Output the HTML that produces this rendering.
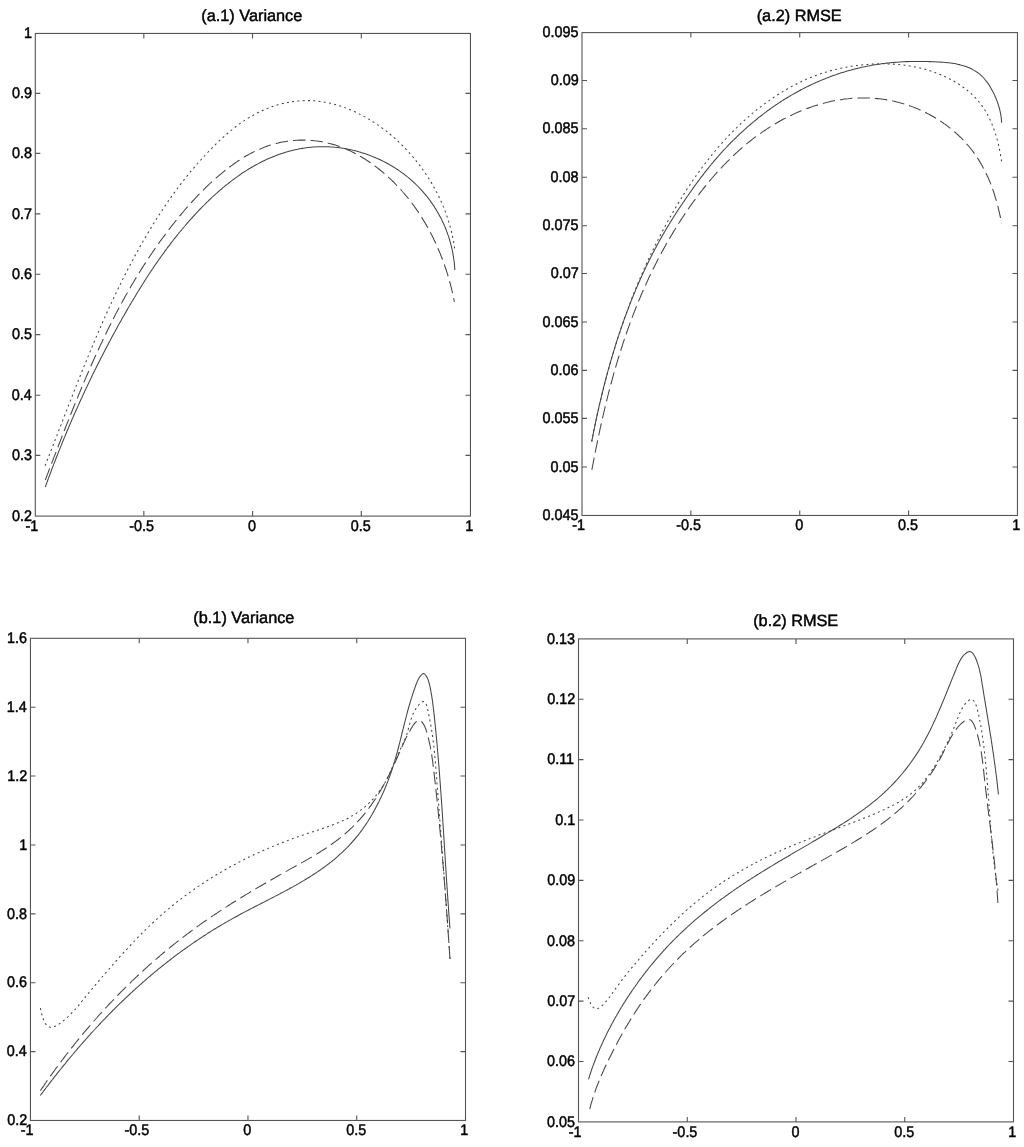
<!DOCTYPE html><html><head><meta charset="utf-8"><style>html,body{margin:0;padding:0;background:#fff;width:1024px;height:1147px;overflow:hidden}svg{display:block;will-change:transform}text{text-rendering:geometricPrecision;font-family:"Liberation Sans",sans-serif;fill:#000;stroke:#000;stroke-width:0.45px}</style></head><body>
<svg width="1024" height="1147" viewBox="0 0 1024 1147">
<rect width="1024" height="1147" fill="#fff"/>
<rect x="35.30" y="33.45" width="435.15" height="482.65" fill="none" stroke="#555" stroke-width="1.1"/>
<path d="M143.84 516.10v-5.00M143.84 33.45v5.00M252.57 516.10v-5.00M252.57 33.45v5.00M361.30 516.10v-5.00M361.30 33.45v5.00M35.30 455.40h5.00M470.45 455.40h-5.00M35.30 395.30h5.00M470.45 395.30h-5.00M35.30 334.60h5.00M470.45 334.60h-5.00M35.30 274.20h5.00M470.45 274.20h-5.00M35.30 213.90h5.00M470.45 213.90h-5.00M35.30 153.40h5.00M470.45 153.40h-5.00M35.30 93.40h5.00M470.45 93.40h-5.00" stroke="#555" stroke-width="1.1"/>
<text transform="matrix(1 0 0 1.07 25.58 531.10)" font-size="14.4">-1</text>
<text transform="matrix(1 0 0 1.07 129.17 531.10)" font-size="14.4">-0.5</text>
<text transform="matrix(1 0 0 1.07 247.97 531.10)" font-size="14.4">0</text>
<text transform="matrix(1 0 0 1.07 350.71 531.10)" font-size="14.4">0.5</text>
<text transform="matrix(1 0 0 1.07 465.25 531.10)" font-size="14.4">1</text>
<text transform="matrix(1 0 0 1.07 12.01 520.85)" font-size="14.4">0.2</text>
<text transform="matrix(1 0 0 1.07 11.91 460.15)" font-size="14.4">0.3</text>
<text transform="matrix(1 0 0 1.07 11.70 400.05)" font-size="14.4">0.4</text>
<text transform="matrix(1 0 0 1.07 11.89 339.35)" font-size="14.4">0.5</text>
<text transform="matrix(1 0 0 1.07 11.91 278.95)" font-size="14.4">0.6</text>
<text transform="matrix(1 0 0 1.07 12.01 218.65)" font-size="14.4">0.7</text>
<text transform="matrix(1 0 0 1.07 11.91 158.15)" font-size="14.4">0.8</text>
<text transform="matrix(1 0 0 1.07 11.96 98.15)" font-size="14.4">0.9</text>
<text transform="matrix(1 0 0 1.07 23.99 38.20)" font-size="14.4">1</text>
<text x="201.27" y="20.80" font-size="16.3">(a.1) Variance</text>
<path d="M45.31 487.00C45.4 486.7 45.8 485.8 46.0 485.1C46.2 484.5 46.4 483.9 46.7 483.3C46.9 482.6 47.1 482.0 47.3 481.4C47.6 480.8 47.8 480.2 48.0 479.5C48.3 478.9 48.5 478.3 48.7 477.7C48.9 477.0 49.2 476.4 49.4 475.8C49.6 475.2 49.9 474.5 50.1 473.9C50.3 473.3 50.6 472.7 50.8 472.1C51.0 471.4 51.3 470.8 51.5 470.2C51.7 469.6 52.0 468.9 52.2 468.3C52.5 467.7 52.7 467.1 52.9 466.4C53.2 465.8 53.4 465.2 53.6 464.6C53.9 464.0 54.1 463.3 54.4 462.7C54.6 462.1 54.8 461.5 55.1 460.9C55.3 460.2 55.6 459.6 55.8 459.0C56.0 458.4 56.3 457.8 56.5 457.1C56.8 456.5 57.0 455.9 57.3 455.3C57.5 454.6 57.8 454.0 58.0 453.4C58.2 452.8 58.5 452.2 58.7 451.5C59.0 450.9 59.2 450.3 59.5 449.7C59.7 449.1 60.0 448.4 60.2 447.8C60.5 447.2 60.7 446.6 61.0 446.0C61.2 445.3 61.5 444.7 61.7 444.1C62.0 443.5 62.2 442.9 62.5 442.2C62.7 441.6 63.0 441.0 63.2 440.4C63.5 439.8 63.8 439.2 64.0 438.5C64.3 437.9 64.5 437.3 64.8 436.7C65.0 436.1 65.3 435.4 65.5 434.8C65.8 434.2 66.1 433.6 66.3 433.0C66.6 432.4 66.8 431.7 67.1 431.1C67.3 430.5 67.6 429.9 67.9 429.3C68.1 428.7 68.4 428.0 68.7 427.4C68.9 426.8 69.2 426.2 69.4 425.6C69.7 425.0 70.0 424.3 70.2 423.7C70.5 423.1 70.8 422.5 71.0 421.9C71.3 421.3 71.6 420.6 71.8 420.0C72.1 419.4 72.4 418.8 72.6 418.2C72.9 417.6 73.2 417.0 73.4 416.3C73.7 415.7 74.0 415.1 74.2 414.5C74.5 413.9 74.8 413.3 75.0 412.7C75.3 412.0 75.6 411.4 75.9 410.8C76.1 410.2 76.4 409.6 76.7 409.0C77.0 408.4 77.2 407.8 77.5 407.1C77.8 406.5 78.1 405.9 78.3 405.3C78.6 404.7 78.9 404.1 79.2 403.5C79.4 402.9 79.7 402.2 80.0 401.6C80.3 401.0 80.5 400.4 80.8 399.8C81.1 399.2 81.4 398.6 81.7 398.0C81.9 397.4 82.2 396.8 82.5 396.1C82.8 395.5 83.1 394.9 83.3 394.3C83.6 393.7 83.9 393.1 84.2 392.5C84.5 391.9 84.8 391.3 85.0 390.7C85.3 390.1 85.6 389.5 85.9 388.9C86.2 388.2 86.5 387.6 86.8 387.0C87.0 386.4 87.3 385.8 87.6 385.2C87.9 384.6 88.2 384.0 88.5 383.4C88.8 382.8 89.1 382.2 89.3 381.6C89.6 381.0 89.9 380.4 90.2 379.8C90.5 379.2 90.8 378.6 91.1 377.9C91.4 377.3 91.7 376.7 92.0 376.1C92.3 375.5 92.6 374.9 92.8 374.3C93.1 373.7 93.4 373.1 93.7 372.5C94.0 371.9 94.3 371.3 94.6 370.7C94.9 370.1 95.2 369.5 95.5 368.9C95.8 368.3 96.1 367.7 96.4 367.1C96.7 366.5 97.0 365.9 97.3 365.3C97.6 364.7 97.9 364.1 98.2 363.5C98.5 362.9 98.8 362.3 99.1 361.7C99.4 361.1 99.7 360.5 100.0 359.9C100.3 359.3 100.6 358.7 100.9 358.1C101.2 357.5 101.5 356.9 101.8 356.4C102.1 355.8 102.4 355.2 102.8 354.6C103.1 354.0 103.4 353.4 103.7 352.8C104.0 352.2 104.3 351.6 104.6 351.0C104.9 350.4 105.2 349.8 105.5 349.2C105.8 348.6 106.1 348.0 106.5 347.4C106.8 346.8 107.1 346.3 107.4 345.7C107.7 345.1 108.0 344.5 108.3 343.9C108.6 343.3 108.9 342.7 109.2 342.1C109.6 341.5 109.9 340.9 110.2 340.4C110.5 339.8 110.8 339.2 111.1 338.6C111.5 338.0 111.8 337.4 112.1 336.8C112.4 336.2 112.7 335.6 113.0 335.1C113.4 334.5 113.7 333.9 114.0 333.3C114.3 332.7 114.6 332.1 115.0 331.5C115.3 331.0 115.6 330.4 115.9 329.8C116.2 329.2 116.6 328.6 116.9 328.0C117.2 327.5 117.5 326.9 117.8 326.3C118.2 325.7 118.5 325.1 118.8 324.5C119.1 324.0 119.5 323.4 119.8 322.8C120.1 322.2 120.4 321.6 120.8 321.1C121.1 320.5 121.4 319.9 121.7 319.3C122.1 318.7 122.4 318.2 122.7 317.6C123.0 317.0 123.4 316.4 123.7 315.9C124.0 315.3 124.4 314.7 124.7 314.1C125.0 313.5 125.4 313.0 125.7 312.4C126.0 311.8 126.3 311.2 126.7 310.7C127.0 310.1 127.3 309.5 127.7 308.9C128.0 308.4 128.3 307.8 128.7 307.2C129.0 306.6 129.3 306.1 129.7 305.5C130.0 304.9 130.4 304.4 130.7 303.8C131.0 303.2 131.4 302.6 131.7 302.1C132.0 301.5 132.4 300.9 132.7 300.4C133.1 299.8 133.4 299.2 133.7 298.7C134.1 298.1 134.4 297.5 134.8 297.0C135.1 296.4 135.4 295.8 135.8 295.3C136.1 294.7 136.5 294.1 136.8 293.6C137.1 293.0 137.5 292.4 137.8 291.9C138.2 291.3 138.5 290.8 138.9 290.2C139.2 289.6 139.6 289.1 139.9 288.5C140.3 287.9 140.6 287.4 141.0 286.8C141.3 286.3 141.7 285.7 142.0 285.1C142.4 284.6 142.7 284.0 143.1 283.5C143.4 282.9 143.8 282.3 144.1 281.8C144.5 281.2 144.8 280.7 145.2 280.1C145.5 279.6 145.9 279.0 146.2 278.5C146.6 277.9 147.0 277.3 147.3 276.8C147.7 276.2 148.1 275.7 148.4 275.1C148.8 274.6 149.1 274.0 149.5 273.5C149.9 272.9 150.2 272.4 150.6 271.8C150.9 271.3 151.3 270.7 151.7 270.2C152.0 269.6 152.4 269.1 152.8 268.5C153.1 268.0 153.5 267.4 153.9 266.9C154.3 266.3 154.6 265.8 155.0 265.2C155.4 264.7 155.8 264.2 156.1 263.6C156.5 263.1 156.9 262.5 157.2 262.0C157.6 261.4 158.0 260.9 158.4 260.4C158.8 259.8 159.1 259.3 159.5 258.7C159.9 258.2 160.3 257.6 160.7 257.1C161.1 256.6 161.4 256.0 161.8 255.5C162.2 255.0 162.6 254.4 163.0 253.9C163.4 253.3 163.8 252.8 164.2 252.3C164.6 251.7 164.9 251.2 165.3 250.7C165.7 250.1 166.1 249.6 166.5 249.1C166.9 248.5 167.3 248.0 167.7 247.4C168.1 246.9 168.5 246.4 168.9 245.9C169.3 245.3 169.7 244.8 170.1 244.3C170.5 243.7 170.9 243.2 171.3 242.7C171.7 242.2 172.1 241.6 172.6 241.1C173.0 240.6 173.4 240.0 173.8 239.5C174.2 239.0 174.6 238.5 175.0 237.9C175.4 237.4 175.9 236.9 176.3 236.4C176.7 235.8 177.1 235.3 177.5 234.8C177.9 234.3 178.4 233.8 178.8 233.2C179.2 232.7 179.6 232.2 180.1 231.7C180.5 231.2 180.9 230.6 181.4 230.1C181.8 229.6 182.2 229.1 182.7 228.6C183.1 228.1 183.5 227.5 184.0 227.0C184.4 226.5 184.8 226.0 185.3 225.5C185.7 225.0 186.1 224.5 186.6 223.9C187.0 223.4 187.5 222.9 187.9 222.4C188.4 221.9 188.8 221.4 189.3 220.9C189.7 220.4 190.2 219.9 190.6 219.4C191.1 218.9 191.5 218.4 192.0 217.8C192.4 217.3 192.9 216.8 193.3 216.3C193.8 215.8 194.3 215.3 194.7 214.8C195.2 214.3 195.6 213.8 196.1 213.3C196.6 212.8 197.0 212.3 197.5 211.8C198.0 211.4 198.4 210.9 198.9 210.4C199.4 209.9 199.9 209.4 200.3 208.9C200.8 208.4 201.3 207.9 201.8 207.4C202.2 206.9 202.7 206.5 203.2 206.0C203.7 205.5 204.2 205.0 204.7 204.5C205.1 204.0 205.6 203.6 206.1 203.1C206.6 202.6 207.1 202.1 207.6 201.7C208.1 201.2 208.5 200.7 209.0 200.2C209.5 199.7 210.0 199.3 210.5 198.8C211.0 198.3 211.5 197.9 212.0 197.4C212.5 197.0 213.0 196.5 213.5 196.0C214.0 195.6 214.5 195.1 215.0 194.7C215.5 194.2 216.0 193.7 216.5 193.3C217.0 192.8 217.6 192.4 218.1 191.9C218.6 191.5 219.1 191.0 219.6 190.6C220.1 190.1 220.6 189.7 221.2 189.3C221.7 188.8 222.2 188.4 222.7 187.9C223.2 187.5 223.8 187.1 224.3 186.7C224.8 186.2 225.3 185.8 225.8 185.4C226.4 184.9 226.9 184.5 227.4 184.1C228.0 183.7 228.5 183.3 229.0 182.8C229.6 182.4 230.1 182.0 230.6 181.6C231.2 181.2 231.7 180.8 232.2 180.4C232.8 180.0 233.3 179.6 233.8 179.2C234.4 178.8 234.9 178.4 235.5 178.0C236.0 177.6 236.6 177.2 237.1 176.8C237.7 176.4 238.2 176.0 238.8 175.6C239.3 175.2 239.9 174.9 240.4 174.5C241.0 174.1 241.5 173.7 242.1 173.3C242.6 173.0 243.2 172.6 243.7 172.2C244.3 171.9 244.9 171.5 245.4 171.2C246.0 170.8 246.5 170.4 247.1 170.1C247.7 169.7 248.2 169.4 248.8 169.0C249.4 168.7 249.9 168.3 250.5 168.0C251.1 167.7 251.6 167.3 252.2 167.0C252.8 166.7 253.4 166.3 253.9 166.0C254.5 165.7 255.1 165.3 255.7 165.0C256.3 164.7 256.8 164.4 257.4 164.1C258.0 163.8 258.6 163.4 259.2 163.1C259.7 162.8 260.3 162.5 260.9 162.2C261.5 161.9 262.1 161.6 262.7 161.3C263.3 161.1 263.9 160.8 264.5 160.5C265.1 160.2 265.6 159.9 266.2 159.6C266.8 159.4 267.4 159.1 268.0 158.8C268.6 158.6 269.2 158.3 269.8 158.0C270.4 157.8 271.0 157.5 271.6 157.3C272.2 157.0 272.8 156.8 273.4 156.5C274.0 156.3 274.7 156.0 275.3 155.8C275.9 155.6 276.5 155.3 277.1 155.1C277.7 154.9 278.3 154.6 278.9 154.4C279.5 154.2 280.2 154.0 280.8 153.8C281.4 153.6 282.0 153.4 282.6 153.2C283.2 153.0 283.9 152.8 284.5 152.6C285.1 152.4 285.7 152.2 286.4 152.0C287.0 151.8 287.6 151.6 288.2 151.4C288.9 151.3 289.5 151.1 290.1 150.9C290.8 150.8 291.4 150.6 292.0 150.4C292.7 150.3 293.3 150.1 293.9 150.0C294.6 149.9 295.2 149.7 295.8 149.6C296.5 149.4 297.1 149.3 297.8 149.2C298.4 149.0 299.0 148.9 299.7 148.8C300.3 148.7 301.0 148.6 301.6 148.5C302.3 148.4 302.9 148.2 303.6 148.2C304.2 148.1 304.9 148.0 305.5 147.9C306.2 147.8 306.8 147.7 307.5 147.6C308.1 147.5 308.8 147.5 309.4 147.4C310.1 147.3 310.7 147.3 311.4 147.2C312.1 147.1 312.7 147.1 313.4 147.0C314.0 147.0 314.7 146.9 315.3 146.9C316.0 146.9 316.7 146.8 317.3 146.8C318.0 146.8 318.6 146.8 319.3 146.7C320.0 146.7 320.6 146.7 321.3 146.7C322.0 146.7 322.6 146.7 323.3 146.7C323.9 146.7 324.6 146.7 325.3 146.7C325.9 146.7 326.6 146.7 327.3 146.8C327.9 146.8 328.6 146.8 329.3 146.8C329.9 146.9 330.6 146.9 331.3 147.0C331.9 147.0 332.6 147.0 333.2 147.1C333.9 147.2 334.6 147.2 335.2 147.3C335.9 147.3 336.6 147.4 337.2 147.5C337.9 147.6 338.6 147.6 339.2 147.7C339.9 147.8 340.5 147.9 341.2 148.0C341.9 148.1 342.5 148.2 343.2 148.3C343.9 148.4 344.5 148.5 345.2 148.6C345.8 148.7 346.5 148.9 347.2 149.0C347.8 149.1 348.5 149.2 349.1 149.4C349.8 149.5 350.5 149.7 351.1 149.8C351.8 149.9 352.4 150.1 353.1 150.3C353.7 150.4 354.4 150.6 355.0 150.7C355.7 150.9 356.3 151.1 357.0 151.2C357.6 151.4 358.3 151.6 358.9 151.8C359.6 152.0 360.2 152.2 360.9 152.4C361.5 152.6 362.2 152.8 362.8 153.0C363.4 153.2 364.1 153.4 364.7 153.6C365.4 153.8 366.0 154.0 366.6 154.3C367.3 154.5 367.9 154.7 368.6 154.9C369.2 155.2 369.8 155.4 370.4 155.7C371.1 155.9 371.7 156.1 372.3 156.4C373.0 156.7 373.6 156.9 374.2 157.2C374.8 157.4 375.5 157.7 376.1 158.0C376.7 158.2 377.3 158.5 377.9 158.8C378.5 159.1 379.1 159.3 379.8 159.6C380.4 159.9 381.0 160.2 381.6 160.5C382.2 160.8 382.8 161.1 383.4 161.4C384.0 161.7 384.6 162.0 385.2 162.3C385.8 162.6 386.4 163.0 387.0 163.3C387.6 163.6 388.2 163.9 388.8 164.2C389.3 164.6 389.9 164.9 390.5 165.2C391.1 165.6 391.7 165.9 392.3 166.3C392.8 166.6 393.4 167.0 394.0 167.3C394.6 167.7 395.1 168.0 395.7 168.4C396.3 168.8 396.8 169.1 397.4 169.5C397.9 169.9 398.5 170.2 399.1 170.6C399.6 171.0 400.2 171.4 400.7 171.8C401.3 172.2 401.8 172.5 402.3 172.9C402.9 173.3 403.4 173.7 404.0 174.1C404.5 174.5 405.0 175.0 405.6 175.4C406.1 175.8 406.6 176.2 407.1 176.6C407.7 177.0 408.2 177.4 408.7 177.9C409.2 178.3 409.7 178.7 410.2 179.2C410.7 179.6 411.2 180.0 411.7 180.5C412.2 180.9 412.7 181.4 413.2 181.8C413.7 182.3 414.2 182.7 414.7 183.2C415.2 183.6 415.7 184.1 416.1 184.6C416.6 185.0 417.1 185.5 417.6 186.0C418.0 186.4 418.5 186.9 418.9 187.4C419.4 187.9 419.9 188.3 420.3 188.8C420.8 189.3 421.2 189.8 421.7 190.3C422.1 190.8 422.6 191.3 423.0 191.8C423.4 192.3 423.9 192.8 424.3 193.3C424.7 193.8 425.2 194.3 425.6 194.8C426.0 195.3 426.4 195.9 426.8 196.4C427.3 196.9 427.7 197.4 428.1 197.9C428.5 198.5 428.9 199.0 429.3 199.5C429.7 200.1 430.1 200.6 430.5 201.2C430.8 201.7 431.2 202.2 431.6 202.8C432.0 203.3 432.4 203.9 432.8 204.4C433.1 205.0 433.5 205.5 433.9 206.1C434.2 206.6 434.6 207.2 434.9 207.8C435.3 208.3 435.6 208.9 436.0 209.4C436.3 210.0 436.7 210.6 437.0 211.2C437.3 211.7 437.7 212.3 438.0 212.9C438.3 213.5 438.7 214.0 439.0 214.6C439.3 215.2 439.6 215.8 439.9 216.4C440.3 217.0 440.6 217.5 440.9 218.1C441.2 218.7 441.5 219.3 441.8 219.9C442.0 220.5 442.3 221.1 442.6 221.7C442.9 222.3 443.2 222.9 443.5 223.5C443.7 224.1 444.0 224.7 444.3 225.4C444.5 226.0 444.8 226.6 445.1 227.2C445.3 227.8 445.6 228.4 445.8 229.1C446.1 229.7 446.3 230.3 446.5 230.9C446.8 231.5 447.0 232.2 447.2 232.8C447.5 233.4 447.7 234.0 447.9 234.7C448.1 235.3 448.3 235.9 448.6 236.6C448.8 237.2 449.0 237.8 449.2 238.5C449.4 239.1 449.6 239.7 449.7 240.4C449.9 241.0 450.1 241.7 450.3 242.3C450.5 243.0 450.6 243.6 450.8 244.2C451.0 244.9 451.2 245.5 451.3 246.2C451.5 246.8 451.6 247.5 451.8 248.2C451.9 248.8 452.1 249.5 452.2 250.1C452.4 250.8 452.5 251.4 452.6 252.1C452.8 252.7 452.9 253.4 453.0 254.1C453.1 254.7 453.2 255.4 453.3 256.1C453.4 256.7 453.6 257.4 453.6 258.0C453.7 258.7 453.8 259.4 453.9 260.0C454.0 260.7 454.1 261.4 454.2 262.0C454.3 262.7 454.3 263.4 454.4 264.1C454.5 264.7 454.5 265.4 454.6 266.1C454.6 266.7 454.7 267.4 454.7 268.1C454.8 268.8 454.8 269.8 454.9 270.1" fill="none" stroke="#444" stroke-width="1.05"/>
<path d="M45.27 480.00C45.4 479.7 45.8 478.7 46.0 478.1C46.2 477.5 46.5 476.9 46.7 476.2C47.0 475.6 47.2 475.0 47.4 474.4C47.7 473.7 47.9 473.1 48.2 472.5C48.4 471.9 48.6 471.2 48.9 470.6C49.1 470.0 49.4 469.3 49.6 468.7C49.8 468.1 50.1 467.5 50.3 466.8C50.6 466.2 50.8 465.6 51.0 465.0C51.3 464.3 51.5 463.7 51.8 463.1C52.0 462.5 52.2 461.8 52.5 461.2C52.7 460.6 53.0 460.0 53.2 459.3C53.4 458.7 53.7 458.1 53.9 457.4C54.2 456.8 54.4 456.2 54.6 455.6C54.9 454.9 55.1 454.3 55.4 453.7C55.6 453.1 55.9 452.4 56.1 451.8C56.3 451.2 56.6 450.6 56.8 449.9C57.1 449.3 57.3 448.7 57.5 448.1C57.8 447.4 58.0 446.8 58.3 446.2C58.5 445.6 58.7 444.9 59.0 444.3C59.2 443.7 59.5 443.1 59.7 442.4C60.0 441.8 60.2 441.2 60.4 440.6C60.7 439.9 60.9 439.3 61.2 438.7C61.4 438.1 61.6 437.5 61.9 436.8C62.1 436.2 62.4 435.6 62.6 435.0C62.9 434.3 63.1 433.7 63.4 433.1C63.6 432.5 63.8 431.8 64.1 431.2C64.3 430.6 64.6 430.0 64.8 429.3C65.1 428.7 65.3 428.1 65.5 427.5C65.8 426.9 66.0 426.2 66.3 425.6C66.5 425.0 66.8 424.4 67.0 423.7C67.3 423.1 67.5 422.5 67.8 421.9C68.0 421.2 68.2 420.6 68.5 420.0C68.7 419.4 69.0 418.8 69.2 418.1C69.5 417.5 69.7 416.9 70.0 416.3C70.2 415.7 70.5 415.0 70.7 414.4C71.0 413.8 71.2 413.2 71.5 412.6C71.7 411.9 72.0 411.3 72.2 410.7C72.4 410.1 72.7 409.5 73.0 408.8C73.2 408.2 73.5 407.6 73.7 407.0C74.0 406.4 74.2 405.7 74.5 405.1C74.7 404.5 75.0 403.9 75.2 403.3C75.5 402.7 75.7 402.0 76.0 401.4C76.2 400.8 76.5 400.2 76.7 399.6C77.0 398.9 77.2 398.3 77.5 397.7C77.7 397.1 78.0 396.5 78.2 395.9C78.5 395.2 78.7 394.6 79.0 394.0C79.3 393.4 79.5 392.8 79.8 392.2C80.0 391.5 80.3 390.9 80.5 390.3C80.8 389.7 81.1 389.1 81.3 388.5C81.6 387.8 81.8 387.2 82.1 386.6C82.3 386.0 82.6 385.4 82.8 384.8C83.1 384.2 83.4 383.6 83.6 382.9C83.9 382.3 84.1 381.7 84.4 381.1C84.7 380.5 84.9 379.9 85.2 379.3C85.5 378.6 85.7 378.0 86.0 377.4C86.2 376.8 86.5 376.2 86.8 375.6C87.0 375.0 87.3 374.4 87.6 373.8C87.8 373.1 88.1 372.5 88.4 371.9C88.6 371.3 88.9 370.7 89.2 370.1C89.4 369.5 89.7 368.9 90.0 368.3C90.2 367.6 90.5 367.0 90.8 366.4C91.0 365.8 91.3 365.2 91.6 364.6C91.8 364.0 92.1 363.4 92.4 362.8C92.6 362.2 92.9 361.6 93.2 361.0C93.5 360.4 93.7 359.7 94.0 359.1C94.3 358.5 94.5 357.9 94.8 357.3C95.1 356.7 95.4 356.1 95.6 355.5C95.9 354.9 96.2 354.3 96.5 353.7C96.7 353.1 97.0 352.5 97.3 351.9C97.6 351.3 97.9 350.7 98.1 350.1C98.4 349.5 98.7 348.9 99.0 348.3C99.2 347.7 99.5 347.1 99.8 346.5C100.1 345.9 100.4 345.3 100.7 344.6C100.9 344.0 101.2 343.5 101.5 342.9C101.8 342.2 102.1 341.7 102.3 341.1C102.6 340.4 102.9 339.8 103.2 339.2C103.5 338.7 103.8 338.1 104.1 337.5C104.3 336.9 104.6 336.3 104.9 335.7C105.2 335.1 105.5 334.5 105.8 333.9C106.1 333.3 106.4 332.7 106.7 332.1C107.0 331.5 107.2 330.9 107.5 330.3C107.8 329.7 108.1 329.1 108.4 328.5C108.7 327.9 109.0 327.3 109.3 326.7C109.6 326.1 109.9 325.5 110.2 324.9C110.5 324.4 110.8 323.8 111.1 323.2C111.4 322.6 111.7 322.0 112.0 321.4C112.3 320.8 112.6 320.2 112.9 319.6C113.2 319.0 113.5 318.5 113.8 317.9C114.1 317.3 114.4 316.7 114.7 316.1C115.0 315.5 115.3 314.9 115.6 314.3C115.9 313.7 116.2 313.1 116.5 312.6C116.8 312.0 117.2 311.4 117.5 310.8C117.8 310.2 118.1 309.6 118.4 309.0C118.7 308.5 119.0 307.9 119.3 307.3C119.6 306.7 120.0 306.1 120.3 305.5C120.6 305.0 120.9 304.4 121.2 303.8C121.5 303.2 121.8 302.6 122.2 302.0C122.5 301.5 122.8 300.9 123.1 300.3C123.4 299.7 123.8 299.1 124.1 298.6C124.4 298.0 124.7 297.4 125.0 296.8C125.4 296.2 125.7 295.7 126.0 295.1C126.3 294.5 126.7 293.9 127.0 293.4C127.3 292.8 127.6 292.2 128.0 291.6C128.3 291.0 128.6 290.5 129.0 289.9C129.3 289.3 129.6 288.7 129.9 288.2C130.3 287.6 130.6 287.0 130.9 286.4C131.3 285.9 131.6 285.3 131.9 284.7C132.3 284.2 132.6 283.6 133.0 283.0C133.3 282.4 133.6 281.9 134.0 281.3C134.3 280.7 134.7 280.2 135.0 279.6C135.3 279.0 135.7 278.5 136.0 277.9C136.4 277.3 136.7 276.8 137.1 276.2C137.4 275.6 137.8 275.1 138.1 274.5C138.4 273.9 138.8 273.4 139.1 272.8C139.5 272.2 139.8 271.7 140.2 271.1C140.5 270.5 140.9 270.0 141.2 269.4C141.6 268.9 142.0 268.3 142.3 267.7C142.7 267.2 143.0 266.6 143.4 266.1C143.7 265.5 144.1 264.9 144.5 264.4C144.8 263.8 145.2 263.2 145.5 262.7C145.9 262.1 146.3 261.6 146.6 261.0C147.0 260.5 147.4 259.9 147.7 259.4C148.1 258.8 148.5 258.2 148.8 257.7C149.2 257.1 149.6 256.6 149.9 256.0C150.3 255.5 150.7 254.9 151.1 254.4C151.4 253.8 151.8 253.3 152.2 252.7C152.5 252.2 152.9 251.6 153.3 251.1C153.7 250.5 154.1 250.0 154.4 249.4C154.8 248.9 155.2 248.3 155.6 247.8C156.0 247.2 156.3 246.7 156.7 246.1C157.1 245.6 157.5 245.0 157.9 244.5C158.3 243.9 158.7 243.4 159.0 242.9C159.4 242.3 159.8 241.8 160.2 241.2C160.6 240.7 161.0 240.2 161.4 239.6C161.8 239.1 162.2 238.5 162.6 238.0C163.0 237.5 163.4 236.9 163.8 236.4C164.2 235.8 164.6 235.3 165.0 234.8C165.4 234.2 165.8 233.7 166.2 233.1C166.6 232.6 167.0 232.1 167.4 231.5C167.8 231.0 168.2 230.5 168.6 229.9C169.0 229.4 169.4 228.9 169.8 228.3C170.3 227.8 170.7 227.3 171.1 226.7C171.5 226.2 171.9 225.7 172.3 225.2C172.7 224.6 173.2 224.1 173.6 223.6C174.0 223.0 174.4 222.5 174.8 222.0C175.3 221.5 175.7 220.9 176.1 220.4C176.5 219.9 177.0 219.4 177.4 218.8C177.8 218.3 178.2 217.8 178.7 217.3C179.1 216.7 179.5 216.2 179.9 215.7C180.4 215.2 180.8 214.7 181.2 214.1C181.7 213.6 182.1 213.1 182.6 212.6C183.0 212.1 183.4 211.5 183.9 211.0C184.3 210.5 184.8 210.0 185.2 209.5C185.6 209.0 186.1 208.5 186.5 207.9C187.0 207.4 187.4 206.9 187.9 206.4C188.3 205.9 188.8 205.4 189.2 204.9C189.7 204.4 190.1 203.9 190.6 203.4C191.0 202.9 191.5 202.4 191.9 201.9C192.4 201.4 192.9 200.9 193.3 200.4C193.8 199.9 194.2 199.4 194.7 198.9C195.2 198.4 195.6 197.9 196.1 197.4C196.6 196.9 197.0 196.4 197.5 195.9C198.0 195.4 198.4 194.9 198.9 194.4C199.4 193.9 199.9 193.5 200.3 193.0C200.8 192.5 201.3 192.0 201.8 191.5C202.2 191.0 202.7 190.6 203.2 190.1C203.7 189.6 204.2 189.1 204.7 188.6C205.1 188.2 205.6 187.7 206.1 187.2C206.6 186.8 207.1 186.3 207.6 185.8C208.1 185.4 208.5 184.9 209.0 184.4C209.5 184.0 210.0 183.5 210.5 183.0C211.0 182.6 211.5 182.1 212.0 181.7C212.5 181.2 213.0 180.8 213.5 180.3C214.0 179.8 214.5 179.4 215.0 178.9C215.5 178.5 216.0 178.1 216.6 177.6C217.1 177.2 217.6 176.7 218.1 176.3C218.6 175.9 219.1 175.4 219.6 175.0C220.1 174.5 220.7 174.1 221.2 173.7C221.7 173.3 222.2 172.8 222.7 172.4C223.3 172.0 223.8 171.6 224.3 171.1C224.8 170.7 225.4 170.3 225.9 169.9C226.4 169.5 226.9 169.1 227.5 168.7C228.0 168.3 228.5 167.8 229.1 167.4C229.6 167.0 230.1 166.6 230.7 166.2C231.2 165.8 231.7 165.5 232.3 165.1C232.8 164.7 233.4 164.3 233.9 163.9C234.5 163.5 235.0 163.1 235.6 162.8C236.1 162.4 236.7 162.0 237.2 161.6C237.8 161.2 238.3 160.9 238.9 160.5C239.4 160.2 240.0 159.8 240.5 159.4C241.1 159.1 241.7 158.7 242.2 158.4C242.8 158.0 243.3 157.7 243.9 157.3C244.5 157.0 245.0 156.7 245.6 156.3C246.2 156.0 246.7 155.7 247.3 155.3C247.9 155.0 248.5 154.7 249.0 154.4C249.6 154.1 250.2 153.7 250.8 153.4C251.4 153.1 251.9 152.8 252.5 152.5C253.1 152.2 253.7 151.9 254.3 151.6C254.9 151.3 255.5 151.1 256.0 150.8C256.6 150.5 257.2 150.2 257.8 150.0C258.4 149.7 259.0 149.4 259.6 149.2C260.2 148.9 260.8 148.6 261.4 148.4C262.0 148.1 262.6 147.9 263.2 147.7C263.8 147.4 264.4 147.2 265.0 146.9C265.6 146.7 266.3 146.5 266.9 146.3C267.5 146.1 268.1 145.8 268.7 145.6C269.3 145.4 269.9 145.2 270.6 145.0C271.2 144.8 271.8 144.7 272.4 144.5C273.1 144.3 273.7 144.1 274.3 143.9C274.9 143.8 275.6 143.6 276.2 143.4C276.8 143.3 277.5 143.1 278.1 143.0C278.7 142.8 279.4 142.7 280.0 142.5C280.6 142.4 281.3 142.3 281.9 142.1C282.5 142.0 283.2 141.9 283.8 141.8C284.5 141.7 285.1 141.6 285.8 141.4C286.4 141.3 287.0 141.3 287.7 141.2C288.3 141.1 289.0 141.0 289.6 140.9C290.3 140.8 290.9 140.7 291.6 140.7C292.2 140.6 292.9 140.5 293.5 140.5C294.2 140.4 294.8 140.4 295.5 140.3C296.1 140.3 296.8 140.3 297.4 140.2C298.1 140.2 298.7 140.2 299.4 140.1C300.0 140.1 300.7 140.1 301.3 140.1C302.0 140.1 302.6 140.1 303.3 140.1C303.9 140.1 304.6 140.1 305.2 140.1C305.9 140.1 306.6 140.1 307.2 140.2C307.9 140.2 308.5 140.2 309.2 140.3C309.8 140.3 310.5 140.3 311.1 140.4C311.8 140.5 312.4 140.5 313.1 140.6C313.8 140.6 314.4 140.7 315.1 140.8C315.7 140.8 316.4 140.9 317.0 141.0C317.7 141.1 318.3 141.2 319.0 141.3C319.6 141.4 320.3 141.5 320.9 141.6C321.6 141.7 322.2 141.8 322.9 141.9C323.5 142.1 324.1 142.2 324.8 142.3C325.4 142.5 326.1 142.6 326.7 142.8C327.4 142.9 328.0 143.0 328.6 143.2C329.3 143.4 329.9 143.5 330.6 143.7C331.2 143.9 331.8 144.0 332.5 144.2C333.1 144.4 333.8 144.6 334.4 144.8C335.0 145.0 335.6 145.2 336.3 145.4C336.9 145.6 337.5 145.8 338.2 146.0C338.8 146.2 339.4 146.5 340.1 146.7C340.7 146.9 341.3 147.2 341.9 147.4C342.5 147.7 343.2 147.9 343.8 148.1C344.4 148.4 345.0 148.6 345.6 148.9C346.2 149.2 346.9 149.4 347.5 149.7C348.1 150.0 348.7 150.3 349.3 150.6C349.9 150.8 350.5 151.1 351.1 151.4C351.7 151.7 352.3 152.0 352.9 152.3C353.5 152.6 354.1 152.9 354.7 153.2C355.3 153.5 355.9 153.8 356.5 154.2C357.1 154.5 357.7 154.8 358.3 155.2C358.9 155.5 359.5 155.8 360.1 156.2C360.6 156.5 361.2 156.8 361.8 157.2C362.4 157.5 363.0 157.9 363.5 158.2C364.1 158.6 364.7 158.9 365.3 159.3C365.8 159.7 366.4 160.0 367.0 160.4C367.5 160.8 368.1 161.2 368.7 161.5C369.2 161.9 369.8 162.3 370.4 162.7C370.9 163.1 371.5 163.5 372.0 163.9C372.6 164.3 373.1 164.7 373.7 165.1C374.2 165.5 374.8 165.9 375.3 166.3C375.8 166.7 376.4 167.1 376.9 167.5C377.5 167.9 378.0 168.3 378.5 168.8C379.1 169.2 379.6 169.6 380.1 170.0C380.6 170.4 381.2 170.9 381.7 171.3C382.2 171.7 382.7 172.2 383.3 172.6C383.8 173.1 384.3 173.5 384.8 173.9C385.3 174.4 385.8 174.8 386.3 175.3C386.8 175.7 387.3 176.2 387.8 176.6C388.3 177.1 388.8 177.5 389.3 178.0C389.8 178.5 390.3 178.9 390.8 179.4C391.3 179.8 391.8 180.3 392.3 180.8C392.7 181.3 393.2 181.7 393.7 182.2C394.2 182.7 394.7 183.2 395.1 183.6C395.6 184.1 396.1 184.6 396.5 185.1C397.0 185.6 397.5 186.0 397.9 186.5C398.4 187.0 398.9 187.5 399.3 188.0C399.8 188.5 400.2 189.0 400.7 189.5C401.1 190.0 401.6 190.5 402.0 191.0C402.5 191.5 402.9 192.0 403.3 192.5C403.8 193.0 404.2 193.5 404.6 194.1C405.1 194.6 405.5 195.1 405.9 195.6C406.4 196.1 406.8 196.6 407.2 197.2C407.7 197.7 408.1 198.2 408.5 198.7C408.9 199.3 409.3 199.8 409.7 200.3C410.2 200.8 410.6 201.4 411.0 201.9C411.4 202.4 411.8 203.0 412.2 203.5C412.6 204.1 413.0 204.6 413.4 205.1C413.8 205.7 414.2 206.2 414.6 206.8C415.0 207.3 415.3 207.9 415.7 208.4C416.1 209.0 416.5 209.5 416.9 210.1C417.3 210.6 417.6 211.2 418.0 211.7C418.4 212.3 418.8 212.8 419.1 213.4C419.5 214.0 419.9 214.5 420.2 215.1C420.6 215.7 421.0 216.2 421.3 216.8C421.7 217.3 422.0 217.9 422.4 218.5C422.7 219.1 423.1 219.6 423.4 220.2C423.8 220.8 424.1 221.4 424.5 221.9C424.8 222.5 425.2 223.1 425.5 223.7C425.8 224.2 426.2 224.8 426.5 225.4C426.8 226.0 427.2 226.6 427.5 227.2C427.8 227.7 428.1 228.3 428.5 228.9C428.8 229.5 429.1 230.1 429.4 230.7C429.7 231.3 430.1 231.9 430.4 232.5C430.7 233.1 431.0 233.7 431.3 234.2C431.6 234.8 431.9 235.4 432.2 236.0C432.5 236.6 432.8 237.2 433.1 237.8C433.4 238.4 433.7 239.0 434.0 239.7C434.3 240.3 434.6 240.9 434.9 241.5C435.1 242.1 435.4 242.7 435.7 243.3C436.0 243.9 436.3 244.5 436.5 245.1C436.8 245.7 437.1 246.3 437.4 246.9C437.6 247.6 437.9 248.2 438.2 248.8C438.4 249.4 438.7 250.0 438.9 250.6C439.2 251.3 439.5 251.9 439.7 252.5C440.0 253.1 440.2 253.7 440.5 254.3C440.7 255.0 441.0 255.6 441.2 256.2C441.5 256.8 441.7 257.5 441.9 258.1C442.2 258.7 442.4 259.3 442.6 259.9C442.9 260.6 443.1 261.2 443.3 261.8C443.6 262.4 443.8 263.1 444.0 263.7C444.2 264.3 444.5 265.0 444.7 265.6C444.9 266.2 445.1 266.9 445.3 267.5C445.5 268.1 445.8 268.7 446.0 269.4C446.2 270.0 446.4 270.6 446.6 271.3C446.8 271.9 447.0 272.5 447.2 273.2C447.4 273.8 447.6 274.4 447.8 275.1C448.0 275.7 448.2 276.3 448.4 277.0C448.5 277.6 448.7 278.2 448.9 278.9C449.1 279.5 449.3 280.2 449.4 280.8C449.6 281.4 449.8 282.1 450.0 282.7C450.1 283.3 450.3 284.0 450.5 284.6C450.6 285.2 450.8 285.9 451.0 286.5C451.1 287.2 451.3 287.8 451.5 288.4C451.6 289.1 451.8 289.7 451.9 290.4C452.1 291.0 452.2 291.6 452.4 292.3C452.5 292.9 452.7 293.6 452.8 294.2C453.0 294.8 453.1 295.5 453.2 296.1C453.4 296.7 453.5 297.4 453.6 298.0C453.8 298.7 453.9 299.3 454.0 299.9C454.2 300.6 454.3 301.5 454.4 301.9" fill="none" stroke="#444" stroke-width="1.05" stroke-dasharray="12.5 5"/>
<path d="M45.09 465.70C45.2 465.4 45.6 464.5 45.8 463.8C46.1 463.2 46.3 462.6 46.6 462.0C46.8 461.4 47.0 460.7 47.3 460.1C47.5 459.5 47.8 458.9 48.0 458.3C48.3 457.6 48.5 457.0 48.8 456.4C49.0 455.8 49.2 455.1 49.5 454.5C49.7 453.9 50.0 453.3 50.2 452.7C50.5 452.0 50.7 451.4 50.9 450.8C51.2 450.2 51.4 449.6 51.7 448.9C51.9 448.3 52.1 447.7 52.4 447.1C52.6 446.4 52.9 445.8 53.1 445.2C53.4 444.6 53.6 444.0 53.9 443.3C54.1 442.7 54.3 442.1 54.6 441.5C54.8 440.9 55.1 440.2 55.3 439.6C55.5 439.0 55.8 438.4 56.0 437.7C56.3 437.1 56.5 436.5 56.8 435.9C57.0 435.3 57.2 434.6 57.5 434.0C57.7 433.4 57.9 432.8 58.2 432.1C58.4 431.5 58.7 430.9 58.9 430.3C59.2 429.6 59.4 429.0 59.6 428.4C59.9 427.8 60.1 427.2 60.4 426.5C60.6 425.9 60.8 425.3 61.1 424.7C61.3 424.0 61.6 423.4 61.8 422.8C62.1 422.2 62.3 421.6 62.5 420.9C62.8 420.3 63.0 419.7 63.3 419.1C63.5 418.4 63.7 417.8 64.0 417.2C64.2 416.6 64.5 415.9 64.7 415.3C65.0 414.7 65.2 414.1 65.4 413.4C65.7 412.8 65.9 412.2 66.2 411.6C66.4 411.0 66.6 410.3 66.9 409.7C67.1 409.1 67.4 408.5 67.6 407.9C67.9 407.2 68.1 406.6 68.3 406.0C68.6 405.4 68.8 404.7 69.1 404.1C69.3 403.5 69.6 402.9 69.8 402.2C70.0 401.6 70.3 401.0 70.5 400.4C70.8 399.8 71.0 399.1 71.3 398.5C71.5 397.9 71.8 397.3 72.0 396.6C72.2 396.0 72.5 395.4 72.7 394.8C73.0 394.2 73.2 393.5 73.5 392.9C73.7 392.3 73.9 391.7 74.2 391.1C74.4 390.4 74.7 389.8 74.9 389.2C75.2 388.6 75.4 387.9 75.7 387.3C75.9 386.7 76.2 386.1 76.4 385.4C76.6 384.8 76.9 384.2 77.1 383.6C77.4 383.0 77.6 382.3 77.9 381.7C78.1 381.1 78.4 380.5 78.6 379.9C78.9 379.2 79.1 378.6 79.4 378.0C79.6 377.4 79.9 376.8 80.1 376.1C80.4 375.5 80.6 374.9 80.8 374.3C81.1 373.7 81.3 373.0 81.6 372.4C81.8 371.8 82.1 371.2 82.3 370.6C82.6 369.9 82.8 369.3 83.1 368.7C83.3 368.1 83.6 367.5 83.8 366.8C84.1 366.2 84.3 365.6 84.6 365.0C84.8 364.4 85.1 363.7 85.3 363.1C85.6 362.5 85.9 361.9 86.1 361.3C86.4 360.7 86.6 360.0 86.9 359.4C87.1 358.8 87.4 358.2 87.6 357.6C87.9 356.9 88.1 356.3 88.4 355.7C88.6 355.1 88.9 354.5 89.2 353.9C89.4 353.2 89.7 352.6 89.9 352.0C90.2 351.4 90.4 350.8 90.7 350.2C90.9 349.5 91.2 348.9 91.5 348.3C91.7 347.7 92.0 347.1 92.2 346.5C92.5 345.8 92.8 345.2 93.0 344.6C93.3 344.0 93.5 343.4 93.8 342.8C94.0 342.2 94.3 341.5 94.6 340.9C94.8 340.3 95.1 339.7 95.3 339.1C95.6 338.5 95.9 337.9 96.1 337.2C96.4 336.6 96.7 336.0 96.9 335.4C97.2 334.8 97.4 334.2 97.7 333.6C98.0 333.0 98.2 332.3 98.5 331.7C98.8 331.1 99.0 330.5 99.3 329.9C99.6 329.3 99.8 328.7 100.1 328.1C100.4 327.4 100.6 326.8 100.9 326.2C101.2 325.6 101.4 325.0 101.7 324.4C102.0 323.8 102.2 323.2 102.5 322.6C102.8 321.9 103.0 321.3 103.3 320.7C103.6 320.1 103.9 319.5 104.1 318.9C104.4 318.3 104.7 317.7 104.9 317.1C105.2 316.5 105.5 315.9 105.8 315.3C106.0 314.7 106.3 314.0 106.6 313.4C106.8 312.8 107.1 312.2 107.4 311.6C107.7 311.0 107.9 310.4 108.2 309.8C108.5 309.2 108.8 308.6 109.0 308.0C109.3 307.4 109.6 306.8 109.9 306.2C110.2 305.6 110.4 305.0 110.7 304.4C111.0 303.7 111.3 303.1 111.6 302.5C111.8 301.9 112.1 301.3 112.4 300.7C112.7 300.1 113.0 299.5 113.2 298.9C113.5 298.3 113.8 297.7 114.1 297.1C114.4 296.5 114.7 295.9 115.0 295.3C115.2 294.7 115.5 294.1 115.8 293.5C116.1 292.9 116.4 292.3 116.7 291.7C117.0 291.1 117.3 290.5 117.5 289.9C117.8 289.3 118.1 288.7 118.4 288.1C118.7 287.5 119.0 286.9 119.3 286.3C119.6 285.7 119.9 285.1 120.2 284.5C120.5 283.9 120.8 283.3 121.0 282.7C121.3 282.1 121.6 281.5 121.9 280.9C122.2 280.3 122.5 279.7 122.8 279.1C123.1 278.6 123.4 278.0 123.7 277.4C124.0 276.8 124.3 276.2 124.6 275.6C124.9 275.0 125.2 274.4 125.5 273.8C125.8 273.2 126.1 272.6 126.4 272.0C126.7 271.4 127.0 270.9 127.3 270.3C127.6 269.7 127.9 269.1 128.2 268.5C128.6 267.9 128.9 267.3 129.2 266.7C129.5 266.1 129.8 265.5 130.1 264.9C130.4 264.4 130.7 263.8 131.0 263.2C131.3 262.6 131.6 262.0 131.9 261.4C132.3 260.8 132.6 260.2 132.9 259.7C133.2 259.1 133.5 258.5 133.8 257.9C134.1 257.3 134.5 256.7 134.8 256.1C135.1 255.6 135.4 255.0 135.7 254.4C136.0 253.8 136.4 253.2 136.7 252.6C137.0 252.1 137.3 251.5 137.7 250.9C138.0 250.3 138.3 249.7 138.6 249.2C138.9 248.6 139.3 248.0 139.6 247.4C139.9 246.8 140.2 246.2 140.6 245.7C140.9 245.1 141.2 244.5 141.6 243.9C141.9 243.4 142.2 242.8 142.5 242.2C142.9 241.6 143.2 241.0 143.5 240.5C143.9 239.9 144.2 239.3 144.5 238.7C144.9 238.2 145.2 237.6 145.5 237.0C145.9 236.4 146.2 235.9 146.5 235.3C146.9 234.7 147.2 234.2 147.6 233.6C147.9 233.0 148.2 232.4 148.6 231.9C148.9 231.3 149.2 230.7 149.6 230.2C149.9 229.6 150.3 229.0 150.6 228.4C151.0 227.9 151.3 227.3 151.7 226.7C152.0 226.2 152.4 225.6 152.7 225.0C153.0 224.5 153.4 223.9 153.8 223.3C154.1 222.8 154.5 222.2 154.8 221.6C155.2 221.1 155.5 220.5 155.9 219.9C156.2 219.4 156.6 218.8 156.9 218.2C157.3 217.7 157.7 217.1 158.0 216.6C158.4 216.0 158.7 215.4 159.1 214.9C159.4 214.3 159.8 213.8 160.2 213.2C160.5 212.7 160.9 212.1 161.3 211.5C161.6 211.0 162.0 210.4 162.4 209.9C162.7 209.3 163.1 208.8 163.5 208.2C163.8 207.6 164.2 207.1 164.6 206.5C165.0 206.0 165.3 205.4 165.7 204.9C166.1 204.3 166.5 203.8 166.8 203.2C167.2 202.7 167.6 202.1 168.0 201.6C168.3 201.0 168.7 200.5 169.1 199.9C169.5 199.4 169.9 198.8 170.3 198.3C170.6 197.8 171.0 197.2 171.4 196.7C171.8 196.1 172.2 195.6 172.6 195.0C173.0 194.5 173.4 194.0 173.8 193.4C174.2 192.9 174.5 192.3 174.9 191.8C175.3 191.2 175.7 190.7 176.1 190.2C176.5 189.6 176.9 189.1 177.3 188.6C177.7 188.0 178.1 187.5 178.5 186.9C178.9 186.4 179.3 185.9 179.7 185.3C180.1 184.8 180.5 184.3 180.9 183.8C181.4 183.2 181.8 182.7 182.2 182.2C182.6 181.6 183.0 181.1 183.4 180.6C183.8 180.1 184.2 179.5 184.7 179.0C185.1 178.5 185.5 177.9 185.9 177.4C186.3 176.9 186.7 176.4 187.2 175.8C187.6 175.3 188.0 174.8 188.4 174.3C188.9 173.8 189.3 173.2 189.7 172.7C190.1 172.2 190.6 171.7 191.0 171.2C191.4 170.7 191.9 170.1 192.3 169.6C192.7 169.1 193.2 168.6 193.6 168.1C194.0 167.6 194.5 167.1 194.9 166.6C195.4 166.0 195.8 165.5 196.2 165.0C196.7 164.5 197.1 164.0 197.6 163.5C198.0 163.0 198.5 162.5 198.9 162.0C199.4 161.5 199.8 161.0 200.3 160.5C200.7 160.0 201.2 159.5 201.6 158.9C202.1 158.4 202.6 157.9 203.0 157.4C203.5 157.0 203.9 156.5 204.4 156.0C204.9 155.5 205.3 155.0 205.8 154.5C206.2 154.0 206.7 153.5 207.2 153.0C207.6 152.5 208.1 152.0 208.6 151.5C209.1 151.0 209.5 150.5 210.0 150.0C210.5 149.6 211.0 149.1 211.4 148.6C211.9 148.1 212.4 147.6 212.9 147.1C213.4 146.6 213.8 146.2 214.3 145.7C214.8 145.2 215.3 144.7 215.8 144.2C216.3 143.8 216.8 143.3 217.3 142.8C217.8 142.3 218.2 141.9 218.7 141.4C219.2 140.9 219.7 140.5 220.2 140.0C220.7 139.5 221.2 139.1 221.7 138.6C222.2 138.1 222.7 137.7 223.2 137.2C223.8 136.8 224.3 136.3 224.8 135.8C225.3 135.4 225.8 134.9 226.3 134.5C226.8 134.1 227.3 133.6 227.9 133.2C228.4 132.7 228.9 132.3 229.4 131.8C229.9 131.4 230.5 131.0 231.0 130.5C231.5 130.1 232.0 129.7 232.6 129.3C233.1 128.8 233.6 128.4 234.2 128.0C234.7 127.6 235.2 127.2 235.8 126.8C236.3 126.3 236.8 125.9 237.4 125.5C237.9 125.1 238.5 124.7 239.0 124.3C239.6 123.9 240.1 123.5 240.7 123.1C241.2 122.8 241.7 122.4 242.3 122.0C242.9 121.6 243.4 121.2 244.0 120.9C244.5 120.5 245.1 120.1 245.6 119.8C246.2 119.4 246.8 119.0 247.3 118.7C247.9 118.3 248.5 118.0 249.0 117.6C249.6 117.3 250.2 116.9 250.7 116.6C251.3 116.2 251.9 115.9 252.5 115.6C253.0 115.3 253.6 114.9 254.2 114.6C254.8 114.3 255.4 114.0 255.9 113.7C256.5 113.4 257.1 113.1 257.7 112.8C258.3 112.5 258.9 112.2 259.5 111.9C260.1 111.6 260.7 111.3 261.3 111.0C261.9 110.8 262.5 110.5 263.1 110.2C263.7 110.0 264.3 109.7 264.9 109.4C265.5 109.2 266.1 108.9 266.7 108.7C267.3 108.4 267.9 108.2 268.5 108.0C269.1 107.7 269.7 107.5 270.4 107.3C271.0 107.0 271.6 106.8 272.2 106.6C272.8 106.4 273.4 106.2 274.1 106.0C274.7 105.8 275.3 105.6 275.9 105.4C276.5 105.2 277.2 105.0 277.8 104.8C278.4 104.7 279.0 104.5 279.7 104.3C280.3 104.2 280.9 104.0 281.6 103.8C282.2 103.7 282.8 103.5 283.4 103.4C284.1 103.2 284.7 103.1 285.3 103.0C286.0 102.8 286.6 102.7 287.2 102.6C287.9 102.4 288.5 102.3 289.1 102.2C289.8 102.1 290.4 102.0 291.1 101.9C291.7 101.8 292.3 101.7 293.0 101.6C293.6 101.5 294.3 101.4 294.9 101.3C295.5 101.3 296.2 101.2 296.8 101.1C297.5 101.1 298.1 101.0 298.8 101.0C299.4 100.9 300.0 100.9 300.7 100.8C301.3 100.8 302.0 100.7 302.6 100.7C303.3 100.7 303.9 100.6 304.6 100.6C305.2 100.6 305.8 100.6 306.5 100.6C307.1 100.6 307.8 100.6 308.4 100.6C309.1 100.6 309.7 100.6 310.4 100.6C311.0 100.7 311.7 100.7 312.3 100.7C312.9 100.7 313.6 100.8 314.2 100.8C314.9 100.9 315.5 100.9 316.2 101.0C316.8 101.0 317.5 101.1 318.1 101.2C318.7 101.2 319.4 101.3 320.0 101.4C320.7 101.5 321.3 101.6 322.0 101.7C322.6 101.7 323.2 101.9 323.9 102.0C324.5 102.1 325.2 102.2 325.8 102.3C326.5 102.4 327.1 102.5 327.7 102.7C328.4 102.8 329.0 102.9 329.7 103.1C330.3 103.2 330.9 103.4 331.6 103.5C332.2 103.7 332.8 103.9 333.5 104.0C334.1 104.2 334.7 104.4 335.4 104.5C336.0 104.7 336.6 104.9 337.3 105.1C337.9 105.3 338.5 105.5 339.2 105.7C339.8 105.9 340.4 106.1 341.1 106.3C341.7 106.5 342.3 106.7 342.9 107.0C343.6 107.2 344.2 107.4 344.8 107.6C345.4 107.9 346.1 108.1 346.7 108.3C347.3 108.6 347.9 108.8 348.5 109.1C349.1 109.3 349.8 109.6 350.4 109.8C351.0 110.1 351.6 110.4 352.2 110.6C352.8 110.9 353.4 111.2 354.0 111.5C354.6 111.7 355.3 112.0 355.9 112.3C356.5 112.6 357.1 112.9 357.7 113.2C358.3 113.5 358.9 113.8 359.5 114.1C360.1 114.4 360.7 114.7 361.3 115.0C361.9 115.3 362.4 115.6 363.0 115.9C363.6 116.2 364.2 116.6 364.8 116.9C365.4 117.2 366.0 117.5 366.6 117.9C367.1 118.2 367.7 118.5 368.3 118.9C368.9 119.2 369.4 119.6 370.0 119.9C370.6 120.3 371.2 120.6 371.7 121.0C372.3 121.3 372.9 121.7 373.4 122.1C374.0 122.4 374.6 122.8 375.1 123.2C375.7 123.5 376.3 123.9 376.8 124.3C377.4 124.7 377.9 125.0 378.5 125.4C379.0 125.8 379.6 126.2 380.1 126.6C380.7 127.0 381.2 127.4 381.8 127.8C382.3 128.2 382.9 128.6 383.4 129.0C383.9 129.4 384.5 129.8 385.0 130.2C385.6 130.6 386.1 131.0 386.6 131.4C387.2 131.9 387.7 132.3 388.2 132.7C388.7 133.1 389.3 133.5 389.8 134.0C390.3 134.4 390.8 134.8 391.3 135.3C391.9 135.7 392.4 136.2 392.9 136.6C393.4 137.0 393.9 137.5 394.4 137.9C394.9 138.4 395.4 138.8 395.9 139.3C396.4 139.8 396.9 140.2 397.4 140.7C397.9 141.1 398.4 141.6 398.9 142.1C399.4 142.5 399.9 143.0 400.4 143.5C400.9 143.9 401.4 144.4 401.8 144.9C402.3 145.4 402.8 145.9 403.3 146.3C403.8 146.8 404.2 147.3 404.7 147.8C405.2 148.3 405.7 148.8 406.1 149.3C406.6 149.8 407.0 150.3 407.5 150.8C408.0 151.3 408.4 151.8 408.9 152.3C409.3 152.8 409.8 153.3 410.2 153.8C410.7 154.3 411.1 154.8 411.6 155.3C412.0 155.8 412.5 156.4 412.9 156.9C413.4 157.4 413.8 157.9 414.2 158.4C414.7 159.0 415.1 159.5 415.5 160.0C415.9 160.5 416.4 161.1 416.8 161.6C417.2 162.1 417.6 162.7 418.1 163.2C418.5 163.7 418.9 164.3 419.3 164.8C419.7 165.4 420.1 165.9 420.5 166.5C420.9 167.0 421.3 167.6 421.7 168.1C422.1 168.7 422.5 169.2 422.9 169.8C423.3 170.3 423.7 170.9 424.1 171.4C424.5 172.0 424.9 172.6 425.2 173.1C425.6 173.7 426.0 174.2 426.4 174.8C426.8 175.4 427.1 175.9 427.5 176.5C427.9 177.1 428.2 177.7 428.6 178.2C429.0 178.8 429.3 179.4 429.7 179.9C430.0 180.5 430.4 181.1 430.7 181.7C431.1 182.3 431.4 182.9 431.8 183.4C432.1 184.0 432.4 184.6 432.8 185.2C433.1 185.8 433.4 186.4 433.8 187.0C434.1 187.6 434.4 188.1 434.8 188.7C435.1 189.3 435.4 189.9 435.7 190.5C436.0 191.1 436.4 191.7 436.7 192.3C437.0 192.9 437.3 193.5 437.6 194.1C437.9 194.7 438.2 195.3 438.5 195.9C438.8 196.5 439.1 197.1 439.4 197.8C439.6 198.4 439.9 199.0 440.2 199.6C440.5 200.2 440.8 200.8 441.1 201.4C441.3 202.0 441.6 202.6 441.9 203.2C442.1 203.9 442.4 204.5 442.6 205.1C442.9 205.7 443.2 206.3 443.4 206.9C443.7 207.6 443.9 208.2 444.2 208.8C444.4 209.4 444.7 210.0 444.9 210.7C445.1 211.3 445.4 211.9 445.6 212.5C445.8 213.2 446.1 213.8 446.3 214.4C446.5 215.0 446.7 215.7 447.0 216.3C447.2 216.9 447.4 217.6 447.6 218.2C447.8 218.8 448.0 219.4 448.2 220.1C448.4 220.7 448.6 221.3 448.8 222.0C449.0 222.6 449.2 223.2 449.4 223.9C449.6 224.5 449.7 225.2 449.9 225.8C450.1 226.4 450.3 227.1 450.4 227.7C450.6 228.3 450.8 229.0 450.9 229.6C451.1 230.2 451.3 230.9 451.4 231.5C451.6 232.2 451.7 232.8 451.9 233.4C452.0 234.1 452.2 234.7 452.3 235.3C452.4 236.0 452.6 236.6 452.7 237.3C452.8 237.9 453.0 238.6 453.1 239.2C453.2 239.8 453.3 240.5 453.4 241.1C453.6 241.8 453.7 242.4 453.8 243.1C453.9 243.7 454.0 244.3 454.1 245.0C454.2 245.6 454.3 246.3 454.4 246.9C454.5 247.5 454.5 248.2 454.6 248.8C454.7 249.5 454.8 250.4 454.9 250.8" fill="none" stroke="#444" stroke-width="1.05" stroke-dasharray="2 3.3"/>
<rect x="582.00" y="32.60" width="435.47" height="482.87" fill="none" stroke="#555" stroke-width="1.1"/>
<path d="M690.87 515.47v-5.00M690.87 32.60v5.00M799.74 515.47v-5.00M799.74 32.60v5.00M908.60 515.47v-5.00M908.60 32.60v5.00M582.00 467.00h5.00M1017.47 467.00h-5.00M582.00 418.40h5.00M1017.47 418.40h-5.00M582.00 370.40h5.00M1017.47 370.40h-5.00M582.00 322.00h5.00M1017.47 322.00h-5.00M582.00 273.50h5.00M1017.47 273.50h-5.00M582.00 225.70h5.00M1017.47 225.70h-5.00M582.00 177.30h5.00M1017.47 177.30h-5.00M582.00 128.70h5.00M1017.47 128.70h-5.00M582.00 80.50h5.00M1017.47 80.50h-5.00" stroke="#555" stroke-width="1.1"/>
<text transform="matrix(1 0 0 1.07 572.28 530.47)" font-size="14.4">-1</text>
<text transform="matrix(1 0 0 1.07 676.19 530.47)" font-size="14.4">-0.5</text>
<text transform="matrix(1 0 0 1.07 795.13 530.47)" font-size="14.4">0</text>
<text transform="matrix(1 0 0 1.07 898.01 530.47)" font-size="14.4">0.5</text>
<text transform="matrix(1 0 0 1.07 1012.27 530.47)" font-size="14.4">1</text>
<text transform="matrix(1 0 0 1.07 542.57 520.22)" font-size="14.4">0.045</text>
<text transform="matrix(1 0 0 1.07 550.58 471.75)" font-size="14.4">0.05</text>
<text transform="matrix(1 0 0 1.07 542.57 423.15)" font-size="14.4">0.055</text>
<text transform="matrix(1 0 0 1.07 550.61 375.15)" font-size="14.4">0.06</text>
<text transform="matrix(1 0 0 1.07 542.57 326.75)" font-size="14.4">0.065</text>
<text transform="matrix(1 0 0 1.07 550.70 278.25)" font-size="14.4">0.07</text>
<text transform="matrix(1 0 0 1.07 542.57 230.45)" font-size="14.4">0.075</text>
<text transform="matrix(1 0 0 1.07 550.60 182.05)" font-size="14.4">0.08</text>
<text transform="matrix(1 0 0 1.07 542.57 133.45)" font-size="14.4">0.085</text>
<text transform="matrix(1 0 0 1.07 550.66 85.25)" font-size="14.4">0.09</text>
<text transform="matrix(1 0 0 1.07 542.57 37.35)" font-size="14.4">0.095</text>
<text x="756.68" y="20.50" font-size="16.3">(a.2) RMSE</text>
<path d="M591.71 441.51C591.8 441.2 592.0 440.2 592.1 439.5C592.2 438.9 592.4 438.2 592.5 437.6C592.6 436.9 592.7 436.3 592.9 435.6C593.0 434.9 593.1 434.3 593.3 433.6C593.4 433.0 593.5 432.3 593.6 431.7C593.8 431.0 593.9 430.4 594.0 429.7C594.2 429.1 594.3 428.4 594.5 427.7C594.6 427.1 594.7 426.4 594.9 425.8C595.0 425.1 595.1 424.5 595.3 423.8C595.4 423.2 595.6 422.5 595.7 421.9C595.8 421.2 596.0 420.5 596.1 419.9C596.2 419.2 596.4 418.6 596.5 417.9C596.7 417.3 596.8 416.6 597.0 416.0C597.1 415.3 597.2 414.7 597.4 414.0C597.5 413.4 597.7 412.7 597.8 412.1C598.0 411.4 598.1 410.8 598.2 410.1C598.4 409.4 598.6 408.8 598.7 408.1C598.8 407.5 599.0 406.8 599.1 406.2C599.3 405.5 599.4 404.9 599.6 404.2C599.7 403.6 599.9 402.9 600.0 402.3C600.2 401.6 600.3 401.0 600.5 400.3C600.7 399.7 600.8 399.0 601.0 398.4C601.1 397.7 601.3 397.1 601.4 396.4C601.6 395.8 601.8 395.1 601.9 394.5C602.1 393.8 602.2 393.2 602.4 392.5C602.5 391.9 602.7 391.2 602.9 390.6C603.0 389.9 603.2 389.3 603.4 388.6C603.5 388.0 603.7 387.3 603.8 386.7C604.0 386.0 604.2 385.4 604.3 384.8C604.5 384.1 604.7 383.5 604.8 382.8C605.0 382.2 605.2 381.5 605.3 380.9C605.5 380.2 605.7 379.6 605.8 378.9C606.0 378.3 606.2 377.6 606.4 377.0C606.5 376.3 606.7 375.7 606.9 375.1C607.0 374.4 607.2 373.8 607.4 373.1C607.6 372.5 607.7 371.8 607.9 371.2C608.1 370.5 608.3 369.9 608.5 369.2C608.6 368.6 608.8 368.0 609.0 367.3C609.2 366.7 609.3 366.0 609.5 365.4C609.7 364.7 609.9 364.1 610.1 363.5C610.3 362.8 610.4 362.2 610.6 361.5C610.8 360.9 611.0 360.3 611.2 359.6C611.4 359.0 611.6 358.3 611.7 357.7C611.9 357.1 612.1 356.4 612.3 355.8C612.5 355.1 612.7 354.5 612.9 353.9C613.1 353.2 613.3 352.6 613.5 351.9C613.7 351.3 613.8 350.7 614.0 350.0C614.2 349.4 614.4 348.7 614.6 348.1C614.8 347.5 615.0 346.8 615.2 346.2C615.4 345.6 615.6 344.9 615.8 344.3C616.0 343.6 616.2 343.0 616.4 342.4C616.6 341.7 616.8 341.1 617.0 340.5C617.2 339.8 617.4 339.2 617.6 338.6C617.9 337.9 618.1 337.3 618.3 336.7C618.5 336.0 618.7 335.4 618.9 334.8C619.1 334.1 619.3 333.5 619.5 332.9C619.7 332.2 620.0 331.6 620.2 331.0C620.4 330.3 620.6 329.7 620.8 329.1C621.0 328.4 621.2 327.8 621.5 327.2C621.7 326.6 621.9 325.9 622.1 325.3C622.3 324.7 622.6 324.0 622.8 323.4C623.0 322.8 623.2 322.1 623.4 321.5C623.7 320.9 623.9 320.3 624.1 319.6C624.3 319.0 624.6 318.4 624.8 317.8C625.0 317.1 625.3 316.5 625.5 315.9C625.7 315.3 625.9 314.6 626.2 314.0C626.4 313.4 626.6 312.8 626.9 312.1C627.1 311.5 627.3 310.9 627.6 310.3C627.8 309.6 628.0 309.0 628.3 308.4C628.5 307.8 628.8 307.1 629.0 306.5C629.2 305.9 629.5 305.3 629.7 304.7C630.0 304.0 630.2 303.4 630.5 302.8C630.7 302.2 630.9 301.6 631.2 300.9C631.4 300.3 631.7 299.7 631.9 299.1C632.2 298.5 632.4 297.8 632.7 297.2C632.9 296.6 633.2 296.0 633.4 295.4C633.7 294.8 633.9 294.1 634.2 293.5C634.4 292.9 634.7 292.3 635.0 291.7C635.2 291.1 635.5 290.5 635.7 289.8C636.0 289.2 636.2 288.6 636.5 288.0C636.8 287.4 637.0 286.8 637.3 286.2C637.6 285.5 637.8 284.9 638.1 284.3C638.3 283.7 638.6 283.1 638.9 282.5C639.1 281.9 639.4 281.3 639.7 280.7C640.0 280.1 640.2 279.4 640.5 278.8C640.8 278.2 641.1 277.6 641.3 277.0C641.6 276.4 641.9 275.8 642.1 275.2C642.4 274.6 642.7 274.0 643.0 273.4C643.3 272.8 643.5 272.2 643.8 271.6C644.1 271.0 644.4 270.4 644.7 269.8C645.0 269.2 645.2 268.6 645.5 267.9C645.8 267.3 646.1 266.7 646.4 266.1C646.7 265.5 647.0 264.9 647.3 264.3C647.6 263.7 647.9 263.1 648.1 262.5C648.4 261.9 648.7 261.3 649.0 260.8C649.3 260.2 649.6 259.6 649.9 259.0C650.2 258.4 650.5 257.8 650.8 257.2C651.1 256.6 651.4 256.0 651.7 255.4C652.0 254.8 652.3 254.2 652.6 253.6C652.9 253.0 653.3 252.4 653.6 251.8C653.9 251.2 654.2 250.6 654.5 250.0C654.8 249.4 655.1 248.9 655.4 248.3C655.7 247.7 656.1 247.1 656.4 246.5C656.7 245.9 657.0 245.3 657.3 244.7C657.6 244.2 658.0 243.6 658.3 243.0C658.6 242.4 658.9 241.8 659.2 241.2C659.6 240.6 659.9 240.0 660.2 239.5C660.6 238.9 660.9 238.3 661.2 237.7C661.5 237.1 661.9 236.6 662.2 236.0C662.5 235.4 662.9 234.8 663.2 234.2C663.5 233.6 663.9 233.1 664.2 232.5C664.5 231.9 664.9 231.3 665.2 230.8C665.6 230.2 665.9 229.6 666.2 229.0C666.6 228.4 666.9 227.9 667.3 227.3C667.6 226.7 668.0 226.1 668.3 225.6C668.7 225.0 669.0 224.4 669.4 223.8C669.7 223.3 670.1 222.7 670.4 222.1C670.8 221.5 671.1 221.0 671.5 220.4C671.8 219.8 672.2 219.3 672.5 218.7C672.9 218.1 673.3 217.6 673.6 217.0C674.0 216.4 674.3 215.9 674.7 215.3C675.1 214.7 675.4 214.2 675.8 213.6C676.2 213.0 676.5 212.5 676.9 211.9C677.3 211.3 677.6 210.8 678.0 210.2C678.4 209.6 678.7 209.1 679.1 208.5C679.5 208.0 679.9 207.4 680.2 206.8C680.6 206.3 681.0 205.7 681.4 205.2C681.7 204.6 682.1 204.1 682.5 203.5C682.8 202.9 683.2 202.4 683.6 201.8C684.0 201.3 684.4 200.7 684.7 200.2C685.1 199.6 685.5 199.1 685.9 198.5C686.2 198.0 686.6 197.4 687.0 196.9C687.4 196.3 687.8 195.8 688.2 195.2C688.5 194.7 688.9 194.1 689.3 193.6C689.7 193.0 690.1 192.5 690.5 191.9C690.8 191.4 691.2 190.9 691.6 190.3C692.0 189.8 692.4 189.2 692.8 188.7C693.1 188.1 693.5 187.6 693.9 187.1C694.3 186.5 694.7 186.0 695.1 185.4C695.5 184.9 695.9 184.4 696.2 183.8C696.6 183.3 697.0 182.8 697.4 182.2C697.8 181.7 698.2 181.2 698.6 180.6C699.0 180.1 699.4 179.6 699.8 179.0C700.2 178.5 700.6 178.0 701.0 177.4C701.4 176.9 701.8 176.4 702.2 175.9C702.6 175.3 703.0 174.8 703.4 174.3C703.8 173.8 704.2 173.2 704.6 172.7C705.0 172.2 705.4 171.7 705.8 171.2C706.2 170.6 706.6 170.1 707.0 169.6C707.5 169.1 707.9 168.6 708.3 168.1C708.7 167.5 709.1 167.0 709.5 166.5C710.0 166.0 710.4 165.5 710.8 165.0C711.2 164.4 711.7 163.9 712.1 163.4C712.5 162.9 712.9 162.4 713.4 161.9C713.8 161.4 714.2 160.9 714.6 160.4C715.1 159.9 715.5 159.4 716.0 158.9C716.4 158.4 716.8 157.9 717.2 157.4C717.7 156.9 718.1 156.4 718.6 155.9C719.0 155.4 719.5 154.9 719.9 154.4C720.3 153.9 720.8 153.4 721.2 152.9C721.7 152.4 722.1 151.9 722.6 151.4C723.0 150.9 723.5 150.4 723.9 149.9C724.4 149.5 724.8 149.0 725.3 148.5C725.8 148.0 726.2 147.5 726.7 147.0C727.1 146.5 727.6 146.1 728.0 145.6C728.5 145.1 729.0 144.6 729.4 144.2C729.9 143.7 730.4 143.2 730.8 142.7C731.3 142.2 731.8 141.8 732.2 141.3C732.7 140.8 733.2 140.3 733.7 139.9C734.1 139.4 734.6 138.9 735.1 138.5C735.6 138.0 736.1 137.5 736.5 137.1C737.0 136.6 737.5 136.2 738.0 135.7C738.5 135.2 739.0 134.8 739.4 134.3C739.9 133.9 740.4 133.4 740.9 132.9C741.4 132.5 741.9 132.0 742.4 131.6C742.9 131.1 743.4 130.7 743.9 130.2C744.4 129.8 744.9 129.3 745.4 128.9C745.8 128.4 746.3 128.0 746.9 127.5C747.4 127.1 747.9 126.7 748.4 126.2C748.9 125.8 749.4 125.4 749.9 124.9C750.4 124.5 750.9 124.0 751.4 123.6C751.9 123.2 752.4 122.8 752.9 122.3C753.5 121.9 754.0 121.5 754.5 121.0C755.0 120.6 755.5 120.2 756.0 119.8C756.6 119.3 757.1 118.9 757.6 118.5C758.1 118.1 758.6 117.7 759.2 117.2C759.7 116.8 760.2 116.4 760.8 116.0C761.3 115.6 761.8 115.2 762.3 114.8C762.9 114.4 763.4 114.0 763.9 113.5C764.5 113.1 765.0 112.7 765.5 112.3C766.1 111.9 766.6 111.5 767.1 111.1C767.7 110.7 768.2 110.4 768.8 110.0C769.3 109.6 769.8 109.2 770.4 108.8C770.9 108.4 771.5 108.0 772.0 107.6C772.6 107.2 773.1 106.9 773.7 106.5C774.2 106.1 774.8 105.7 775.3 105.3C775.9 105.0 776.4 104.6 777.0 104.2C777.5 103.8 778.1 103.5 778.6 103.1C779.2 102.7 779.8 102.4 780.3 102.0C780.9 101.6 781.4 101.3 782.0 100.9C782.6 100.5 783.1 100.2 783.7 99.8C784.3 99.5 784.8 99.1 785.4 98.8C786.0 98.4 786.5 98.1 787.1 97.7C787.7 97.4 788.3 97.0 788.8 96.7C789.4 96.3 790.0 96.0 790.5 95.7C791.1 95.3 791.7 95.0 792.3 94.6C792.9 94.3 793.4 94.0 794.0 93.7C794.6 93.3 795.2 93.0 795.8 92.7C796.4 92.3 796.9 92.0 797.5 91.7C798.1 91.4 798.7 91.1 799.3 90.7C799.9 90.4 800.5 90.1 801.0 89.8C801.6 89.5 802.2 89.2 802.8 88.9C803.4 88.6 804.0 88.3 804.6 88.0C805.2 87.7 805.8 87.4 806.4 87.1C807.0 86.8 807.6 86.5 808.2 86.2C808.8 85.9 809.4 85.6 810.0 85.3C810.6 85.0 811.2 84.7 811.8 84.5C812.4 84.2 813.0 83.9 813.6 83.6C814.2 83.3 814.8 83.1 815.4 82.8C816.0 82.5 816.6 82.2 817.3 82.0C817.9 81.7 818.5 81.4 819.1 81.2C819.7 80.9 820.3 80.7 820.9 80.4C821.5 80.1 822.2 79.9 822.8 79.6C823.4 79.4 824.0 79.1 824.6 78.9C825.2 78.6 825.9 78.4 826.5 78.1C827.1 77.9 827.7 77.7 828.4 77.4C829.0 77.2 829.6 76.9 830.2 76.7C830.8 76.5 831.5 76.2 832.1 76.0C832.7 75.8 833.3 75.6 834.0 75.3C834.6 75.1 835.2 74.9 835.9 74.7C836.5 74.5 837.1 74.2 837.7 74.0C838.4 73.8 839.0 73.6 839.6 73.4C840.3 73.2 840.9 73.0 841.5 72.8C842.2 72.6 842.8 72.4 843.4 72.2C844.1 72.0 844.7 71.8 845.4 71.6C846.0 71.4 846.6 71.2 847.3 71.0C847.9 70.9 848.6 70.7 849.2 70.5C849.8 70.3 850.5 70.1 851.1 70.0C851.8 69.8 852.4 69.6 853.0 69.4C853.7 69.3 854.3 69.1 855.0 68.9C855.6 68.8 856.3 68.6 856.9 68.4C857.6 68.3 858.2 68.1 858.9 68.0C859.5 67.8 860.1 67.7 860.8 67.5C861.4 67.4 862.1 67.2 862.8 67.1C863.4 66.9 864.0 66.8 864.7 66.7C865.4 66.5 866.0 66.4 866.7 66.3C867.3 66.1 868.0 66.0 868.6 65.9C869.3 65.7 869.9 65.6 870.6 65.5C871.2 65.4 871.9 65.3 872.5 65.1C873.2 65.0 873.9 64.9 874.5 64.8C875.2 64.7 875.8 64.6 876.5 64.5C877.2 64.4 877.8 64.3 878.5 64.2C879.1 64.1 879.8 64.0 880.5 63.9C881.1 63.8 881.8 63.7 882.4 63.6C883.1 63.5 883.8 63.5 884.4 63.4C885.1 63.3 885.7 63.2 886.4 63.1C887.1 63.1 887.7 63.0 888.4 62.9C889.1 62.9 889.7 62.8 890.4 62.7C891.1 62.7 891.7 62.6 892.4 62.5C893.1 62.5 893.7 62.4 894.4 62.4C895.1 62.3 895.7 62.2 896.4 62.2C897.1 62.2 897.7 62.1 898.4 62.1C899.1 62.0 899.7 62.0 900.4 61.9C901.1 61.9 901.8 61.9 902.4 61.8C903.1 61.8 903.8 61.8 904.4 61.7C905.1 61.7 905.8 61.7 906.4 61.6C907.1 61.6 907.8 61.6 908.5 61.6C909.1 61.5 909.8 61.5 910.5 61.5C911.1 61.5 911.8 61.5 912.5 61.5C913.2 61.5 913.8 61.4 914.5 61.4C915.2 61.4 915.9 61.4 916.5 61.4C917.2 61.4 917.9 61.4 918.5 61.4C919.2 61.4 919.9 61.4 920.6 61.4C921.2 61.4 921.9 61.4 922.6 61.4C923.3 61.4 923.9 61.5 924.6 61.5C925.3 61.5 926.0 61.5 926.6 61.5C927.3 61.5 928.0 61.5 928.7 61.6C929.4 61.6 930.0 61.6 930.7 61.6C931.4 61.6 932.1 61.7 932.7 61.7C933.4 61.7 934.1 61.8 934.8 61.8C935.4 61.8 936.1 61.8 936.8 61.9C937.5 61.9 938.1 61.9 938.8 62.0C939.5 62.0 940.2 62.1 940.8 62.1C941.5 62.1 942.2 62.2 942.9 62.2C943.5 62.3 944.2 62.3 944.9 62.4C945.5 62.5 946.2 62.5 946.9 62.6C947.5 62.6 948.2 62.7 948.9 62.8C949.5 62.9 950.2 63.0 950.9 63.0C951.5 63.1 952.2 63.2 952.8 63.3C953.5 63.4 954.1 63.5 954.8 63.6C955.4 63.8 956.1 63.9 956.7 64.0C957.3 64.1 958.0 64.3 958.6 64.4C959.3 64.6 959.9 64.7 960.5 64.9C961.1 65.0 961.8 65.2 962.4 65.4C963.0 65.5 963.6 65.7 964.2 65.9C964.8 66.1 965.4 66.3 966.0 66.5C966.6 66.8 967.2 67.0 967.8 67.2C968.4 67.5 969.0 67.7 969.6 68.0C970.2 68.2 970.7 68.5 971.3 68.8C971.9 69.1 972.4 69.3 973.0 69.7C973.5 70.0 974.1 70.3 974.6 70.6C975.2 70.9 975.7 71.3 976.2 71.6C976.8 72.0 977.3 72.4 977.8 72.7C978.3 73.1 978.8 73.5 979.4 73.9C979.9 74.3 980.4 74.8 980.8 75.2C981.3 75.6 981.8 76.1 982.3 76.6C982.8 77.0 983.2 77.5 983.7 78.0C984.1 78.5 984.6 79.0 985.0 79.6C985.5 80.1 985.9 80.6 986.3 81.2C986.7 81.7 987.2 82.3 987.6 82.9C988.0 83.4 988.4 84.0 988.8 84.6C989.1 85.2 989.5 85.8 989.9 86.4C990.3 87.0 990.6 87.6 991.0 88.2C991.3 88.9 991.7 89.5 992.0 90.1C992.4 90.7 992.7 91.4 993.0 92.0C993.4 92.6 993.7 93.3 994.0 93.9C994.3 94.6 994.6 95.2 994.9 95.8C995.1 96.5 995.4 97.1 995.7 97.8C996.0 98.4 996.2 99.1 996.5 99.7C996.7 100.3 997.0 101.0 997.2 101.6C997.4 102.2 997.7 102.9 997.9 103.5C998.1 104.1 998.3 104.7 998.5 105.3C998.7 106.0 998.9 106.6 999.1 107.2C999.2 107.8 999.4 108.4 999.6 109.1C999.7 109.7 999.9 110.3 1000.0 110.9C1000.2 111.6 1000.3 112.2 1000.4 112.8C1000.6 113.4 1000.7 114.1 1000.8 114.7C1000.9 115.3 1001.0 116.0 1001.1 116.6C1001.1 117.3 1001.2 117.9 1001.3 118.6C1001.4 119.3 1001.4 119.9 1001.5 120.6C1001.5 121.3 1001.6 122.3 1001.6 122.7" fill="none" stroke="#444" stroke-width="1.05"/>
<path d="M591.86 469.82C591.9 469.5 592.1 468.5 592.2 467.8C592.4 467.2 592.5 466.5 592.6 465.9C592.7 465.2 592.9 464.5 593.0 463.9C593.1 463.2 593.2 462.5 593.4 461.9C593.5 461.2 593.6 460.6 593.8 459.9C593.9 459.2 594.0 458.6 594.1 457.9C594.3 457.3 594.4 456.6 594.5 455.9C594.7 455.3 594.8 454.6 594.9 454.0C595.0 453.3 595.2 452.6 595.3 452.0C595.4 451.3 595.6 450.7 595.7 450.0C595.8 449.4 596.0 448.7 596.1 448.0C596.2 447.4 596.4 446.7 596.5 446.1C596.6 445.4 596.8 444.8 596.9 444.1C597.0 443.4 597.2 442.8 597.3 442.1C597.4 441.5 597.6 440.8 597.7 440.2C597.8 439.5 598.0 438.9 598.1 438.2C598.3 437.5 598.4 436.9 598.5 436.2C598.7 435.6 598.8 434.9 599.0 434.3C599.1 433.6 599.2 433.0 599.4 432.3C599.5 431.6 599.7 431.0 599.8 430.3C599.9 429.7 600.1 429.0 600.2 428.4C600.4 427.7 600.5 427.1 600.7 426.4C600.8 425.8 600.9 425.1 601.1 424.5C601.2 423.8 601.4 423.2 601.5 422.5C601.7 421.9 601.8 421.2 602.0 420.6C602.1 419.9 602.3 419.3 602.4 418.6C602.6 418.0 602.7 417.3 602.9 416.7C603.0 416.0 603.1 415.4 603.3 414.7C603.5 414.1 603.6 413.4 603.8 412.8C603.9 412.1 604.1 411.5 604.2 410.8C604.4 410.2 604.5 409.5 604.7 408.9C604.8 408.2 605.0 407.6 605.1 406.9C605.3 406.3 605.5 405.6 605.6 405.0C605.8 404.3 605.9 403.7 606.1 403.0C606.2 402.4 606.4 401.7 606.5 401.1C606.7 400.5 606.9 399.8 607.0 399.2C607.2 398.5 607.4 397.9 607.5 397.2C607.7 396.6 607.8 395.9 608.0 395.3C608.2 394.7 608.3 394.0 608.5 393.4C608.7 392.7 608.8 392.1 609.0 391.4C609.2 390.8 609.3 390.2 609.5 389.5C609.7 388.9 609.8 388.2 610.0 387.6C610.2 386.9 610.3 386.3 610.5 385.6C610.7 385.0 610.8 384.4 611.0 383.7C611.2 383.1 611.4 382.4 611.5 381.8C611.7 381.2 611.9 380.5 612.1 379.9C612.2 379.2 612.4 378.6 612.6 378.0C612.8 377.3 612.9 376.7 613.1 376.1C613.3 375.4 613.5 374.8 613.6 374.1C613.8 373.5 614.0 372.9 614.2 372.2C614.4 371.6 614.6 370.9 614.7 370.3C614.9 369.7 615.1 369.0 615.3 368.4C615.5 367.8 615.7 367.1 615.8 366.5C616.0 365.9 616.2 365.2 616.4 364.6C616.6 363.9 616.8 363.3 617.0 362.7C617.2 362.0 617.3 361.4 617.5 360.8C617.7 360.1 617.9 359.5 618.1 358.9C618.3 358.2 618.5 357.6 618.7 357.0C618.9 356.3 619.1 355.7 619.3 355.1C619.5 354.4 619.7 353.8 619.9 353.2C620.1 352.5 620.3 351.9 620.5 351.3C620.7 350.7 620.9 350.0 621.1 349.4C621.3 348.8 621.5 348.1 621.7 347.5C621.9 346.9 622.1 346.2 622.3 345.6C622.5 345.0 622.7 344.4 622.9 343.7C623.1 343.1 623.3 342.5 623.5 341.8C623.7 341.2 623.9 340.6 624.1 340.0C624.4 339.3 624.6 338.7 624.8 338.1C625.0 337.5 625.2 336.8 625.4 336.2C625.6 335.6 625.9 334.9 626.1 334.3C626.3 333.7 626.5 333.1 626.7 332.4C626.9 331.8 627.2 331.2 627.4 330.6C627.6 329.9 627.8 329.3 628.0 328.7C628.3 328.1 628.5 327.5 628.7 326.8C628.9 326.2 629.2 325.6 629.4 325.0C629.6 324.3 629.8 323.7 630.1 323.1C630.3 322.5 630.5 321.9 630.8 321.2C631.0 320.6 631.2 320.0 631.4 319.4C631.7 318.8 631.9 318.1 632.1 317.5C632.4 316.9 632.6 316.3 632.9 315.6C633.1 315.0 633.3 314.4 633.6 313.8C633.8 313.2 634.0 312.6 634.3 311.9C634.5 311.3 634.8 310.7 635.0 310.1C635.2 309.5 635.5 308.9 635.7 308.2C636.0 307.6 636.2 307.0 636.5 306.4C636.7 305.8 637.0 305.2 637.2 304.6C637.5 303.9 637.7 303.3 638.0 302.7C638.2 302.1 638.5 301.5 638.7 300.9C639.0 300.2 639.2 299.6 639.5 299.0C639.7 298.4 640.0 297.8 640.3 297.2C640.5 296.6 640.8 296.0 641.0 295.4C641.3 294.7 641.6 294.1 641.8 293.5C642.1 292.9 642.4 292.3 642.6 291.7C642.9 291.1 643.2 290.5 643.4 289.9C643.7 289.2 644.0 288.6 644.2 288.0C644.5 287.4 644.8 286.8 645.0 286.2C645.3 285.6 645.6 285.0 645.9 284.4C646.1 283.8 646.4 283.2 646.7 282.6C647.0 282.0 647.2 281.4 647.5 280.8C647.8 280.1 648.1 279.5 648.4 278.9C648.6 278.3 648.9 277.7 649.2 277.1C649.5 276.5 649.8 275.9 650.1 275.3C650.4 274.7 650.6 274.1 650.9 273.5C651.2 272.9 651.5 272.3 651.8 271.7C652.1 271.1 652.4 270.5 652.7 269.9C653.0 269.3 653.3 268.7 653.6 268.1C653.9 267.5 654.2 266.9 654.5 266.3C654.8 265.7 655.1 265.1 655.4 264.5C655.7 263.9 656.0 263.3 656.3 262.7C656.6 262.1 656.9 261.5 657.2 260.9C657.5 260.3 657.8 259.7 658.1 259.1C658.4 258.5 658.7 257.9 659.1 257.3C659.4 256.7 659.7 256.1 660.0 255.5C660.3 254.9 660.6 254.4 661.0 253.8C661.3 253.2 661.6 252.6 661.9 252.0C662.2 251.4 662.6 250.8 662.9 250.2C663.2 249.6 663.5 249.0 663.9 248.4C664.2 247.8 664.5 247.2 664.8 246.7C665.2 246.1 665.5 245.5 665.8 244.9C666.2 244.3 666.5 243.7 666.8 243.1C667.1 242.6 667.5 242.0 667.8 241.4C668.2 240.8 668.5 240.2 668.8 239.6C669.2 239.0 669.5 238.5 669.9 237.9C670.2 237.3 670.5 236.7 670.9 236.1C671.2 235.5 671.6 235.0 671.9 234.4C672.3 233.8 672.6 233.2 673.0 232.7C673.3 232.1 673.6 231.5 674.0 230.9C674.4 230.3 674.7 229.8 675.1 229.2C675.4 228.6 675.8 228.0 676.1 227.5C676.5 226.9 676.8 226.3 677.2 225.8C677.6 225.2 677.9 224.6 678.3 224.1C678.6 223.5 679.0 222.9 679.4 222.3C679.7 221.8 680.1 221.2 680.5 220.6C680.8 220.1 681.2 219.5 681.6 218.9C681.9 218.4 682.3 217.8 682.7 217.2C683.0 216.7 683.4 216.1 683.8 215.6C684.2 215.0 684.5 214.4 684.9 213.9C685.3 213.3 685.7 212.8 686.0 212.2C686.4 211.7 686.8 211.1 687.2 210.6C687.6 210.0 688.0 209.4 688.3 208.9C688.7 208.3 689.1 207.8 689.5 207.2C689.9 206.7 690.3 206.1 690.7 205.6C691.0 205.0 691.4 204.5 691.8 203.9C692.2 203.4 692.6 202.9 693.0 202.3C693.4 201.8 693.8 201.2 694.2 200.7C694.6 200.2 695.0 199.6 695.4 199.1C695.8 198.5 696.2 198.0 696.6 197.4C697.0 196.9 697.4 196.4 697.8 195.8C698.2 195.3 698.6 194.8 699.0 194.2C699.4 193.7 699.8 193.2 700.2 192.7C700.6 192.1 701.0 191.6 701.5 191.1C701.9 190.5 702.3 190.0 702.7 189.5C703.1 189.0 703.5 188.5 703.9 187.9C704.4 187.4 704.8 186.9 705.2 186.4C705.6 185.9 706.0 185.3 706.5 184.8C706.9 184.3 707.3 183.8 707.7 183.3C708.1 182.8 708.6 182.2 709.0 181.7C709.4 181.2 709.9 180.7 710.3 180.2C710.7 179.7 711.1 179.2 711.6 178.7C712.0 178.2 712.4 177.7 712.9 177.2C713.3 176.7 713.7 176.2 714.2 175.7C714.6 175.2 715.0 174.7 715.5 174.2C715.9 173.7 716.4 173.2 716.8 172.7C717.2 172.2 717.7 171.7 718.1 171.2C718.6 170.7 719.0 170.3 719.5 169.8C719.9 169.3 720.4 168.8 720.8 168.3C721.3 167.8 721.7 167.3 722.2 166.9C722.6 166.4 723.1 165.9 723.5 165.4C724.0 165.0 724.4 164.5 724.9 164.0C725.4 163.5 725.8 163.1 726.3 162.6C726.7 162.1 727.2 161.7 727.7 161.2C728.1 160.7 728.6 160.3 729.1 159.8C729.5 159.3 730.0 158.9 730.5 158.4C730.9 157.9 731.4 157.5 731.9 157.0C732.4 156.6 732.8 156.1 733.3 155.7C733.8 155.2 734.3 154.8 734.8 154.3C735.2 153.9 735.7 153.4 736.2 153.0C736.7 152.5 737.2 152.1 737.7 151.6C738.1 151.2 738.6 150.8 739.1 150.3C739.6 149.9 740.1 149.4 740.6 149.0C741.1 148.6 741.6 148.1 742.1 147.7C742.6 147.3 743.1 146.8 743.6 146.4C744.1 146.0 744.6 145.6 745.1 145.1C745.6 144.7 746.1 144.3 746.6 143.9C747.1 143.5 747.6 143.0 748.2 142.6C748.7 142.2 749.2 141.8 749.7 141.4C750.2 141.0 750.7 140.6 751.3 140.2C751.8 139.8 752.3 139.4 752.8 138.9C753.4 138.5 753.9 138.1 754.4 137.7C754.9 137.3 755.5 136.9 756.0 136.6C756.5 136.2 757.1 135.8 757.6 135.4C758.1 135.0 758.7 134.6 759.2 134.2C759.8 133.8 760.3 133.4 760.9 133.1C761.4 132.7 761.9 132.3 762.5 131.9C763.0 131.5 763.6 131.2 764.1 130.8C764.7 130.4 765.3 130.0 765.8 129.7C766.4 129.3 766.9 128.9 767.5 128.6C768.1 128.2 768.6 127.8 769.2 127.5C769.7 127.1 770.3 126.8 770.9 126.4C771.5 126.1 772.0 125.7 772.6 125.4C773.2 125.0 773.8 124.7 774.3 124.3C774.9 124.0 775.5 123.6 776.1 123.3C776.7 122.9 777.2 122.6 777.8 122.3C778.4 121.9 779.0 121.6 779.6 121.3C780.2 120.9 780.8 120.6 781.4 120.3C782.0 120.0 782.5 119.6 783.1 119.3C783.7 119.0 784.3 118.7 784.9 118.4C785.5 118.1 786.1 117.8 786.7 117.5C787.3 117.1 787.9 116.8 788.5 116.5C789.2 116.2 789.8 115.9 790.4 115.6C791.0 115.3 791.6 115.1 792.2 114.8C792.8 114.5 793.4 114.2 794.0 113.9C794.7 113.6 795.3 113.3 795.9 113.1C796.5 112.8 797.1 112.5 797.7 112.2C798.4 112.0 799.0 111.7 799.6 111.5C800.2 111.2 800.9 110.9 801.5 110.7C802.1 110.4 802.7 110.2 803.4 109.9C804.0 109.7 804.6 109.4 805.2 109.2C805.9 108.9 806.5 108.7 807.1 108.4C807.8 108.2 808.4 108.0 809.0 107.7C809.7 107.5 810.3 107.3 811.0 107.1C811.6 106.8 812.2 106.6 812.9 106.4C813.5 106.2 814.1 106.0 814.8 105.8C815.4 105.6 816.1 105.4 816.7 105.2C817.3 105.0 818.0 104.8 818.6 104.6C819.3 104.4 819.9 104.2 820.6 104.0C821.2 103.8 821.9 103.6 822.5 103.5C823.2 103.3 823.8 103.1 824.5 103.0C825.1 102.8 825.8 102.6 826.4 102.5C827.0 102.3 827.7 102.1 828.4 102.0C829.0 101.8 829.7 101.7 830.3 101.5C831.0 101.4 831.6 101.3 832.3 101.1C832.9 101.0 833.6 100.8 834.2 100.7C834.9 100.6 835.5 100.5 836.2 100.3C836.8 100.2 837.5 100.1 838.2 100.0C838.8 99.9 839.5 99.8 840.1 99.7C840.8 99.6 841.5 99.5 842.1 99.4C842.8 99.3 843.4 99.2 844.1 99.1C844.7 99.0 845.4 99.0 846.1 98.9C846.7 98.8 847.4 98.7 848.0 98.7C848.7 98.6 849.4 98.5 850.0 98.5C850.7 98.4 851.3 98.4 852.0 98.3C852.6 98.3 853.3 98.2 854.0 98.2C854.6 98.2 855.3 98.1 856.0 98.1C856.6 98.0 857.3 98.0 857.9 98.0C858.6 98.0 859.2 97.9 859.9 97.9C860.6 97.9 861.2 97.9 861.9 97.9C862.5 97.9 863.2 97.9 863.9 97.9C864.5 97.9 865.2 97.9 865.8 97.9C866.5 97.9 867.2 97.9 867.8 98.0C868.5 98.0 869.1 98.0 869.8 98.0C870.4 98.1 871.1 98.1 871.8 98.2C872.4 98.2 873.1 98.2 873.7 98.3C874.4 98.3 875.0 98.4 875.7 98.4C876.4 98.5 877.0 98.6 877.7 98.6C878.3 98.7 879.0 98.8 879.6 98.8C880.3 98.9 880.9 99.0 881.6 99.1C882.2 99.2 882.9 99.2 883.5 99.3C884.2 99.4 884.8 99.5 885.5 99.6C886.1 99.7 886.8 99.8 887.4 100.0C888.1 100.1 888.7 100.2 889.4 100.3C890.0 100.4 890.7 100.6 891.3 100.7C892.0 100.8 892.6 100.9 893.2 101.1C893.9 101.2 894.5 101.4 895.2 101.5C895.8 101.7 896.5 101.8 897.1 102.0C897.7 102.1 898.4 102.3 899.0 102.5C899.7 102.6 900.3 102.8 900.9 103.0C901.6 103.2 902.2 103.3 902.8 103.5C903.5 103.7 904.1 103.9 904.7 104.1C905.4 104.3 906.0 104.5 906.6 104.7C907.3 104.9 907.9 105.1 908.5 105.3C909.1 105.5 909.8 105.8 910.4 106.0C911.0 106.2 911.6 106.4 912.3 106.7C912.9 106.9 913.5 107.1 914.1 107.4C914.7 107.6 915.4 107.9 916.0 108.1C916.6 108.4 917.2 108.6 917.8 108.9C918.4 109.2 919.0 109.4 919.6 109.7C920.3 110.0 920.9 110.2 921.5 110.5C922.1 110.8 922.7 111.1 923.3 111.4C923.9 111.7 924.5 112.0 925.1 112.2C925.7 112.5 926.3 112.8 926.9 113.2C927.5 113.5 928.1 113.8 928.7 114.1C929.2 114.4 929.8 114.7 930.4 115.0C931.0 115.4 931.6 115.7 932.2 116.0C932.8 116.3 933.3 116.7 933.9 117.0C934.5 117.4 935.1 117.7 935.6 118.0C936.2 118.4 936.8 118.8 937.4 119.1C937.9 119.5 938.5 119.8 939.0 120.2C939.6 120.6 940.2 120.9 940.7 121.3C941.3 121.7 941.8 122.0 942.4 122.4C942.9 122.8 943.5 123.2 944.0 123.6C944.6 124.0 945.1 124.3 945.7 124.7C946.2 125.1 946.7 125.5 947.3 125.9C947.8 126.3 948.3 126.8 948.9 127.2C949.4 127.6 949.9 128.0 950.4 128.4C951.0 128.8 951.5 129.2 952.0 129.7C952.5 130.1 953.0 130.5 953.5 130.9C954.0 131.4 954.5 131.8 955.0 132.3C955.6 132.7 956.0 133.1 956.5 133.6C957.0 134.0 957.5 134.5 958.0 134.9C958.5 135.4 959.0 135.8 959.5 136.3C959.9 136.8 960.4 137.2 960.9 137.7C961.4 138.2 961.8 138.6 962.3 139.1C962.8 139.6 963.2 140.1 963.7 140.5C964.1 141.0 964.6 141.5 965.0 142.0C965.5 142.5 965.9 143.0 966.4 143.5C966.8 144.0 967.2 144.5 967.7 145.0C968.1 145.5 968.5 146.0 969.0 146.5C969.4 147.0 969.8 147.5 970.2 148.0C970.6 148.5 971.0 149.0 971.5 149.5C971.9 150.1 972.3 150.6 972.6 151.1C973.0 151.6 973.4 152.2 973.8 152.7C974.2 153.2 974.6 153.8 975.0 154.3C975.4 154.8 975.7 155.4 976.1 155.9C976.5 156.5 976.8 157.0 977.2 157.5C977.6 158.1 977.9 158.6 978.3 159.2C978.6 159.7 979.0 160.3 979.3 160.9C979.7 161.4 980.0 162.0 980.3 162.6C980.7 163.1 981.0 163.7 981.3 164.2C981.7 164.8 982.0 165.4 982.3 166.0C982.6 166.5 982.9 167.1 983.2 167.7C983.6 168.3 983.9 168.9 984.2 169.4C984.5 170.0 984.8 170.6 985.1 171.2C985.4 171.8 985.6 172.4 985.9 173.0C986.2 173.6 986.5 174.2 986.8 174.8C987.1 175.4 987.3 176.0 987.6 176.6C987.9 177.2 988.2 177.8 988.4 178.4C988.7 179.0 988.9 179.6 989.2 180.2C989.5 180.8 989.7 181.5 990.0 182.1C990.2 182.7 990.5 183.3 990.7 183.9C991.0 184.5 991.2 185.2 991.4 185.8C991.7 186.4 991.9 187.1 992.1 187.7C992.3 188.3 992.6 188.9 992.8 189.6C993.0 190.2 993.2 190.8 993.5 191.5C993.7 192.1 993.9 192.8 994.1 193.4C994.3 194.0 994.5 194.7 994.7 195.3C994.9 196.0 995.1 196.6 995.3 197.3C995.5 197.9 995.7 198.6 995.9 199.2C996.1 199.9 996.3 200.5 996.5 201.2C996.7 201.8 996.8 202.5 997.0 203.2C997.2 203.8 997.4 204.5 997.5 205.2C997.7 205.8 997.9 206.5 998.1 207.1C998.2 207.8 998.4 208.5 998.5 209.1C998.7 209.8 998.9 210.5 999.0 211.2C999.2 211.8 999.3 212.5 999.5 213.2C999.6 213.9 999.8 214.5 999.9 215.2C1000.1 215.9 1000.2 216.6 1000.4 217.2C1000.5 217.9 1000.6 218.6 1000.8 219.3C1000.9 220.0 1001.0 220.7 1001.2 221.3C1001.3 222.0 1001.5 223.1 1001.6 223.4" fill="none" stroke="#444" stroke-width="1.05" stroke-dasharray="12.5 5"/>
<path d="M591.71 441.51C591.8 441.2 592.0 440.2 592.1 439.5C592.2 438.9 592.3 438.2 592.5 437.6C592.6 436.9 592.7 436.3 592.9 435.6C593.0 434.9 593.1 434.3 593.2 433.6C593.4 433.0 593.5 432.3 593.6 431.7C593.8 431.0 593.9 430.3 594.0 429.7C594.2 429.0 594.3 428.4 594.4 427.7C594.6 427.1 594.7 426.4 594.9 425.8C595.0 425.1 595.1 424.5 595.3 423.8C595.4 423.1 595.5 422.5 595.7 421.8C595.8 421.2 595.9 420.5 596.1 419.9C596.2 419.2 596.4 418.6 596.5 417.9C596.7 417.3 596.8 416.6 596.9 415.9C597.1 415.3 597.2 414.6 597.4 414.0C597.5 413.3 597.7 412.7 597.8 412.0C598.0 411.4 598.1 410.7 598.2 410.1C598.4 409.4 598.6 408.8 598.7 408.1C598.8 407.5 599.0 406.8 599.1 406.2C599.3 405.5 599.4 404.9 599.6 404.2C599.8 403.6 599.9 402.9 600.0 402.2C600.2 401.6 600.4 400.9 600.5 400.3C600.7 399.7 600.8 399.0 601.0 398.4C601.1 397.7 601.3 397.0 601.5 396.4C601.6 395.8 601.8 395.1 601.9 394.4C602.1 393.8 602.2 393.1 602.4 392.5C602.6 391.9 602.7 391.2 602.9 390.6C603.1 389.9 603.2 389.2 603.4 388.6C603.5 388.0 603.7 387.3 603.9 386.7C604.0 386.0 604.2 385.4 604.4 384.7C604.5 384.1 604.7 383.4 604.9 382.8C605.0 382.1 605.2 381.5 605.4 380.8C605.5 380.2 605.7 379.5 605.9 378.9C606.1 378.2 606.2 377.6 606.4 376.9C606.6 376.3 606.7 375.7 606.9 375.0C607.1 374.4 607.3 373.7 607.4 373.1C607.6 372.4 607.8 371.8 608.0 371.1C608.1 370.5 608.3 369.9 608.5 369.2C608.7 368.6 608.9 367.9 609.0 367.3C609.2 366.6 609.4 366.0 609.6 365.4C609.8 364.7 610.0 364.1 610.1 363.4C610.3 362.8 610.5 362.1 610.7 361.5C610.9 360.8 611.1 360.2 611.2 359.6C611.4 358.9 611.6 358.3 611.8 357.6C612.0 357.0 612.2 356.4 612.4 355.7C612.6 355.1 612.8 354.4 613.0 353.8C613.1 353.2 613.3 352.5 613.5 351.9C613.7 351.2 613.9 350.6 614.1 350.0C614.3 349.3 614.5 348.7 614.7 348.0C614.9 347.4 615.1 346.8 615.3 346.1C615.5 345.5 615.7 344.8 615.9 344.2C616.1 343.6 616.3 342.9 616.5 342.3C616.7 341.7 616.9 341.0 617.1 340.4C617.3 339.8 617.5 339.1 617.7 338.5C617.9 337.8 618.1 337.2 618.3 336.6C618.5 335.9 618.7 335.3 618.9 334.7C619.1 334.0 619.3 333.4 619.6 332.8C619.8 332.1 620.0 331.5 620.2 330.9C620.4 330.2 620.6 329.6 620.8 329.0C621.0 328.3 621.3 327.7 621.5 327.1C621.7 326.4 621.9 325.8 622.1 325.2C622.3 324.5 622.5 323.9 622.8 323.3C623.0 322.6 623.2 322.0 623.4 321.4C623.6 320.8 623.9 320.1 624.1 319.5C624.3 318.9 624.5 318.2 624.8 317.6C625.0 317.0 625.2 316.3 625.4 315.7C625.6 315.1 625.9 314.5 626.1 313.8C626.3 313.2 626.6 312.6 626.8 312.0C627.0 311.3 627.2 310.7 627.5 310.1C627.7 309.5 627.9 308.8 628.2 308.2C628.4 307.6 628.6 306.9 628.9 306.3C629.1 305.7 629.3 305.1 629.6 304.4C629.8 303.8 630.0 303.2 630.3 302.6C630.5 302.0 630.8 301.3 631.0 300.7C631.2 300.1 631.5 299.5 631.7 298.8C632.0 298.2 632.2 297.6 632.4 297.0C632.7 296.3 632.9 295.7 633.2 295.1C633.4 294.5 633.7 293.9 633.9 293.2C634.1 292.6 634.4 292.0 634.6 291.4C634.9 290.8 635.1 290.1 635.4 289.5C635.6 288.9 635.9 288.3 636.1 287.7C636.4 287.1 636.6 286.4 636.9 285.8C637.2 285.2 637.4 284.6 637.7 284.0C637.9 283.4 638.2 282.7 638.4 282.1C638.7 281.5 639.0 280.9 639.2 280.3C639.5 279.7 639.7 279.1 640.0 278.4C640.3 277.8 640.5 277.2 640.8 276.6C641.0 276.0 641.3 275.4 641.6 274.8C641.8 274.1 642.1 273.5 642.4 272.9C642.6 272.3 642.9 271.7 643.2 271.1C643.4 270.5 643.7 269.9 644.0 269.3C644.2 268.6 644.5 268.0 644.8 267.4C645.1 266.8 645.3 266.2 645.6 265.6C645.9 265.0 646.2 264.4 646.4 263.8C646.7 263.2 647.0 262.6 647.3 262.0C647.5 261.4 647.8 260.7 648.1 260.1C648.4 259.5 648.7 258.9 649.0 258.3C649.2 257.7 649.5 257.1 649.8 256.5C650.1 255.9 650.4 255.3 650.7 254.7C650.9 254.1 651.2 253.5 651.5 252.9C651.8 252.3 652.1 251.7 652.4 251.1C652.7 250.5 653.0 249.9 653.3 249.3C653.6 248.7 653.8 248.1 654.1 247.5C654.4 246.9 654.7 246.3 655.0 245.7C655.3 245.1 655.6 244.5 655.9 243.9C656.2 243.3 656.5 242.7 656.8 242.1C657.1 241.5 657.4 240.9 657.7 240.3C658.0 239.7 658.3 239.1 658.6 238.5C658.9 237.9 659.2 237.3 659.5 236.7C659.8 236.1 660.2 235.6 660.5 235.0C660.8 234.4 661.1 233.8 661.4 233.2C661.7 232.6 662.0 232.0 662.3 231.4C662.6 230.8 662.9 230.2 663.3 229.6C663.6 229.0 663.9 228.5 664.2 227.9C664.5 227.3 664.8 226.7 665.2 226.1C665.5 225.5 665.8 224.9 666.1 224.3C666.4 223.8 666.8 223.2 667.1 222.6C667.4 222.0 667.7 221.4 668.1 220.8C668.4 220.2 668.7 219.7 669.0 219.1C669.4 218.5 669.7 217.9 670.0 217.3C670.4 216.7 670.7 216.2 671.0 215.6C671.3 215.0 671.7 214.4 672.0 213.8C672.3 213.2 672.7 212.7 673.0 212.1C673.3 211.5 673.7 210.9 674.0 210.3C674.3 209.8 674.7 209.2 675.0 208.6C675.4 208.0 675.7 207.5 676.0 206.9C676.4 206.3 676.7 205.7 677.1 205.2C677.4 204.6 677.8 204.0 678.1 203.4C678.5 202.9 678.8 202.3 679.2 201.7C679.5 201.1 679.9 200.6 680.2 200.0C680.6 199.4 680.9 198.8 681.3 198.3C681.6 197.7 682.0 197.1 682.3 196.6C682.7 196.0 683.0 195.4 683.4 194.9C683.7 194.3 684.1 193.7 684.5 193.2C684.8 192.6 685.2 192.0 685.5 191.5C685.9 190.9 686.3 190.4 686.6 189.8C687.0 189.2 687.4 188.7 687.7 188.1C688.1 187.5 688.5 187.0 688.8 186.4C689.2 185.9 689.6 185.3 690.0 184.8C690.3 184.2 690.7 183.6 691.1 183.1C691.4 182.5 691.8 182.0 692.2 181.4C692.6 180.9 693.0 180.3 693.3 179.8C693.7 179.2 694.1 178.6 694.5 178.1C694.9 177.6 695.2 177.0 695.6 176.5C696.0 175.9 696.4 175.4 696.8 174.8C697.2 174.3 697.6 173.7 698.0 173.2C698.3 172.6 698.7 172.1 699.1 171.6C699.5 171.0 699.9 170.5 700.3 169.9C700.7 169.4 701.1 168.8 701.5 168.3C701.9 167.8 702.3 167.2 702.7 166.7C703.1 166.2 703.5 165.6 703.9 165.1C704.3 164.6 704.7 164.0 705.1 163.5C705.5 163.0 705.9 162.4 706.3 161.9C706.7 161.4 707.1 160.9 707.5 160.3C708.0 159.8 708.4 159.3 708.8 158.8C709.2 158.2 709.6 157.7 710.0 157.2C710.4 156.7 710.9 156.1 711.3 155.6C711.7 155.1 712.1 154.6 712.5 154.1C713.0 153.6 713.4 153.0 713.8 152.5C714.2 152.0 714.7 151.5 715.1 151.0C715.5 150.5 716.0 150.0 716.4 149.5C716.8 149.0 717.2 148.4 717.7 147.9C718.1 147.4 718.5 146.9 719.0 146.4C719.4 145.9 719.9 145.4 720.3 144.9C720.7 144.4 721.2 143.9 721.6 143.4C722.1 142.9 722.5 142.4 722.9 141.9C723.4 141.4 723.8 140.9 724.3 140.4C724.7 140.0 725.2 139.5 725.6 139.0C726.1 138.5 726.5 138.0 727.0 137.5C727.4 137.0 727.9 136.6 728.4 136.1C728.8 135.6 729.3 135.1 729.7 134.6C730.2 134.1 730.7 133.7 731.1 133.2C731.6 132.7 732.0 132.2 732.5 131.8C733.0 131.3 733.4 130.8 733.9 130.3C734.4 129.9 734.9 129.4 735.3 128.9C735.8 128.5 736.3 128.0 736.8 127.5C737.2 127.1 737.7 126.6 738.2 126.2C738.7 125.7 739.1 125.2 739.6 124.8C740.1 124.3 740.6 123.9 741.1 123.4C741.6 123.0 742.1 122.5 742.5 122.1C743.0 121.6 743.5 121.2 744.0 120.7C744.5 120.3 745.0 119.8 745.5 119.4C746.0 118.9 746.5 118.5 747.0 118.1C747.5 117.6 748.0 117.2 748.5 116.8C749.0 116.3 749.5 115.9 750.0 115.4C750.5 115.0 751.0 114.6 751.5 114.2C752.0 113.7 752.5 113.3 753.0 112.9C753.6 112.4 754.1 112.0 754.6 111.6C755.1 111.2 755.6 110.8 756.1 110.3C756.6 109.9 757.2 109.5 757.7 109.1C758.2 108.7 758.7 108.3 759.3 107.9C759.8 107.5 760.3 107.1 760.9 106.7C761.4 106.2 761.9 105.8 762.4 105.4C763.0 105.0 763.5 104.6 764.0 104.2C764.6 103.8 765.1 103.5 765.6 103.1C766.2 102.7 766.7 102.3 767.3 101.9C767.8 101.5 768.4 101.1 768.9 100.7C769.5 100.3 770.0 99.9 770.6 99.6C771.1 99.2 771.7 98.8 772.2 98.4C772.8 98.1 773.3 97.7 773.9 97.3C774.4 96.9 775.0 96.6 775.6 96.2C776.1 95.8 776.7 95.5 777.2 95.1C777.8 94.7 778.4 94.4 779.0 94.0C779.5 93.7 780.1 93.3 780.7 93.0C781.2 92.6 781.8 92.2 782.4 91.9C783.0 91.6 783.5 91.2 784.1 90.9C784.7 90.5 785.3 90.2 785.9 89.8C786.4 89.5 787.0 89.2 787.6 88.8C788.2 88.5 788.8 88.1 789.4 87.8C790.0 87.5 790.6 87.2 791.1 86.8C791.7 86.5 792.3 86.2 792.9 85.9C793.5 85.6 794.1 85.2 794.7 84.9C795.3 84.6 795.9 84.3 796.5 84.0C797.1 83.7 797.7 83.4 798.3 83.1C798.9 82.8 799.6 82.5 800.2 82.2C800.8 81.9 801.4 81.6 802.0 81.3C802.6 81.0 803.2 80.7 803.8 80.5C804.4 80.2 805.1 79.9 805.7 79.6C806.3 79.4 806.9 79.1 807.5 78.8C808.1 78.5 808.8 78.3 809.4 78.0C810.0 77.8 810.6 77.5 811.3 77.2C811.9 77.0 812.5 76.7 813.1 76.5C813.8 76.3 814.4 76.0 815.0 75.8C815.7 75.5 816.3 75.3 816.9 75.1C817.6 74.8 818.2 74.6 818.8 74.4C819.5 74.2 820.1 73.9 820.7 73.7C821.4 73.5 822.0 73.3 822.6 73.1C823.3 72.9 823.9 72.7 824.5 72.5C825.2 72.3 825.8 72.1 826.5 71.9C827.1 71.7 827.8 71.5 828.4 71.3C829.0 71.1 829.7 71.0 830.3 70.8C831.0 70.6 831.6 70.4 832.3 70.3C832.9 70.1 833.6 69.9 834.2 69.8C834.9 69.6 835.5 69.4 836.2 69.3C836.8 69.1 837.5 69.0 838.1 68.8C838.8 68.7 839.4 68.5 840.1 68.4C840.7 68.2 841.4 68.1 842.0 68.0C842.7 67.8 843.3 67.7 844.0 67.6C844.7 67.5 845.3 67.3 846.0 67.2C846.6 67.1 847.3 67.0 847.9 66.8C848.6 66.7 849.3 66.6 849.9 66.5C850.6 66.4 851.2 66.3 851.9 66.2C852.5 66.1 853.2 66.0 853.9 65.9C854.5 65.8 855.2 65.7 855.9 65.6C856.5 65.6 857.2 65.5 857.8 65.4C858.5 65.3 859.2 65.2 859.8 65.1C860.5 65.1 861.1 65.0 861.8 64.9C862.5 64.9 863.1 64.8 863.8 64.7C864.5 64.7 865.1 64.6 865.8 64.5C866.5 64.5 867.1 64.4 867.8 64.4C868.4 64.3 869.1 64.3 869.8 64.2C870.4 64.2 871.1 64.2 871.8 64.1C872.4 64.1 873.1 64.0 873.8 64.0C874.4 64.0 875.1 64.0 875.8 63.9C876.4 63.9 877.1 63.9 877.8 63.9C878.4 63.9 879.1 63.8 879.7 63.8C880.4 63.8 881.1 63.8 881.7 63.8C882.4 63.8 883.1 63.8 883.7 63.8C884.4 63.8 885.1 63.8 885.7 63.8C886.4 63.8 887.0 63.9 887.7 63.9C888.4 63.9 889.0 63.9 889.7 63.9C890.4 64.0 891.0 64.0 891.7 64.0C892.4 64.1 893.0 64.1 893.7 64.1C894.3 64.2 895.0 64.2 895.6 64.3C896.3 64.3 897.0 64.4 897.6 64.4C898.3 64.5 899.0 64.5 899.6 64.6C900.3 64.7 900.9 64.7 901.6 64.8C902.2 64.9 902.9 65.0 903.6 65.0C904.2 65.1 904.9 65.2 905.5 65.3C906.2 65.4 906.8 65.5 907.5 65.6C908.2 65.7 908.8 65.8 909.5 65.9C910.1 66.0 910.8 66.1 911.4 66.2C912.1 66.3 912.7 66.4 913.4 66.6C914.0 66.7 914.7 66.8 915.3 67.0C916.0 67.1 916.6 67.2 917.3 67.4C917.9 67.5 918.6 67.7 919.2 67.8C919.9 67.9 920.5 68.1 921.1 68.3C921.8 68.4 922.4 68.6 923.1 68.8C923.7 68.9 924.4 69.1 925.0 69.3C925.6 69.5 926.3 69.6 926.9 69.8C927.6 70.0 928.2 70.2 928.8 70.4C929.5 70.6 930.1 70.8 930.7 71.0C931.4 71.2 932.0 71.4 932.6 71.7C933.3 71.9 933.9 72.1 934.5 72.3C935.2 72.5 935.8 72.8 936.4 73.0C937.0 73.3 937.7 73.5 938.3 73.7C938.9 74.0 939.6 74.2 940.2 74.5C940.8 74.8 941.4 75.0 942.0 75.3C942.7 75.6 943.3 75.8 943.9 76.1C944.5 76.4 945.1 76.7 945.7 77.0C946.3 77.2 946.9 77.5 947.5 77.8C948.2 78.1 948.8 78.4 949.4 78.8C950.0 79.1 950.6 79.4 951.1 79.7C951.7 80.0 952.3 80.3 952.9 80.7C953.5 81.0 954.1 81.3 954.7 81.7C955.3 82.0 955.8 82.4 956.4 82.7C957.0 83.0 957.6 83.4 958.1 83.8C958.7 84.1 959.3 84.5 959.8 84.9C960.4 85.2 960.9 85.6 961.5 86.0C962.0 86.4 962.6 86.8 963.1 87.2C963.7 87.5 964.2 87.9 964.7 88.3C965.3 88.8 965.8 89.2 966.3 89.6C966.9 90.0 967.4 90.4 967.9 90.8C968.4 91.2 968.9 91.7 969.4 92.1C969.9 92.5 970.4 93.0 970.9 93.4C971.4 93.9 971.9 94.3 972.4 94.8C972.8 95.2 973.3 95.7 973.8 96.2C974.2 96.6 974.7 97.1 975.2 97.6C975.6 98.1 976.1 98.5 976.5 99.0C977.0 99.5 977.4 100.0 977.8 100.5C978.3 101.0 978.7 101.5 979.1 102.0C979.5 102.5 979.9 103.0 980.3 103.6C980.7 104.1 981.1 104.6 981.5 105.1C981.9 105.7 982.3 106.2 982.7 106.7C983.0 107.3 983.4 107.8 983.8 108.4C984.1 108.9 984.5 109.5 984.8 110.0C985.2 110.6 985.5 111.2 985.9 111.7C986.2 112.3 986.5 112.9 986.9 113.5C987.2 114.0 987.5 114.6 987.8 115.2C988.1 115.8 988.4 116.4 988.7 117.0C989.0 117.6 989.3 118.2 989.6 118.8C989.9 119.3 990.2 120.0 990.5 120.6C990.7 121.2 991.0 121.8 991.3 122.4C991.5 123.0 991.8 123.6 992.0 124.2C992.3 124.9 992.5 125.5 992.8 126.1C993.0 126.7 993.3 127.4 993.5 128.0C993.7 128.6 994.0 129.3 994.2 129.9C994.4 130.5 994.6 131.2 994.8 131.8C995.1 132.4 995.3 133.1 995.5 133.7C995.7 134.4 995.9 135.0 996.1 135.7C996.3 136.3 996.4 137.0 996.6 137.6C996.8 138.3 997.0 138.9 997.2 139.6C997.3 140.2 997.5 140.9 997.7 141.5C997.9 142.2 998.0 142.9 998.2 143.5C998.3 144.2 998.5 144.8 998.6 145.5C998.8 146.2 998.9 146.8 999.1 147.5C999.2 148.1 999.4 148.8 999.5 149.5C999.6 150.1 999.8 150.8 999.9 151.5C1000.0 152.1 1000.2 152.8 1000.3 153.5C1000.4 154.1 1000.5 154.8 1000.6 155.4C1000.7 156.1 1000.9 156.8 1001.0 157.4C1001.1 158.1 1001.2 158.8 1001.3 159.4C1001.4 160.1 1001.5 161.1 1001.6 161.4" fill="none" stroke="#444" stroke-width="1.05" stroke-dasharray="2 3.3"/>
<rect x="30.45" y="638.30" width="435.05" height="482.17" fill="none" stroke="#555" stroke-width="1.1"/>
<path d="M139.21 1120.47v-5.00M139.21 638.30v5.00M247.97 1120.47v-5.00M247.97 638.30v5.00M356.74 1120.47v-5.00M356.74 638.30v5.00M30.45 1051.59h5.00M465.50 1051.59h-5.00M30.45 982.71h5.00M465.50 982.71h-5.00M30.45 913.83h5.00M465.50 913.83h-5.00M30.45 844.94h5.00M465.50 844.94h-5.00M30.45 776.06h5.00M465.50 776.06h-5.00M30.45 707.18h5.00M465.50 707.18h-5.00" stroke="#555" stroke-width="1.1"/>
<text transform="matrix(1 0 0 1.07 20.73 1135.47)" font-size="14.4">-1</text>
<text transform="matrix(1 0 0 1.07 124.54 1135.47)" font-size="14.4">-0.5</text>
<text transform="matrix(1 0 0 1.07 243.37 1135.47)" font-size="14.4">0</text>
<text transform="matrix(1 0 0 1.07 346.15 1135.47)" font-size="14.4">0.5</text>
<text transform="matrix(1 0 0 1.07 460.30 1135.47)" font-size="14.4">1</text>
<text transform="matrix(1 0 0 1.07 7.16 1125.22)" font-size="14.4">0.2</text>
<text transform="matrix(1 0 0 1.07 6.85 1056.34)" font-size="14.4">0.4</text>
<text transform="matrix(1 0 0 1.07 7.06 987.46)" font-size="14.4">0.6</text>
<text transform="matrix(1 0 0 1.07 7.06 918.58)" font-size="14.4">0.8</text>
<text transform="matrix(1 0 0 1.07 19.14 849.69)" font-size="14.4">1</text>
<text transform="matrix(1 0 0 1.07 7.16 780.81)" font-size="14.4">1.2</text>
<text transform="matrix(1 0 0 1.07 6.85 711.93)" font-size="14.4">1.4</text>
<text transform="matrix(1 0 0 1.07 7.06 643.05)" font-size="14.4">1.6</text>
<text x="193.37" y="622.60" font-size="16.3">(b.1) Variance</text>
<path d="M40.30 1095.52C40.5 1095.3 41.1 1094.4 41.5 1093.9C41.9 1093.4 42.3 1092.8 42.7 1092.3C43.1 1091.8 43.5 1091.2 43.9 1090.7C44.3 1090.2 44.7 1089.6 45.1 1089.1C45.5 1088.5 45.9 1088.0 46.3 1087.5C46.7 1086.9 47.2 1086.4 47.6 1085.9C48.0 1085.3 48.4 1084.8 48.8 1084.3C49.2 1083.7 49.6 1083.2 50.0 1082.7C50.4 1082.2 50.8 1081.6 51.2 1081.1C51.6 1080.6 52.0 1080.0 52.5 1079.5C52.9 1079.0 53.3 1078.5 53.7 1077.9C54.1 1077.4 54.5 1076.9 54.9 1076.3C55.3 1075.8 55.8 1075.3 56.2 1074.8C56.6 1074.2 57.0 1073.7 57.4 1073.2C57.8 1072.7 58.3 1072.1 58.7 1071.6C59.1 1071.1 59.5 1070.6 59.9 1070.0C60.3 1069.5 60.8 1069.0 61.2 1068.5C61.6 1068.0 62.0 1067.4 62.4 1066.9C62.9 1066.4 63.3 1065.9 63.7 1065.4C64.1 1064.8 64.5 1064.3 65.0 1063.8C65.4 1063.3 65.8 1062.8 66.2 1062.2C66.7 1061.7 67.1 1061.2 67.5 1060.7C67.9 1060.2 68.4 1059.7 68.8 1059.2C69.2 1058.6 69.7 1058.1 70.1 1057.6C70.5 1057.1 70.9 1056.6 71.4 1056.1C71.8 1055.6 72.2 1055.0 72.7 1054.5C73.1 1054.0 73.5 1053.5 73.9 1053.0C74.4 1052.5 74.8 1052.0 75.2 1051.5C75.7 1051.0 76.1 1050.5 76.5 1050.0C77.0 1049.4 77.4 1048.9 77.8 1048.4C78.3 1047.9 78.7 1047.4 79.2 1046.9C79.6 1046.4 80.0 1045.9 80.5 1045.4C80.9 1044.9 81.3 1044.4 81.8 1043.9C82.2 1043.4 82.7 1042.9 83.1 1042.4C83.5 1041.9 84.0 1041.4 84.4 1040.9C84.9 1040.4 85.3 1039.9 85.8 1039.4C86.2 1038.9 86.6 1038.4 87.1 1037.9C87.5 1037.4 88.0 1036.9 88.4 1036.4C88.9 1035.9 89.3 1035.4 89.8 1034.9C90.2 1034.4 90.7 1033.9 91.1 1033.4C91.5 1032.9 92.0 1032.4 92.5 1031.9C92.9 1031.4 93.3 1031.0 93.8 1030.5C94.2 1030.0 94.7 1029.5 95.2 1029.0C95.6 1028.5 96.1 1028.0 96.5 1027.5C97.0 1027.0 97.4 1026.5 97.9 1026.1C98.3 1025.6 98.8 1025.1 99.2 1024.6C99.7 1024.1 100.2 1023.6 100.6 1023.1C101.1 1022.7 101.5 1022.2 102.0 1021.7C102.4 1021.2 102.9 1020.7 103.4 1020.2C103.8 1019.8 104.3 1019.3 104.8 1018.8C105.2 1018.3 105.7 1017.8 106.1 1017.4C106.6 1016.9 107.1 1016.4 107.5 1015.9C108.0 1015.5 108.5 1015.0 108.9 1014.5C109.4 1014.0 109.9 1013.6 110.3 1013.1C110.8 1012.6 111.3 1012.1 111.7 1011.7C112.2 1011.2 112.7 1010.7 113.1 1010.2C113.6 1009.8 114.1 1009.3 114.5 1008.8C115.0 1008.4 115.5 1007.9 116.0 1007.4C116.4 1007.0 116.9 1006.5 117.4 1006.0C117.9 1005.6 118.3 1005.1 118.8 1004.6C119.3 1004.2 119.8 1003.7 120.2 1003.2C120.7 1002.8 121.2 1002.3 121.7 1001.8C122.1 1001.4 122.6 1000.9 123.1 1000.5C123.6 1000.0 124.1 999.5 124.5 999.1C125.0 998.6 125.5 998.2 126.0 997.7C126.5 997.3 127.0 996.8 127.4 996.3C127.9 995.9 128.4 995.4 128.9 995.0C129.4 994.5 129.9 994.1 130.3 993.6C130.8 993.2 131.3 992.7 131.8 992.3C132.3 991.8 132.8 991.4 133.3 990.9C133.8 990.5 134.3 990.0 134.8 989.6C135.2 989.1 135.7 988.7 136.2 988.2C136.7 987.8 137.2 987.3 137.7 986.9C138.2 986.4 138.7 986.0 139.2 985.6C139.7 985.1 140.2 984.7 140.7 984.2C141.2 983.8 141.7 983.3 142.2 982.9C142.7 982.5 143.2 982.0 143.7 981.6C144.2 981.2 144.7 980.7 145.2 980.3C145.7 979.9 146.2 979.4 146.7 979.0C147.2 978.5 147.7 978.1 148.2 977.7C148.7 977.2 149.2 976.8 149.7 976.4C150.2 976.0 150.7 975.5 151.2 975.1C151.7 974.7 152.2 974.2 152.8 973.8C153.3 973.4 153.8 973.0 154.3 972.5C154.8 972.1 155.3 971.7 155.8 971.3C156.3 970.8 156.8 970.4 157.4 970.0C157.9 969.6 158.4 969.2 158.9 968.7C159.4 968.3 159.9 967.9 160.4 967.5C161.0 967.1 161.5 966.6 162.0 966.2C162.5 965.8 163.0 965.4 163.6 965.0C164.1 964.6 164.6 964.2 165.1 963.8C165.6 963.3 166.2 962.9 166.7 962.5C167.2 962.1 167.7 961.7 168.3 961.3C168.8 960.9 169.3 960.5 169.8 960.1C170.4 959.7 170.9 959.2 171.4 958.8C171.9 958.4 172.5 958.0 173.0 957.6C173.5 957.2 174.1 956.8 174.6 956.4C175.1 956.0 175.7 955.6 176.2 955.2C176.7 954.8 177.3 954.4 177.8 954.0C178.3 953.6 178.9 953.2 179.4 952.9C179.9 952.5 180.5 952.1 181.0 951.7C181.5 951.3 182.1 950.9 182.6 950.5C183.1 950.1 183.7 949.7 184.2 949.3C184.8 948.9 185.3 948.5 185.9 948.2C186.4 947.8 186.9 947.4 187.5 947.0C188.0 946.6 188.6 946.2 189.1 945.9C189.7 945.5 190.2 945.1 190.8 944.7C191.3 944.3 191.9 943.9 192.4 943.6C192.9 943.2 193.5 942.8 194.1 942.4C194.6 942.1 195.1 941.7 195.7 941.3C196.3 940.9 196.8 940.6 197.4 940.2C197.9 939.8 198.5 939.4 199.0 939.1C199.6 938.7 200.1 938.3 200.7 938.0C201.2 937.6 201.8 937.2 202.4 936.9C202.9 936.5 203.5 936.1 204.0 935.8C204.6 935.4 205.2 935.0 205.7 934.7C206.3 934.3 206.8 933.9 207.4 933.6C208.0 933.2 208.5 932.9 209.1 932.5C209.7 932.2 210.2 931.8 210.8 931.5C211.4 931.1 211.9 930.7 212.5 930.4C213.1 930.0 213.6 929.7 214.2 929.3C214.8 929.0 215.3 928.6 215.9 928.3C216.5 927.9 217.1 927.6 217.6 927.2C218.2 926.9 218.8 926.5 219.4 926.2C219.9 925.9 220.5 925.5 221.1 925.2C221.7 924.8 222.2 924.5 222.8 924.1C223.4 923.8 224.0 923.5 224.6 923.1C225.1 922.8 225.7 922.5 226.3 922.1C226.9 921.8 227.5 921.5 228.1 921.1C228.6 920.8 229.2 920.5 229.8 920.1C230.4 919.8 231.0 919.5 231.6 919.1C232.2 918.8 232.8 918.5 233.3 918.1C233.9 917.8 234.5 917.5 235.1 917.2C235.7 916.8 236.3 916.5 236.9 916.2C237.5 915.9 238.1 915.6 238.7 915.2C239.3 914.9 239.8 914.6 240.4 914.3C241.0 914.0 241.6 913.6 242.2 913.3C242.8 913.0 243.4 912.7 244.0 912.4C244.6 912.1 245.2 911.7 245.8 911.4C246.4 911.1 247.0 910.8 247.6 910.5C248.2 910.2 248.8 909.9 249.4 909.5C250.0 909.2 250.6 908.9 251.2 908.6C251.8 908.3 252.4 908.0 253.0 907.7C253.6 907.4 254.2 907.1 254.8 906.8C255.4 906.5 256.0 906.1 256.6 905.8C257.2 905.5 257.8 905.2 258.4 904.9C259.0 904.6 259.6 904.3 260.2 904.0C260.8 903.7 261.4 903.4 262.0 903.0C262.6 902.7 263.2 902.4 263.8 902.1C264.4 901.8 265.0 901.5 265.6 901.2C266.2 900.9 266.8 900.6 267.4 900.3C268.0 900.0 268.6 899.7 269.2 899.4C269.8 899.0 270.4 898.7 271.0 898.4C271.6 898.1 272.2 897.8 272.8 897.5C273.4 897.2 274.0 896.9 274.6 896.6C275.2 896.2 275.8 895.9 276.4 895.6C277.0 895.3 277.6 895.0 278.2 894.7C278.8 894.4 279.4 894.1 280.0 893.8C280.6 893.4 281.2 893.1 281.8 892.8C282.4 892.5 282.9 892.2 283.5 891.9C284.1 891.6 284.7 891.2 285.3 890.9C285.9 890.6 286.5 890.3 287.1 890.0C287.7 889.6 288.3 889.3 288.9 889.0C289.4 888.7 290.0 888.4 290.6 888.0C291.2 887.7 291.8 887.4 292.4 887.1C293.0 886.7 293.5 886.4 294.1 886.1C294.7 885.8 295.3 885.4 295.9 885.1C296.4 884.8 297.0 884.5 297.6 884.1C298.2 883.8 298.8 883.5 299.4 883.1C299.9 882.8 300.5 882.5 301.1 882.1C301.6 881.8 302.2 881.4 302.8 881.1C303.4 880.8 303.9 880.4 304.5 880.1C305.1 879.7 305.6 879.4 306.2 879.0C306.8 878.7 307.3 878.4 307.9 878.0C308.5 877.7 309.0 877.3 309.6 877.0C310.2 876.6 310.7 876.3 311.3 875.9C311.8 875.6 312.4 875.2 312.9 874.8C313.5 874.5 314.0 874.1 314.6 873.8C315.1 873.4 315.7 873.0 316.2 872.7C316.8 872.3 317.3 871.9 317.9 871.6C318.4 871.2 319.0 870.8 319.5 870.5C320.1 870.1 320.6 869.7 321.1 869.3C321.7 869.0 322.2 868.6 322.7 868.2C323.3 867.8 323.8 867.4 324.3 867.0C324.9 866.7 325.4 866.3 325.9 865.9C326.4 865.5 327.0 865.1 327.5 864.7C328.0 864.3 328.5 863.9 329.1 863.5C329.6 863.1 330.1 862.7 330.6 862.3C331.1 861.9 331.6 861.5 332.1 861.1C332.6 860.7 333.2 860.3 333.7 859.9C334.2 859.4 334.7 859.0 335.2 858.6C335.7 858.2 336.2 857.8 336.7 857.3C337.2 856.9 337.7 856.5 338.1 856.0C338.6 855.6 339.1 855.2 339.6 854.7C340.1 854.3 340.6 853.9 341.1 853.4C341.6 853.0 342.0 852.5 342.5 852.1C343.0 851.6 343.5 851.2 343.9 850.7C344.4 850.3 344.9 849.8 345.3 849.4C345.8 848.9 346.3 848.4 346.7 848.0C347.2 847.5 347.7 847.0 348.1 846.6C348.6 846.1 349.0 845.6 349.5 845.1C349.9 844.7 350.4 844.2 350.8 843.7C351.3 843.2 351.7 842.7 352.1 842.2C352.6 841.7 353.0 841.2 353.4 840.7C353.9 840.2 354.3 839.7 354.7 839.2C355.2 838.7 355.6 838.2 356.0 837.7C356.4 837.2 356.8 836.7 357.2 836.2C357.7 835.6 358.1 835.1 358.5 834.6C358.9 834.1 359.3 833.5 359.7 833.0C360.1 832.5 360.5 832.0 360.9 831.4C361.3 830.9 361.7 830.3 362.1 829.8C362.5 829.3 362.9 828.7 363.3 828.2C363.6 827.6 364.0 827.1 364.4 826.5C364.8 826.0 365.2 825.4 365.6 824.9C365.9 824.3 366.3 823.7 366.7 823.2C367.0 822.6 367.4 822.0 367.8 821.5C368.1 820.9 368.5 820.3 368.8 819.8C369.2 819.2 369.6 818.6 369.9 818.0C370.3 817.5 370.6 816.9 371.0 816.3C371.3 815.7 371.6 815.1 372.0 814.5C372.3 814.0 372.7 813.4 373.0 812.8C373.3 812.2 373.7 811.6 374.0 811.0C374.3 810.4 374.7 809.8 375.0 809.2C375.3 808.6 375.6 808.0 375.9 807.4C376.3 806.8 376.6 806.2 376.9 805.6C377.2 805.0 377.5 804.4 377.8 803.8C378.1 803.2 378.4 802.6 378.8 802.0C379.1 801.4 379.4 800.8 379.6 800.2C379.9 799.6 380.2 798.9 380.5 798.3C380.8 797.7 381.1 797.1 381.4 796.5C381.7 795.9 382.0 795.2 382.2 794.6C382.5 794.0 382.8 793.4 383.1 792.8C383.4 792.1 383.6 791.5 383.9 790.9C384.2 790.3 384.4 789.7 384.7 789.0C385.0 788.4 385.2 787.8 385.5 787.1C385.7 786.5 386.0 785.9 386.3 785.3C386.5 784.6 386.8 784.0 387.0 783.4C387.3 782.8 387.5 782.1 387.8 781.5C388.0 780.9 388.2 780.2 388.5 779.6C388.7 779.0 389.0 778.3 389.2 777.7C389.4 777.1 389.7 776.4 389.9 775.8C390.1 775.2 390.3 774.5 390.6 773.9C390.8 773.3 391.0 772.6 391.2 772.0C391.4 771.4 391.6 770.7 391.9 770.1C392.1 769.5 392.3 768.8 392.5 768.2C392.7 767.6 392.9 766.9 393.1 766.3C393.3 765.7 393.5 765.0 393.7 764.4C393.9 763.8 394.1 763.1 394.3 762.5C394.5 761.9 394.7 761.2 394.9 760.6C395.0 760.0 395.2 759.3 395.4 758.7C395.6 758.1 395.8 757.4 395.9 756.8C396.1 756.2 396.3 755.5 396.5 754.9C396.7 754.3 396.8 753.6 397.0 753.0C397.2 752.4 397.3 751.7 397.5 751.1C397.7 750.5 397.9 749.8 398.0 749.2C398.2 748.6 398.4 747.9 398.5 747.3C398.7 746.7 398.9 746.0 399.0 745.4C399.2 744.8 399.3 744.1 399.5 743.5C399.7 742.9 399.8 742.2 400.0 741.6C400.1 741.0 400.3 740.3 400.5 739.7C400.6 739.1 400.8 738.4 400.9 737.8C401.1 737.2 401.3 736.5 401.4 735.9C401.6 735.3 401.7 734.6 401.9 734.0C402.0 733.3 402.2 732.7 402.3 732.1C402.5 731.4 402.7 730.8 402.8 730.2C403.0 729.5 403.1 728.9 403.3 728.2C403.4 727.6 403.6 727.0 403.8 726.3C403.9 725.7 404.1 725.0 404.2 724.4C404.4 723.8 404.6 723.1 404.7 722.5C404.9 721.9 405.0 721.2 405.2 720.6C405.4 719.9 405.5 719.3 405.7 718.6C405.9 718.0 406.0 717.4 406.2 716.7C406.4 716.1 406.5 715.4 406.7 714.8C406.9 714.1 407.0 713.5 407.2 712.8C407.4 712.2 407.6 711.5 407.7 710.9C407.9 710.2 408.1 709.6 408.3 709.0C408.4 708.3 408.6 707.6 408.8 707.0C409.0 706.3 409.2 705.7 409.4 705.0C409.6 704.4 409.8 703.7 409.9 703.1C410.1 702.4 410.3 701.8 410.5 701.1C410.7 700.5 410.9 699.8 411.1 699.1C411.3 698.5 411.5 697.8 411.8 697.2C412.0 696.5 412.2 695.9 412.4 695.2C412.6 694.5 412.8 693.9 413.0 693.2C413.2 692.5 413.5 691.9 413.7 691.2C413.9 690.6 414.2 689.9 414.4 689.2C414.6 688.6 414.9 687.9 415.1 687.2C415.3 686.6 415.6 685.9 415.8 685.2C416.1 684.5 416.3 683.9 416.6 683.2C416.8 682.6 417.1 681.9 417.4 681.3C417.7 680.6 418.0 680.0 418.3 679.4C418.6 678.9 418.9 678.3 419.2 677.7C419.5 677.2 419.9 676.7 420.2 676.2C420.6 675.8 421.0 675.3 421.4 674.9C421.8 674.5 422.2 674.1 422.6 673.9C423.1 673.7 423.5 673.5 424.0 673.6C424.4 673.8 424.8 674.2 425.2 674.6C425.7 675.0 426.0 675.7 426.4 676.2C426.7 676.8 427.0 677.4 427.3 678.0C427.6 678.6 427.8 679.2 428.1 679.8C428.3 680.4 428.5 680.9 428.7 681.5C428.9 682.2 429.0 682.8 429.2 683.4C429.4 684.0 429.5 684.6 429.6 685.2C429.8 685.8 429.9 686.4 430.1 687.1C430.2 687.7 430.3 688.3 430.4 689.0C430.6 689.6 430.7 690.2 430.8 690.9C430.9 691.5 431.0 692.1 431.1 692.8C431.3 693.4 431.4 694.1 431.5 694.7C431.6 695.3 431.7 696.0 431.8 696.6C431.9 697.3 432.0 698.0 432.1 698.6C432.2 699.3 432.3 699.9 432.4 700.6C432.5 701.2 432.6 701.9 432.7 702.6C432.8 703.2 432.8 703.9 432.9 704.6C433.0 705.2 433.1 705.9 433.2 706.6C433.3 707.2 433.3 707.9 433.4 708.6C433.5 709.3 433.6 709.9 433.7 710.6C433.7 711.3 433.8 712.0 433.9 712.6C434.0 713.3 434.0 714.0 434.1 714.7C434.2 715.3 434.3 716.0 434.3 716.7C434.4 717.4 434.5 718.0 434.6 718.7C434.6 719.4 434.7 720.1 434.8 720.7C434.8 721.4 434.9 722.1 435.0 722.8C435.0 723.4 435.1 724.1 435.2 724.8C435.2 725.5 435.3 726.1 435.4 726.8C435.4 727.5 435.5 728.2 435.6 728.8C435.6 729.5 435.7 730.2 435.8 730.9C435.8 731.5 435.9 732.2 436.0 732.9C436.0 733.6 436.1 734.2 436.2 734.9C436.2 735.6 436.3 736.2 436.4 736.9C436.4 737.6 436.5 738.2 436.5 738.9C436.6 739.6 436.7 740.3 436.7 740.9C436.8 741.6 436.9 742.3 436.9 743.0C437.0 743.6 437.0 744.3 437.1 745.0C437.1 745.6 437.2 746.3 437.3 747.0C437.3 747.6 437.4 748.3 437.4 749.0C437.5 749.6 437.6 750.3 437.6 751.0C437.7 751.7 437.7 752.3 437.8 753.0C437.9 753.7 437.9 754.3 438.0 755.0C438.0 755.7 438.1 756.3 438.1 757.0C438.2 757.7 438.3 758.3 438.3 759.0C438.4 759.7 438.4 760.3 438.5 761.0C438.5 761.7 438.6 762.3 438.6 763.0C438.7 763.7 438.7 764.3 438.8 765.0C438.9 765.7 438.9 766.3 439.0 767.0C439.0 767.7 439.1 768.3 439.1 769.0C439.2 769.7 439.2 770.3 439.3 771.0C439.3 771.7 439.4 772.3 439.4 773.0C439.5 773.7 439.5 774.3 439.6 775.0C439.6 775.7 439.7 776.3 439.7 777.0C439.8 777.7 439.8 778.3 439.9 779.0C439.9 779.7 440.0 780.3 440.0 781.0C440.1 781.7 440.1 782.3 440.2 783.0C440.2 783.6 440.3 784.3 440.3 785.0C440.4 785.6 440.4 786.3 440.5 787.0C440.5 787.6 440.6 788.3 440.6 789.0C440.7 789.6 440.7 790.3 440.8 791.0C440.8 791.6 440.9 792.3 440.9 793.0C441.0 793.6 441.0 794.3 441.1 794.9C441.1 795.6 441.2 796.3 441.2 796.9C441.2 797.6 441.3 798.3 441.3 798.9C441.4 799.6 441.4 800.2 441.5 800.9C441.5 801.6 441.6 802.2 441.6 802.9C441.7 803.6 441.7 804.2 441.8 804.9C441.8 805.5 441.8 806.2 441.9 806.9C441.9 807.5 442.0 808.2 442.0 808.9C442.1 809.5 442.1 810.2 442.1 810.9C442.2 811.5 442.2 812.2 442.3 812.8C442.3 813.5 442.4 814.2 442.4 814.8C442.5 815.5 442.5 816.1 442.5 816.8C442.6 817.5 442.6 818.1 442.7 818.8C442.7 819.5 442.8 820.1 442.8 820.8C442.8 821.4 442.9 822.1 442.9 822.8C443.0 823.4 443.0 824.1 443.1 824.8C443.1 825.4 443.1 826.1 443.2 826.7C443.2 827.4 443.3 828.1 443.3 828.7C443.4 829.4 443.4 830.0 443.4 830.7C443.5 831.4 443.5 832.0 443.6 832.7C443.6 833.4 443.7 834.0 443.7 834.7C443.7 835.3 443.8 836.0 443.8 836.7C443.9 837.3 443.9 838.0 443.9 838.7C444.0 839.3 444.0 840.0 444.1 840.6C444.1 841.3 444.2 842.0 444.2 842.6C444.2 843.3 444.3 844.0 444.3 844.6C444.4 845.3 444.4 845.9 444.4 846.6C444.5 847.3 444.5 847.9 444.6 848.6C444.6 849.3 444.7 849.9 444.7 850.6C444.7 851.2 444.8 851.9 444.8 852.6C444.9 853.2 444.9 853.9 444.9 854.6C445.0 855.2 445.0 855.9 445.1 856.5C445.1 857.2 445.2 857.9 445.2 858.5C445.2 859.2 445.3 859.9 445.3 860.5C445.4 861.2 445.4 861.8 445.4 862.5C445.5 863.2 445.5 863.8 445.6 864.5C445.6 865.2 445.7 865.8 445.7 866.5C445.8 867.2 445.8 867.8 445.8 868.5C445.9 869.2 445.9 869.8 446.0 870.5C446.0 871.1 446.0 871.8 446.1 872.5C446.1 873.1 446.2 873.8 446.2 874.5C446.3 875.1 446.3 875.8 446.3 876.5C446.4 877.1 446.4 877.8 446.5 878.5C446.5 879.1 446.6 879.8 446.6 880.5C446.6 881.1 446.7 881.8 446.7 882.4C446.8 883.1 446.8 883.8 446.9 884.4C446.9 885.1 447.0 885.8 447.0 886.4C447.0 887.1 447.1 887.8 447.1 888.4C447.2 889.1 447.2 889.8 447.3 890.4C447.3 891.1 447.4 891.8 447.4 892.4C447.4 893.1 447.5 893.8 447.5 894.4C447.6 895.1 447.6 895.8 447.7 896.4C447.7 897.1 447.8 897.8 447.8 898.4C447.8 899.1 447.9 899.8 447.9 900.4C448.0 901.1 448.0 901.8 448.1 902.5C448.1 903.1 448.2 903.8 448.2 904.5C448.3 905.1 448.3 905.8 448.4 906.5C448.4 907.1 448.5 907.8 448.5 908.5C448.5 909.1 448.6 909.8 448.6 910.5C448.7 911.1 448.7 911.8 448.8 912.5C448.8 913.1 448.9 913.8 448.9 914.5C449.0 915.2 449.0 915.8 449.1 916.5C449.1 917.2 449.2 917.9 449.2 918.5C449.3 919.2 449.3 919.9 449.4 920.5C449.4 921.2 449.5 921.9 449.5 922.5C449.6 923.2 449.6 923.9 449.7 924.6C449.7 925.2 449.8 925.9 449.8 926.6C449.9 927.3 450.0 928.3 450.0 928.6" fill="none" stroke="#444" stroke-width="1.05"/>
<path d="M40.32 1090.71C40.5 1090.4 41.1 1089.6 41.4 1089.0C41.8 1088.5 42.2 1088.0 42.6 1087.4C42.9 1086.9 43.3 1086.3 43.7 1085.8C44.1 1085.2 44.4 1084.7 44.8 1084.1C45.2 1083.6 45.6 1083.0 46.0 1082.5C46.3 1081.9 46.7 1081.4 47.1 1080.8C47.5 1080.3 47.9 1079.7 48.2 1079.2C48.6 1078.7 49.0 1078.1 49.4 1077.6C49.8 1077.0 50.2 1076.5 50.5 1075.9C50.9 1075.4 51.3 1074.9 51.7 1074.3C52.1 1073.8 52.5 1073.2 52.9 1072.7C53.3 1072.1 53.6 1071.6 54.0 1071.1C54.4 1070.5 54.8 1070.0 55.2 1069.5C55.6 1068.9 56.0 1068.4 56.4 1067.8C56.8 1067.3 57.2 1066.8 57.6 1066.2C58.0 1065.7 58.4 1065.2 58.8 1064.6C59.2 1064.1 59.6 1063.6 60.0 1063.0C60.4 1062.5 60.8 1062.0 61.2 1061.4C61.6 1060.9 62.0 1060.4 62.4 1059.8C62.8 1059.3 63.2 1058.8 63.6 1058.2C64.0 1057.7 64.4 1057.2 64.8 1056.6C65.2 1056.1 65.6 1055.6 66.0 1055.0C66.4 1054.5 66.8 1054.0 67.2 1053.5C67.6 1052.9 68.0 1052.4 68.4 1051.9C68.8 1051.4 69.3 1050.8 69.7 1050.3C70.1 1049.8 70.5 1049.3 70.9 1048.7C71.3 1048.2 71.7 1047.7 72.2 1047.2C72.6 1046.6 73.0 1046.1 73.4 1045.6C73.8 1045.1 74.2 1044.6 74.6 1044.0C75.1 1043.5 75.5 1043.0 75.9 1042.5C76.3 1042.0 76.7 1041.4 77.2 1040.9C77.6 1040.4 78.0 1039.9 78.4 1039.4C78.8 1038.8 79.3 1038.3 79.7 1037.8C80.1 1037.3 80.5 1036.8 81.0 1036.3C81.4 1035.8 81.8 1035.2 82.2 1034.7C82.7 1034.2 83.1 1033.7 83.5 1033.2C83.9 1032.7 84.4 1032.2 84.8 1031.7C85.2 1031.1 85.7 1030.6 86.1 1030.1C86.5 1029.6 87.0 1029.1 87.4 1028.6C87.8 1028.1 88.3 1027.6 88.7 1027.1C89.1 1026.6 89.6 1026.1 90.0 1025.5C90.4 1025.0 90.9 1024.5 91.3 1024.0C91.7 1023.5 92.2 1023.0 92.6 1022.5C93.1 1022.0 93.5 1021.5 93.9 1021.0C94.4 1020.5 94.8 1020.0 95.3 1019.5C95.7 1019.0 96.1 1018.5 96.6 1018.0C97.0 1017.5 97.5 1017.0 97.9 1016.5C98.4 1016.0 98.8 1015.5 99.2 1015.0C99.7 1014.5 100.2 1014.0 100.6 1013.5C101.0 1013.0 101.5 1012.6 101.9 1012.1C102.4 1011.6 102.8 1011.1 103.3 1010.6C103.7 1010.1 104.2 1009.6 104.6 1009.1C105.1 1008.6 105.5 1008.1 106.0 1007.6C106.5 1007.1 106.9 1006.6 107.4 1006.2C107.8 1005.7 108.3 1005.2 108.7 1004.7C109.2 1004.2 109.7 1003.7 110.1 1003.2C110.6 1002.8 111.0 1002.3 111.5 1001.8C111.9 1001.3 112.4 1000.8 112.9 1000.3C113.3 999.9 113.8 999.4 114.2 998.9C114.7 998.4 115.2 997.9 115.6 997.5C116.1 997.0 116.6 996.5 117.0 996.0C117.5 995.5 118.0 995.1 118.4 994.6C118.9 994.1 119.4 993.6 119.8 993.1C120.3 992.7 120.8 992.2 121.2 991.7C121.7 991.3 122.2 990.8 122.7 990.3C123.1 989.8 123.6 989.4 124.1 988.9C124.5 988.4 125.0 988.0 125.5 987.5C126.0 987.0 126.4 986.5 126.9 986.1C127.4 985.6 127.9 985.1 128.3 984.7C128.8 984.2 129.3 983.7 129.8 983.3C130.3 982.8 130.7 982.3 131.2 981.9C131.7 981.4 132.2 981.0 132.7 980.5C133.1 980.0 133.6 979.6 134.1 979.1C134.6 978.6 135.1 978.2 135.6 977.7C136.0 977.3 136.5 976.8 137.0 976.4C137.5 975.9 138.0 975.4 138.5 975.0C139.0 974.5 139.4 974.1 139.9 973.6C140.4 973.2 140.9 972.7 141.4 972.3C141.9 971.8 142.4 971.4 142.9 970.9C143.4 970.5 143.9 970.0 144.4 969.6C144.9 969.1 145.3 968.7 145.8 968.2C146.3 967.8 146.8 967.3 147.3 966.9C147.8 966.4 148.3 966.0 148.8 965.5C149.3 965.1 149.8 964.7 150.3 964.2C150.8 963.8 151.3 963.3 151.8 962.9C152.3 962.4 152.8 962.0 153.3 961.6C153.8 961.1 154.3 960.7 154.8 960.3C155.3 959.8 155.8 959.4 156.3 959.0C156.8 958.5 157.3 958.1 157.8 957.6C158.3 957.2 158.9 956.8 159.4 956.3C159.9 955.9 160.4 955.5 160.9 955.0C161.4 954.6 161.9 954.2 162.4 953.8C162.9 953.3 163.4 952.9 163.9 952.5C164.5 952.0 165.0 951.6 165.5 951.2C166.0 950.8 166.5 950.3 167.0 949.9C167.5 949.5 168.1 949.1 168.6 948.6C169.1 948.2 169.6 947.8 170.1 947.4C170.6 947.0 171.2 946.5 171.7 946.1C172.2 945.7 172.7 945.3 173.2 944.9C173.8 944.5 174.3 944.0 174.8 943.6C175.3 943.2 175.8 942.8 176.4 942.4C176.9 942.0 177.4 941.6 177.9 941.1C178.5 940.7 179.0 940.3 179.5 939.9C180.0 939.5 180.6 939.1 181.1 938.7C181.6 938.3 182.1 937.9 182.7 937.5C183.2 937.1 183.7 936.7 184.2 936.3C184.8 935.9 185.3 935.5 185.8 935.1C186.4 934.7 186.9 934.2 187.4 933.9C188.0 933.5 188.5 933.1 189.0 932.7C189.6 932.3 190.1 931.9 190.6 931.5C191.2 931.1 191.7 930.7 192.2 930.3C192.8 929.9 193.3 929.5 193.8 929.1C194.4 928.7 194.9 928.3 195.5 927.9C196.0 927.5 196.6 927.1 197.1 926.8C197.6 926.4 198.2 926.0 198.7 925.6C199.3 925.2 199.8 924.8 200.3 924.4C200.9 924.0 201.4 923.7 202.0 923.3C202.5 922.9 203.1 922.5 203.6 922.1C204.1 921.7 204.7 921.4 205.2 921.0C205.8 920.6 206.3 920.2 206.9 919.9C207.4 919.5 208.0 919.1 208.5 918.7C209.1 918.3 209.6 918.0 210.2 917.6C210.7 917.2 211.3 916.8 211.8 916.5C212.4 916.1 212.9 915.7 213.5 915.4C214.0 915.0 214.6 914.6 215.1 914.2C215.7 913.9 216.2 913.5 216.8 913.1C217.4 912.8 217.9 912.4 218.5 912.0C219.0 911.7 219.6 911.3 220.1 910.9C220.7 910.6 221.3 910.2 221.8 909.8C222.4 909.5 222.9 909.1 223.5 908.7C224.0 908.4 224.6 908.0 225.2 907.6C225.7 907.3 226.3 906.9 226.8 906.6C227.4 906.2 228.0 905.9 228.5 905.5C229.1 905.1 229.6 904.8 230.2 904.4C230.8 904.1 231.3 903.7 231.9 903.3C232.5 903.0 233.0 902.6 233.6 902.3C234.2 901.9 234.7 901.6 235.3 901.2C235.8 900.9 236.4 900.5 237.0 900.2C237.5 899.8 238.1 899.5 238.7 899.1C239.2 898.7 239.8 898.4 240.4 898.0C240.9 897.7 241.5 897.4 242.1 897.0C242.7 896.7 243.2 896.3 243.8 896.0C244.4 895.6 244.9 895.3 245.5 894.9C246.1 894.6 246.6 894.2 247.2 893.9C247.8 893.5 248.4 893.2 248.9 892.9C249.5 892.5 250.1 892.2 250.6 891.8C251.2 891.5 251.8 891.1 252.4 890.8C252.9 890.5 253.5 890.1 254.1 889.8C254.7 889.4 255.2 889.1 255.8 888.8C256.4 888.4 257.0 888.1 257.5 887.7C258.1 887.4 258.7 887.1 259.2 886.7C259.8 886.4 260.4 886.1 261.0 885.7C261.6 885.4 262.1 885.0 262.7 884.7C263.3 884.4 263.9 884.0 264.4 883.7C265.0 883.4 265.6 883.0 266.2 882.7C266.8 882.4 267.3 882.0 267.9 881.7C268.5 881.4 269.1 881.0 269.6 880.7C270.2 880.4 270.8 880.0 271.4 879.7C272.0 879.4 272.5 879.0 273.1 878.7C273.7 878.4 274.3 878.0 274.9 877.7C275.4 877.4 276.0 877.1 276.6 876.7C277.2 876.4 277.8 876.1 278.4 875.8C278.9 875.4 279.5 875.1 280.1 874.8C280.7 874.4 281.3 874.1 281.8 873.8C282.4 873.5 283.0 873.1 283.6 872.8C284.2 872.5 284.7 872.2 285.3 871.8C285.9 871.5 286.5 871.2 287.1 870.9C287.7 870.5 288.2 870.2 288.8 869.9C289.4 869.6 290.0 869.2 290.6 868.9C291.2 868.6 291.7 868.3 292.3 867.9C292.9 867.6 293.5 867.3 294.1 867.0C294.7 866.6 295.2 866.3 295.8 866.0C296.4 865.7 297.0 865.3 297.6 865.0C298.2 864.7 298.7 864.4 299.3 864.0C299.9 863.7 300.5 863.4 301.1 863.1C301.7 862.8 302.2 862.4 302.8 862.1C303.4 861.8 304.0 861.4 304.6 861.1C305.1 860.8 305.7 860.5 306.3 860.1C306.9 859.8 307.5 859.5 308.0 859.1C308.6 858.8 309.2 858.5 309.8 858.1C310.3 857.8 310.9 857.5 311.5 857.1C312.1 856.8 312.6 856.5 313.2 856.1C313.8 855.8 314.4 855.4 314.9 855.1C315.5 854.7 316.1 854.4 316.6 854.1C317.2 853.7 317.8 853.4 318.3 853.0C318.9 852.7 319.5 852.3 320.0 852.0C320.6 851.6 321.2 851.3 321.7 850.9C322.3 850.5 322.8 850.2 323.4 849.8C324.0 849.5 324.5 849.1 325.1 848.7C325.6 848.4 326.2 848.0 326.7 847.6C327.3 847.2 327.8 846.9 328.4 846.5C328.9 846.1 329.5 845.8 330.0 845.4C330.6 845.0 331.1 844.6 331.7 844.2C332.2 843.8 332.7 843.4 333.3 843.0C333.8 842.7 334.4 842.3 334.9 841.9C335.4 841.5 336.0 841.1 336.5 840.7C337.0 840.3 337.5 839.9 338.1 839.5C338.6 839.1 339.1 838.6 339.6 838.2C340.2 837.8 340.7 837.4 341.2 837.0C341.7 836.6 342.2 836.1 342.7 835.7C343.3 835.3 343.8 834.9 344.3 834.4C344.8 834.0 345.3 833.6 345.8 833.1C346.3 832.7 346.8 832.3 347.3 831.8C347.8 831.4 348.3 830.9 348.8 830.5C349.3 830.0 349.7 829.6 350.2 829.1C350.7 828.7 351.2 828.2 351.7 827.8C352.2 827.3 352.6 826.8 353.1 826.4C353.6 825.9 354.1 825.4 354.5 825.0C355.0 824.5 355.5 824.0 355.9 823.5C356.4 823.1 356.8 822.6 357.3 822.1C357.7 821.6 358.2 821.1 358.6 820.6C359.1 820.1 359.5 819.7 360.0 819.2C360.4 818.7 360.9 818.2 361.3 817.7C361.7 817.2 362.2 816.6 362.6 816.1C363.0 815.6 363.5 815.1 363.9 814.6C364.3 814.1 364.7 813.6 365.1 813.0C365.6 812.5 366.0 812.0 366.4 811.5C366.8 811.0 367.2 810.4 367.6 809.9C368.0 809.4 368.4 808.8 368.8 808.3C369.2 807.8 369.6 807.2 370.0 806.7C370.4 806.2 370.8 805.6 371.2 805.1C371.5 804.5 371.9 804.0 372.3 803.4C372.7 802.9 373.1 802.3 373.4 801.8C373.8 801.2 374.2 800.6 374.6 800.1C374.9 799.5 375.3 799.0 375.7 798.4C376.0 797.9 376.4 797.3 376.8 796.7C377.1 796.2 377.5 795.6 377.8 795.0C378.2 794.5 378.5 793.9 378.9 793.3C379.2 792.7 379.6 792.2 379.9 791.6C380.3 791.0 380.6 790.4 380.9 789.9C381.3 789.3 381.6 788.7 381.9 788.1C382.3 787.5 382.6 787.0 382.9 786.4C383.3 785.8 383.6 785.2 383.9 784.6C384.2 784.0 384.6 783.5 384.9 782.9C385.2 782.3 385.5 781.7 385.8 781.1C386.2 780.5 386.5 779.9 386.8 779.3C387.1 778.8 387.4 778.2 387.7 777.6C388.0 777.0 388.3 776.4 388.6 775.8C388.9 775.2 389.2 774.6 389.5 774.0C389.8 773.4 390.1 772.8 390.4 772.2C390.7 771.6 391.0 771.0 391.3 770.4C391.6 769.8 391.9 769.2 392.1 768.6C392.4 768.0 392.7 767.4 393.0 766.9C393.3 766.3 393.6 765.7 393.9 765.1C394.1 764.5 394.4 763.9 394.7 763.3C395.0 762.7 395.2 762.1 395.5 761.5C395.8 760.9 396.1 760.3 396.3 759.7C396.6 759.1 396.9 758.5 397.1 757.9C397.4 757.3 397.6 756.7 397.9 756.1C398.2 755.5 398.4 754.9 398.7 754.3C399.0 753.7 399.2 753.1 399.5 752.5C399.7 752.0 400.0 751.4 400.2 750.8C400.5 750.2 400.8 749.6 401.0 749.0C401.3 748.4 401.5 747.8 401.8 747.2C402.1 746.6 402.3 746.0 402.6 745.4C402.9 744.8 403.1 744.2 403.4 743.6C403.7 743.0 404.0 742.4 404.2 741.8C404.5 741.2 404.8 740.6 405.1 740.0C405.4 739.4 405.7 738.8 406.0 738.1C406.3 737.5 406.6 736.9 406.9 736.3C407.2 735.7 407.5 735.0 407.9 734.4C408.2 733.8 408.5 733.2 408.9 732.5C409.2 731.9 409.6 731.2 410.0 730.6C410.3 730.0 410.7 729.3 411.1 728.6C411.5 728.0 411.9 727.3 412.3 726.7C412.7 726.1 413.1 725.4 413.5 724.8C414.0 724.2 414.4 723.7 414.8 723.1C415.3 722.6 415.7 722.2 416.1 721.8C416.6 721.4 417.1 721.1 417.5 720.9C417.9 720.7 418.4 720.6 418.9 720.6C419.3 720.6 419.7 720.7 420.2 720.9C420.6 721.1 421.0 721.4 421.5 721.7C421.9 722.1 422.3 722.5 422.7 723.0C423.0 723.5 423.4 724.0 423.8 724.6C424.1 725.2 424.4 725.8 424.7 726.4C425.0 727.0 425.2 727.7 425.5 728.3C425.8 729.0 426.0 729.7 426.2 730.3C426.4 731.0 426.6 731.7 426.8 732.4C427.0 733.0 427.2 733.7 427.4 734.4C427.6 735.0 427.8 735.7 427.9 736.4C428.1 737.1 428.3 737.7 428.5 738.4C428.6 739.1 428.8 739.7 428.9 740.4C429.1 741.1 429.3 741.7 429.4 742.4C429.5 743.1 429.7 743.7 429.8 744.4C430.0 745.1 430.1 745.7 430.2 746.4C430.4 747.1 430.5 747.7 430.6 748.4C430.7 749.1 430.9 749.7 431.0 750.4C431.1 751.0 431.2 751.7 431.3 752.4C431.4 753.0 431.5 753.7 431.6 754.3C431.7 755.0 431.8 755.7 431.9 756.3C432.0 757.0 432.1 757.6 432.2 758.3C432.3 758.9 432.4 759.6 432.5 760.3C432.6 760.9 432.7 761.6 432.8 762.2C432.8 762.9 432.9 763.5 433.0 764.2C433.1 764.9 433.2 765.5 433.2 766.2C433.3 766.8 433.4 767.5 433.5 768.1C433.6 768.8 433.6 769.5 433.7 770.1C433.8 770.8 433.9 771.4 433.9 772.1C434.0 772.7 434.1 773.4 434.2 774.0C434.2 774.7 434.3 775.4 434.4 776.0C434.5 776.7 434.5 777.3 434.6 778.0C434.7 778.6 434.8 779.3 434.8 780.0C434.9 780.6 435.0 781.3 435.1 781.9C435.1 782.6 435.2 783.3 435.3 783.9C435.3 784.6 435.4 785.2 435.5 785.9C435.6 786.5 435.6 787.2 435.7 787.9C435.8 788.5 435.9 789.2 435.9 789.9C436.0 790.5 436.1 791.2 436.1 791.8C436.2 792.5 436.3 793.1 436.4 793.8C436.4 794.5 436.5 795.1 436.6 795.8C436.6 796.4 436.7 797.1 436.8 797.8C436.8 798.4 436.9 799.1 437.0 799.8C437.0 800.4 437.1 801.1 437.2 801.7C437.2 802.4 437.3 803.1 437.4 803.7C437.4 804.4 437.5 805.0 437.6 805.7C437.6 806.4 437.7 807.0 437.8 807.7C437.9 808.4 437.9 809.0 438.0 809.7C438.1 810.3 438.1 811.0 438.2 811.7C438.2 812.3 438.3 813.0 438.4 813.7C438.4 814.3 438.5 815.0 438.6 815.6C438.6 816.3 438.7 817.0 438.8 817.6C438.8 818.3 438.9 819.0 439.0 819.6C439.0 820.3 439.1 820.9 439.2 821.6C439.2 822.3 439.3 822.9 439.4 823.6C439.4 824.3 439.5 824.9 439.5 825.6C439.6 826.3 439.7 826.9 439.7 827.6C439.8 828.3 439.9 828.9 439.9 829.6C440.0 830.2 440.0 830.9 440.1 831.6C440.2 832.2 440.2 832.9 440.3 833.6C440.4 834.2 440.4 834.9 440.5 835.6C440.5 836.2 440.6 836.9 440.7 837.5C440.7 838.2 440.8 838.9 440.8 839.5C440.9 840.2 441.0 840.9 441.0 841.5C441.1 842.2 441.1 842.9 441.2 843.5C441.3 844.2 441.3 844.9 441.4 845.5C441.4 846.2 441.5 846.9 441.6 847.5C441.6 848.2 441.7 848.9 441.7 849.5C441.8 850.2 441.8 850.9 441.9 851.5C442.0 852.2 442.0 852.9 442.1 853.5C442.1 854.2 442.2 854.9 442.2 855.5C442.3 856.2 442.4 856.8 442.4 857.5C442.5 858.2 442.5 858.8 442.6 859.5C442.6 860.2 442.7 860.8 442.8 861.5C442.8 862.2 442.9 862.8 442.9 863.5C443.0 864.2 443.0 864.8 443.1 865.5C443.2 866.2 443.2 866.8 443.3 867.5C443.3 868.2 443.4 868.8 443.4 869.5C443.5 870.2 443.5 870.8 443.6 871.5C443.6 872.2 443.7 872.8 443.8 873.5C443.8 874.2 443.9 874.8 443.9 875.5C444.0 876.2 444.0 876.8 444.1 877.5C444.1 878.2 444.2 878.8 444.2 879.5C444.3 880.2 444.3 880.8 444.4 881.5C444.5 882.2 444.5 882.8 444.6 883.5C444.6 884.2 444.7 884.8 444.7 885.5C444.8 886.2 444.8 886.8 444.9 887.5C444.9 888.2 445.0 888.8 445.0 889.5C445.1 890.2 445.1 890.8 445.2 891.5C445.2 892.2 445.3 892.8 445.3 893.5C445.4 894.2 445.4 894.8 445.5 895.5C445.5 896.2 445.6 896.8 445.6 897.5C445.7 898.2 445.8 898.8 445.8 899.5C445.9 900.2 445.9 900.8 445.9 901.5C446.0 902.2 446.1 902.8 446.1 903.5C446.2 904.1 446.2 904.8 446.2 905.5C446.3 906.1 446.3 906.8 446.4 907.5C446.4 908.1 446.5 908.8 446.5 909.5C446.6 910.1 446.6 910.8 446.7 911.5C446.7 912.1 446.8 912.8 446.8 913.5C446.9 914.1 446.9 914.8 447.0 915.5C447.0 916.1 447.1 916.8 447.1 917.5C447.2 918.1 447.2 918.8 447.3 919.5C447.3 920.1 447.4 920.8 447.4 921.5C447.5 922.1 447.5 922.8 447.6 923.5C447.6 924.1 447.6 924.8 447.7 925.5C447.7 926.1 447.8 926.8 447.8 927.5C447.9 928.1 447.9 928.8 448.0 929.4C448.0 930.1 448.1 930.8 448.1 931.4C448.2 932.1 448.2 932.8 448.2 933.4C448.3 934.1 448.3 934.8 448.4 935.4C448.4 936.1 448.5 936.7 448.5 937.4C448.6 938.1 448.6 938.7 448.7 939.4C448.7 940.1 448.8 940.7 448.8 941.4C448.8 942.1 448.9 942.7 448.9 943.4C449.0 944.1 449.0 944.7 449.1 945.4C449.1 946.0 449.2 946.7 449.2 947.4C449.2 948.0 449.3 948.7 449.3 949.4C449.4 950.0 449.4 950.7 449.5 951.4C449.5 952.0 449.6 952.7 449.6 953.3C449.6 954.0 449.7 954.7 449.7 955.3C449.8 956.0 449.8 956.6 449.9 957.3C449.9 958.0 450.0 959.0 450.0 959.3" fill="none" stroke="#444" stroke-width="1.05" stroke-dasharray="12.5 5"/>
<path d="M40.31 1008.20C40.4 1008.5 40.6 1009.2 40.7 1009.8C40.8 1010.3 41.0 1010.9 41.1 1011.6C41.3 1012.2 41.5 1012.9 41.6 1013.6C41.8 1014.3 42.0 1015.0 42.2 1015.7C42.5 1016.4 42.7 1017.2 42.9 1017.9C43.2 1018.6 43.4 1019.3 43.7 1020.0C44.0 1020.7 44.3 1021.4 44.6 1022.1C44.9 1022.7 45.2 1023.4 45.6 1023.9C46.0 1024.5 46.4 1025.0 46.8 1025.5C47.2 1025.9 47.6 1026.3 48.1 1026.5C48.6 1026.8 49.0 1027.0 49.5 1027.1C50.1 1027.3 50.6 1027.3 51.1 1027.3C51.7 1027.3 52.2 1027.2 52.8 1027.1C53.4 1026.9 53.9 1026.7 54.5 1026.5C55.1 1026.3 55.7 1026.0 56.3 1025.7C56.9 1025.4 57.5 1025.0 58.1 1024.6C58.7 1024.3 59.3 1023.8 59.9 1023.4C60.5 1023.0 61.1 1022.5 61.7 1022.1C62.3 1021.7 62.8 1021.2 63.4 1020.7C64.0 1020.3 64.5 1019.8 65.1 1019.3C65.6 1018.9 66.1 1018.4 66.7 1017.9C67.2 1017.5 67.7 1017.0 68.2 1016.5C68.7 1016.0 69.2 1015.6 69.7 1015.1C70.2 1014.6 70.6 1014.1 71.1 1013.7C71.6 1013.2 72.0 1012.7 72.5 1012.2C73.0 1011.7 73.4 1011.3 73.8 1010.8C74.3 1010.3 74.7 1009.8 75.2 1009.3C75.6 1008.8 76.0 1008.4 76.5 1007.9C76.9 1007.4 77.3 1006.9 77.7 1006.4C78.2 1005.9 78.6 1005.4 79.0 1004.9C79.4 1004.4 79.8 1003.9 80.2 1003.4C80.6 1002.9 81.0 1002.4 81.4 1001.9C81.8 1001.4 82.2 1000.9 82.7 1000.4C83.1 999.9 83.5 999.4 83.9 998.9C84.3 998.4 84.7 997.9 85.1 997.4C85.5 996.9 85.9 996.4 86.3 995.9C86.7 995.4 87.2 994.9 87.6 994.4C88.0 993.9 88.4 993.4 88.8 992.9C89.2 992.4 89.7 991.8 90.1 991.3C90.5 990.8 90.9 990.3 91.3 989.8C91.8 989.3 92.2 988.8 92.6 988.3C93.0 987.8 93.5 987.3 93.9 986.7C94.3 986.2 94.8 985.7 95.2 985.2C95.6 984.7 96.0 984.2 96.5 983.7C96.9 983.1 97.3 982.6 97.8 982.1C98.2 981.6 98.7 981.1 99.1 980.6C99.5 980.1 100.0 979.6 100.4 979.0C100.8 978.5 101.3 978.0 101.7 977.5C102.1 977.0 102.6 976.5 103.0 976.0C103.5 975.5 103.9 974.9 104.4 974.4C104.8 973.9 105.2 973.4 105.7 972.9C106.1 972.4 106.6 971.9 107.0 971.4C107.5 970.8 107.9 970.3 108.3 969.8C108.8 969.3 109.2 968.8 109.7 968.3C110.1 967.8 110.6 967.3 111.0 966.8C111.5 966.3 111.9 965.7 112.4 965.2C112.8 964.7 113.3 964.2 113.7 963.7C114.2 963.2 114.6 962.7 115.0 962.2C115.5 961.7 116.0 961.2 116.4 960.7C116.8 960.2 117.3 959.7 117.7 959.2C118.2 958.7 118.6 958.2 119.1 957.7C119.5 957.2 120.0 956.7 120.4 956.2C120.9 955.7 121.3 955.2 121.8 954.7C122.2 954.2 122.7 953.7 123.1 953.2C123.6 952.7 124.0 952.2 124.5 951.7C124.9 951.2 125.4 950.7 125.8 950.2C126.3 949.8 126.7 949.3 127.2 948.8C127.6 948.3 128.1 947.8 128.5 947.3C129.0 946.8 129.4 946.3 129.9 945.9C130.4 945.4 130.8 944.9 131.3 944.4C131.7 943.9 132.2 943.4 132.6 943.0C133.1 942.5 133.5 942.0 134.0 941.5C134.5 941.0 134.9 940.5 135.4 940.1C135.8 939.6 136.3 939.1 136.7 938.6C137.2 938.2 137.7 937.7 138.1 937.2C138.6 936.7 139.0 936.3 139.5 935.8C140.0 935.3 140.4 934.9 140.9 934.4C141.4 933.9 141.8 933.4 142.3 933.0C142.8 932.5 143.2 932.0 143.7 931.6C144.2 931.1 144.6 930.7 145.1 930.2C145.6 929.7 146.0 929.3 146.5 928.8C147.0 928.3 147.5 927.9 147.9 927.4C148.4 927.0 148.9 926.5 149.4 926.0C149.8 925.6 150.3 925.1 150.8 924.7C151.3 924.2 151.8 923.8 152.2 923.3C152.7 922.9 153.2 922.4 153.7 922.0C154.2 921.5 154.6 921.1 155.1 920.6C155.6 920.2 156.1 919.7 156.6 919.3C157.1 918.8 157.6 918.4 158.1 917.9C158.6 917.5 159.0 917.0 159.5 916.6C160.0 916.2 160.5 915.7 161.0 915.3C161.5 914.8 162.0 914.4 162.5 914.0C163.0 913.5 163.5 913.1 164.0 912.7C164.5 912.2 165.0 911.8 165.5 911.4C166.0 910.9 166.5 910.5 167.1 910.1C167.6 909.6 168.1 909.2 168.6 908.8C169.1 908.4 169.6 907.9 170.1 907.5C170.6 907.1 171.1 906.7 171.7 906.2C172.2 905.8 172.7 905.4 173.2 905.0C173.7 904.6 174.3 904.1 174.8 903.7C175.3 903.3 175.8 902.9 176.4 902.5C176.9 902.1 177.4 901.7 177.9 901.2C178.5 900.8 179.0 900.4 179.5 900.0C180.1 899.6 180.6 899.2 181.1 898.8C181.7 898.4 182.2 898.0 182.7 897.6C183.3 897.2 183.8 896.8 184.3 896.4C184.9 896.0 185.4 895.6 185.9 895.2C186.5 894.8 187.0 894.4 187.6 894.0C188.1 893.6 188.7 893.2 189.2 892.8C189.7 892.4 190.3 892.0 190.8 891.6C191.4 891.2 191.9 890.8 192.5 890.4C193.0 890.1 193.6 889.7 194.1 889.3C194.7 888.9 195.2 888.5 195.8 888.1C196.3 887.8 196.9 887.4 197.4 887.0C198.0 886.6 198.5 886.2 199.1 885.9C199.7 885.5 200.2 885.1 200.8 884.7C201.3 884.4 201.9 884.0 202.4 883.6C203.0 883.2 203.6 882.9 204.1 882.5C204.7 882.2 205.3 881.8 205.8 881.4C206.4 881.1 207.0 880.7 207.5 880.3C208.1 880.0 208.6 879.6 209.2 879.2C209.8 878.9 210.3 878.5 210.9 878.2C211.5 877.8 212.1 877.5 212.6 877.1C213.2 876.8 213.8 876.4 214.3 876.1C214.9 875.7 215.5 875.4 216.0 875.0C216.6 874.7 217.2 874.3 217.8 874.0C218.3 873.7 218.9 873.3 219.5 873.0C220.1 872.6 220.6 872.3 221.2 872.0C221.8 871.6 222.4 871.3 222.9 871.0C223.5 870.6 224.1 870.3 224.7 870.0C225.3 869.6 225.8 869.3 226.4 869.0C227.0 868.6 227.6 868.3 228.2 868.0C228.7 867.7 229.3 867.3 229.9 867.0C230.5 866.7 231.1 866.4 231.7 866.1C232.2 865.7 232.8 865.4 233.4 865.1C234.0 864.8 234.6 864.5 235.2 864.2C235.8 863.8 236.3 863.5 236.9 863.2C237.5 862.9 238.1 862.6 238.7 862.3C239.3 862.0 239.9 861.7 240.5 861.4C241.1 861.1 241.6 860.8 242.2 860.5C242.8 860.2 243.4 859.9 244.0 859.6C244.6 859.3 245.2 859.0 245.8 858.7C246.4 858.4 247.0 858.1 247.6 857.8C248.2 857.5 248.8 857.2 249.4 856.9C250.0 856.6 250.6 856.3 251.2 856.1C251.8 855.8 252.4 855.5 253.0 855.2C253.6 854.9 254.2 854.6 254.8 854.4C255.4 854.1 256.0 853.8 256.6 853.5C257.2 853.2 257.8 852.9 258.4 852.7C259.0 852.4 259.6 852.1 260.2 851.9C260.8 851.6 261.4 851.3 262.0 851.0C262.6 850.8 263.2 850.5 263.9 850.2C264.5 850.0 265.1 849.7 265.7 849.4C266.3 849.2 266.9 848.9 267.5 848.6C268.1 848.4 268.7 848.1 269.3 847.8C269.9 847.6 270.6 847.3 271.2 847.1C271.8 846.8 272.4 846.5 273.0 846.3C273.6 846.0 274.2 845.8 274.9 845.5C275.5 845.3 276.1 845.0 276.7 844.8C277.3 844.5 277.9 844.3 278.6 844.0C279.2 843.8 279.8 843.5 280.4 843.3C281.0 843.0 281.6 842.8 282.3 842.5C282.9 842.3 283.5 842.1 284.1 841.8C284.8 841.6 285.4 841.3 286.0 841.1C286.6 840.9 287.2 840.6 287.9 840.4C288.5 840.2 289.1 839.9 289.8 839.7C290.4 839.5 291.0 839.2 291.6 839.0C292.3 838.8 292.9 838.5 293.5 838.3C294.1 838.1 294.8 837.8 295.4 837.6C296.0 837.4 296.7 837.2 297.3 836.9C297.9 836.7 298.5 836.5 299.2 836.3C299.8 836.1 300.4 835.8 301.1 835.6C301.7 835.4 302.3 835.2 303.0 835.0C303.6 834.7 304.2 834.5 304.9 834.3C305.5 834.1 306.2 833.9 306.8 833.7C307.4 833.5 308.1 833.2 308.7 833.0C309.3 832.8 310.0 832.6 310.6 832.4C311.3 832.2 311.9 832.0 312.5 831.8C313.2 831.6 313.8 831.4 314.4 831.2C315.1 831.0 315.7 830.7 316.4 830.5C317.0 830.3 317.6 830.1 318.3 829.9C318.9 829.7 319.6 829.5 320.2 829.3C320.8 829.1 321.5 828.9 322.1 828.6C322.7 828.4 323.4 828.2 324.0 828.0C324.6 827.8 325.3 827.6 325.9 827.3C326.5 827.1 327.2 826.9 327.8 826.7C328.4 826.5 329.1 826.2 329.7 826.0C330.3 825.8 330.9 825.5 331.6 825.3C332.2 825.1 332.8 824.8 333.4 824.6C334.1 824.4 334.7 824.1 335.3 823.9C335.9 823.6 336.5 823.4 337.1 823.1C337.8 822.9 338.4 822.6 339.0 822.4C339.6 822.1 340.2 821.9 340.8 821.6C341.4 821.3 342.0 821.0 342.6 820.8C343.2 820.5 343.8 820.2 344.4 819.9C345.0 819.7 345.6 819.4 346.2 819.1C346.8 818.8 347.4 818.5 348.0 818.2C348.6 817.9 349.1 817.6 349.7 817.2C350.3 816.9 350.9 816.6 351.4 816.3C352.0 816.0 352.6 815.6 353.2 815.3C353.7 815.0 354.3 814.6 354.9 814.3C355.4 813.9 356.0 813.6 356.5 813.2C357.1 812.8 357.6 812.5 358.2 812.1C358.7 811.7 359.3 811.3 359.8 810.9C360.3 810.5 360.9 810.1 361.4 809.7C361.9 809.3 362.5 808.9 363.0 808.5C363.5 808.1 364.0 807.7 364.5 807.2C365.0 806.8 365.5 806.4 366.1 805.9C366.6 805.5 367.1 805.0 367.6 804.6C368.0 804.1 368.5 803.6 369.0 803.2C369.5 802.7 370.0 802.2 370.5 801.7C370.9 801.3 371.4 800.8 371.9 800.3C372.3 799.8 372.8 799.3 373.2 798.8C373.7 798.3 374.1 797.8 374.6 797.3C375.0 796.8 375.5 796.2 375.9 795.7C376.3 795.2 376.8 794.7 377.2 794.2C377.6 793.6 378.0 793.1 378.4 792.6C378.8 792.0 379.2 791.5 379.6 790.9C380.0 790.4 380.4 789.8 380.8 789.3C381.2 788.7 381.5 788.2 381.9 787.6C382.3 787.1 382.6 786.5 383.0 786.0C383.4 785.4 383.7 784.8 384.1 784.2C384.4 783.7 384.7 783.1 385.1 782.5C385.4 782.0 385.7 781.4 386.0 780.8C386.3 780.2 386.6 779.7 386.9 779.1C387.3 778.5 387.5 777.9 387.8 777.3C388.1 776.7 388.4 776.1 388.7 775.5C389.0 775.0 389.3 774.4 389.5 773.8C389.8 773.2 390.1 772.6 390.3 772.0C390.6 771.4 390.9 770.8 391.1 770.2C391.4 769.6 391.7 769.0 391.9 768.4C392.2 767.8 392.4 767.2 392.7 766.6C392.9 766.0 393.2 765.4 393.4 764.8C393.7 764.2 394.0 763.6 394.2 762.9C394.5 762.3 394.7 761.7 395.0 761.1C395.2 760.5 395.5 759.9 395.8 759.3C396.0 758.6 396.3 758.0 396.6 757.4C396.8 756.8 397.1 756.2 397.4 755.6C397.7 754.9 397.9 754.3 398.2 753.7C398.5 753.1 398.8 752.5 399.1 751.8C399.4 751.2 399.7 750.6 400.0 750.0C400.3 749.4 400.6 748.7 400.9 748.1C401.2 747.5 401.5 746.9 401.8 746.2C402.1 745.6 402.4 745.0 402.7 744.4C403.0 743.7 403.3 743.1 403.6 742.5C403.8 741.9 404.1 741.2 404.4 740.6C404.6 740.0 404.9 739.4 405.2 738.7C405.4 738.1 405.6 737.5 405.9 736.9C406.1 736.2 406.3 735.6 406.5 735.0C406.8 734.4 406.9 733.7 407.1 733.1C407.3 732.5 407.5 731.9 407.7 731.2C407.9 730.6 408.0 730.0 408.2 729.4C408.4 728.7 408.5 728.1 408.7 727.5C408.9 726.9 409.0 726.2 409.2 725.6C409.4 725.0 409.5 724.4 409.7 723.8C409.9 723.1 410.0 722.5 410.2 721.9C410.4 721.3 410.6 720.7 410.8 720.0C411.0 719.4 411.2 718.8 411.4 718.2C411.6 717.6 411.8 717.0 412.1 716.4C412.3 715.7 412.6 715.1 412.8 714.5C413.1 713.9 413.4 713.3 413.7 712.7C414.0 712.1 414.3 711.5 414.6 710.9C415.0 710.2 415.3 709.6 415.7 709.0C416.1 708.4 416.5 707.8 416.9 707.2C417.3 706.6 417.8 706.0 418.3 705.5C418.7 704.9 419.2 704.4 419.7 703.9C420.2 703.4 420.6 703.0 421.1 702.6C421.6 702.3 422.1 702.0 422.5 701.8C423.0 701.6 423.4 701.5 423.8 701.6C424.2 701.6 424.6 701.8 424.9 702.0C425.2 702.3 425.5 702.8 425.8 703.3C426.1 703.8 426.3 704.4 426.5 705.0C426.8 705.7 427.0 706.4 427.1 707.1C427.3 707.9 427.5 708.7 427.7 709.4C427.8 710.2 428.0 711.0 428.1 711.7C428.3 712.5 428.5 713.2 428.6 714.0C428.8 714.7 428.9 715.4 429.1 716.2C429.2 716.9 429.4 717.6 429.5 718.3C429.6 719.0 429.8 719.7 429.9 720.4C430.0 721.1 430.2 721.8 430.3 722.5C430.4 723.2 430.6 723.9 430.7 724.5C430.8 725.2 430.9 725.9 431.0 726.5C431.1 727.2 431.2 727.9 431.4 728.5C431.5 729.2 431.6 729.8 431.7 730.5C431.8 731.1 431.9 731.8 432.0 732.4C432.1 733.1 432.2 733.7 432.3 734.4C432.4 735.0 432.5 735.6 432.6 736.3C432.7 736.9 432.8 737.6 432.8 738.2C432.9 738.8 433.0 739.5 433.1 740.1C433.2 740.7 433.3 741.4 433.3 742.0C433.4 742.6 433.5 743.3 433.6 743.9C433.6 744.6 433.7 745.2 433.8 745.8C433.9 746.5 433.9 747.1 434.0 747.8C434.1 748.4 434.1 749.1 434.2 749.7C434.3 750.4 434.3 751.0 434.4 751.7C434.5 752.3 434.5 753.0 434.6 753.6C434.7 754.3 434.7 755.0 434.8 755.6C434.8 756.3 434.9 756.9 435.0 757.6C435.0 758.3 435.1 758.9 435.1 759.6C435.2 760.3 435.2 760.9 435.3 761.6C435.4 762.2 435.4 762.9 435.5 763.6C435.5 764.2 435.6 764.9 435.6 765.6C435.7 766.2 435.7 766.9 435.8 767.6C435.8 768.3 435.9 768.9 435.9 769.6C436.0 770.3 436.0 770.9 436.1 771.6C436.2 772.3 436.2 772.9 436.2 773.6C436.3 774.3 436.4 775.0 436.4 775.6C436.5 776.3 436.5 777.0 436.6 777.6C436.6 778.3 436.7 779.0 436.7 779.6C436.8 780.3 436.8 781.0 436.9 781.6C436.9 782.3 437.0 783.0 437.0 783.6C437.1 784.3 437.1 785.0 437.2 785.6C437.2 786.3 437.3 787.0 437.3 787.6C437.4 788.3 437.4 789.0 437.5 789.7C437.5 790.3 437.6 791.0 437.6 791.7C437.7 792.3 437.7 793.0 437.8 793.7C437.9 794.3 437.9 795.0 438.0 795.7C438.0 796.3 438.1 797.0 438.1 797.7C438.2 798.3 438.2 799.0 438.3 799.7C438.3 800.3 438.4 801.0 438.4 801.7C438.5 802.3 438.5 803.0 438.6 803.7C438.6 804.3 438.7 805.0 438.7 805.7C438.8 806.3 438.8 807.0 438.9 807.7C438.9 808.3 439.0 809.0 439.0 809.7C439.1 810.3 439.1 811.0 439.2 811.7C439.2 812.3 439.3 813.0 439.4 813.7C439.4 814.3 439.4 815.0 439.5 815.7C439.6 816.3 439.6 817.0 439.6 817.7C439.7 818.3 439.8 819.0 439.8 819.6C439.9 820.3 439.9 821.0 440.0 821.6C440.0 822.3 440.1 823.0 440.1 823.6C440.2 824.3 440.2 825.0 440.3 825.6C440.3 826.3 440.4 827.0 440.4 827.6C440.5 828.3 440.5 829.0 440.6 829.6C440.6 830.3 440.7 831.0 440.7 831.6C440.8 832.3 440.8 833.0 440.9 833.6C440.9 834.3 441.0 835.0 441.0 835.6C441.1 836.3 441.1 836.9 441.2 837.6C441.2 838.3 441.3 838.9 441.3 839.6C441.4 840.3 441.4 840.9 441.5 841.6C441.5 842.3 441.6 842.9 441.6 843.6C441.7 844.3 441.7 844.9 441.8 845.6C441.8 846.3 441.9 846.9 441.9 847.6C442.0 848.2 442.0 848.9 442.1 849.6C442.1 850.2 442.2 850.9 442.2 851.6C442.3 852.2 442.3 852.9 442.4 853.6C442.4 854.2 442.5 854.9 442.5 855.5C442.6 856.2 442.6 856.9 442.7 857.5C442.7 858.2 442.8 858.9 442.8 859.5C442.9 860.2 442.9 860.9 443.0 861.5C443.0 862.2 443.1 862.9 443.1 863.5C443.2 864.2 443.2 864.9 443.3 865.5C443.3 866.2 443.4 866.8 443.4 867.5C443.5 868.2 443.5 868.8 443.6 869.5C443.6 870.2 443.7 870.8 443.7 871.5C443.8 872.2 443.8 872.8 443.9 873.5C443.9 874.2 444.0 874.8 444.0 875.5C444.1 876.1 444.1 876.8 444.2 877.5C444.2 878.1 444.3 878.8 444.3 879.5C444.4 880.1 444.4 880.8 444.5 881.5C444.5 882.1 444.6 882.8 444.6 883.5C444.7 884.1 444.7 884.8 444.8 885.4C444.8 886.1 444.9 886.8 444.9 887.4C445.0 888.1 445.0 888.8 445.1 889.4C445.1 890.1 445.1 890.8 445.2 891.4C445.2 892.1 445.3 892.7 445.4 893.4C445.4 894.1 445.4 894.7 445.5 895.4C445.5 896.1 445.6 896.7 445.6 897.4C445.7 898.1 445.7 898.7 445.8 899.4C445.8 900.1 445.9 900.7 445.9 901.4C446.0 902.0 446.0 902.7 446.1 903.4C446.1 904.0 446.2 904.7 446.2 905.4C446.3 906.0 446.3 906.7 446.4 907.4C446.4 908.0 446.5 908.7 446.5 909.4C446.5 910.0 446.6 910.7 446.6 911.4C446.7 912.0 446.7 912.7 446.8 913.3C446.8 914.0 446.9 914.7 446.9 915.3C447.0 916.0 447.0 916.7 447.1 917.3C447.1 918.0 447.2 918.7 447.2 919.3C447.3 920.0 447.3 920.7 447.4 921.3C447.4 922.0 447.5 922.7 447.5 923.3C447.5 924.0 447.6 924.6 447.6 925.3C447.7 926.0 447.7 926.6 447.8 927.3C447.8 928.0 447.9 928.6 447.9 929.3C448.0 930.0 448.0 930.6 448.1 931.3C448.1 932.0 448.2 932.6 448.2 933.3C448.3 934.0 448.3 934.6 448.4 935.3C448.4 936.0 448.4 936.6 448.5 937.3C448.5 938.0 448.6 938.6 448.6 939.3C448.7 940.0 448.7 940.6 448.8 941.3C448.8 942.0 448.9 942.6 448.9 943.3C448.9 944.0 449.0 944.6 449.0 945.3C449.1 946.0 449.1 946.6 449.2 947.3C449.2 948.0 449.3 948.6 449.3 949.3C449.4 950.0 449.4 950.6 449.4 951.3C449.5 952.0 449.5 952.6 449.6 953.3C449.6 954.0 449.7 954.6 449.7 955.3C449.8 956.0 449.8 956.6 449.9 957.3C449.9 958.0 450.0 959.0 450.0 959.3" fill="none" stroke="#444" stroke-width="1.05" stroke-dasharray="2 3.3"/>
<rect x="578.50" y="638.90" width="435.00" height="483.00" fill="none" stroke="#555" stroke-width="1.1"/>
<path d="M687.25 1121.90v-5.00M687.25 638.90v5.00M796.00 1121.90v-5.00M796.00 638.90v5.00M904.75 1121.90v-5.00M904.75 638.90v5.00M578.50 1061.53h5.00M1013.50 1061.53h-5.00M578.50 1001.15h5.00M1013.50 1001.15h-5.00M578.50 940.78h5.00M1013.50 940.78h-5.00M578.50 880.40h5.00M1013.50 880.40h-5.00M578.50 820.03h5.00M1013.50 820.03h-5.00M578.50 759.65h5.00M1013.50 759.65h-5.00M578.50 699.27h5.00M1013.50 699.27h-5.00" stroke="#555" stroke-width="1.1"/>
<text transform="matrix(1 0 0 1.07 568.78 1136.90)" font-size="14.4">-1</text>
<text transform="matrix(1 0 0 1.07 672.58 1136.90)" font-size="14.4">-0.5</text>
<text transform="matrix(1 0 0 1.07 791.40 1136.90)" font-size="14.4">0</text>
<text transform="matrix(1 0 0 1.07 894.16 1136.90)" font-size="14.4">0.5</text>
<text transform="matrix(1 0 0 1.07 1008.30 1136.90)" font-size="14.4">1</text>
<text transform="matrix(1 0 0 1.07 547.08 1126.65)" font-size="14.4">0.05</text>
<text transform="matrix(1 0 0 1.07 547.11 1066.28)" font-size="14.4">0.06</text>
<text transform="matrix(1 0 0 1.07 547.20 1005.90)" font-size="14.4">0.07</text>
<text transform="matrix(1 0 0 1.07 547.10 945.53)" font-size="14.4">0.08</text>
<text transform="matrix(1 0 0 1.07 547.16 885.15)" font-size="14.4">0.09</text>
<text transform="matrix(1 0 0 1.07 555.19 824.78)" font-size="14.4">0.1</text>
<text transform="matrix(1 0 0 1.07 547.18 764.40)" font-size="14.4">0.11</text>
<text transform="matrix(1 0 0 1.07 547.20 704.02)" font-size="14.4">0.12</text>
<text transform="matrix(1 0 0 1.07 547.11 643.65)" font-size="14.4">0.13</text>
<text x="753.18" y="626.00" font-size="16.3">(b.2) RMSE</text>
<path d="M588.49 1079.39C588.6 1079.1 588.9 1078.1 589.1 1077.5C589.3 1076.9 589.5 1076.2 589.7 1075.6C589.9 1075.0 590.1 1074.3 590.3 1073.7C590.5 1073.1 590.7 1072.4 590.9 1071.8C591.2 1071.2 591.4 1070.6 591.6 1069.9C591.8 1069.3 592.0 1068.7 592.2 1068.0C592.5 1067.4 592.7 1066.8 592.9 1066.2C593.1 1065.5 593.4 1064.9 593.6 1064.3C593.8 1063.7 594.1 1063.1 594.3 1062.4C594.5 1061.8 594.8 1061.2 595.0 1060.6C595.2 1059.9 595.5 1059.3 595.7 1058.7C596.0 1058.1 596.2 1057.5 596.5 1056.8C596.7 1056.2 597.0 1055.6 597.2 1055.0C597.5 1054.4 597.7 1053.8 598.0 1053.1C598.2 1052.5 598.5 1051.9 598.8 1051.3C599.0 1050.7 599.3 1050.1 599.5 1049.5C599.8 1048.8 600.1 1048.2 600.3 1047.6C600.6 1047.0 600.9 1046.4 601.1 1045.8C601.4 1045.2 601.7 1044.6 602.0 1044.0C602.2 1043.4 602.5 1042.8 602.8 1042.2C603.1 1041.5 603.3 1040.9 603.6 1040.3C603.9 1039.7 604.2 1039.1 604.5 1038.5C604.8 1037.9 605.1 1037.3 605.4 1036.7C605.6 1036.1 605.9 1035.5 606.2 1034.9C606.5 1034.3 606.8 1033.7 607.1 1033.1C607.4 1032.5 607.7 1031.9 608.0 1031.3C608.3 1030.7 608.6 1030.1 608.9 1029.5C609.2 1029.0 609.5 1028.4 609.9 1027.8C610.2 1027.2 610.5 1026.6 610.8 1026.0C611.1 1025.4 611.4 1024.8 611.7 1024.2C612.0 1023.6 612.3 1023.0 612.7 1022.5C613.0 1021.9 613.3 1021.3 613.6 1020.7C614.0 1020.1 614.3 1019.5 614.6 1019.0C614.9 1018.4 615.3 1017.8 615.6 1017.2C615.9 1016.6 616.2 1016.0 616.6 1015.5C616.9 1014.9 617.2 1014.3 617.6 1013.7C617.9 1013.1 618.3 1012.6 618.6 1012.0C618.9 1011.4 619.3 1010.8 619.6 1010.3C620.0 1009.7 620.3 1009.1 620.6 1008.5C621.0 1008.0 621.3 1007.4 621.7 1006.8C622.0 1006.2 622.4 1005.7 622.7 1005.1C623.1 1004.5 623.4 1004.0 623.8 1003.4C624.1 1002.8 624.5 1002.3 624.9 1001.7C625.2 1001.1 625.6 1000.6 625.9 1000.0C626.3 999.5 626.7 998.9 627.0 998.3C627.4 997.8 627.7 997.2 628.1 996.7C628.5 996.1 628.8 995.5 629.2 995.0C629.6 994.4 629.9 993.9 630.3 993.3C630.7 992.8 631.1 992.2 631.4 991.7C631.8 991.1 632.2 990.6 632.6 990.0C632.9 989.4 633.3 988.9 633.7 988.4C634.1 987.8 634.5 987.3 634.9 986.7C635.2 986.2 635.6 985.6 636.0 985.1C636.4 984.5 636.8 984.0 637.2 983.5C637.5 982.9 637.9 982.4 638.3 981.8C638.7 981.3 639.1 980.7 639.5 980.2C639.9 979.7 640.3 979.1 640.7 978.6C641.1 978.1 641.5 977.5 641.9 977.0C642.3 976.5 642.7 975.9 643.1 975.4C643.5 974.9 643.9 974.3 644.3 973.8C644.7 973.3 645.1 972.8 645.5 972.2C645.9 971.7 646.4 971.2 646.8 970.7C647.2 970.1 647.6 969.6 648.0 969.1C648.4 968.6 648.8 968.0 649.2 967.5C649.7 967.0 650.1 966.5 650.5 966.0C650.9 965.5 651.3 964.9 651.8 964.4C652.2 963.9 652.6 963.4 653.0 962.9C653.5 962.4 653.9 961.9 654.3 961.4C654.7 960.8 655.2 960.3 655.6 959.8C656.0 959.3 656.5 958.8 656.9 958.3C657.3 957.8 657.8 957.3 658.2 956.8C658.6 956.3 659.1 955.8 659.5 955.3C659.9 954.8 660.4 954.3 660.8 953.8C661.3 953.3 661.7 952.8 662.2 952.3C662.6 951.8 663.1 951.3 663.5 950.8C663.9 950.3 664.4 949.9 664.9 949.4C665.3 948.9 665.8 948.4 666.2 947.9C666.7 947.4 667.1 946.9 667.6 946.4C668.0 946.0 668.5 945.5 668.9 945.0C669.4 944.5 669.9 944.0 670.3 943.5C670.8 943.1 671.2 942.6 671.7 942.1C672.2 941.6 672.6 941.2 673.1 940.7C673.6 940.2 674.0 939.7 674.5 939.3C675.0 938.8 675.4 938.3 675.9 937.9C676.4 937.4 676.9 936.9 677.4 936.5C677.8 936.0 678.3 935.5 678.8 935.1C679.2 934.6 679.7 934.1 680.2 933.7C680.7 933.2 681.2 932.7 681.7 932.3C682.1 931.8 682.6 931.4 683.1 930.9C683.6 930.5 684.1 930.0 684.6 929.6C685.1 929.1 685.5 928.7 686.0 928.2C686.5 927.8 687.0 927.3 687.5 926.9C688.0 926.4 688.5 926.0 689.0 925.5C689.5 925.1 690.0 924.6 690.5 924.2C691.0 923.7 691.5 923.3 692.0 922.9C692.5 922.4 693.0 922.0 693.5 921.5C694.0 921.1 694.5 920.7 695.0 920.2C695.5 919.8 696.0 919.4 696.5 918.9C697.0 918.5 697.5 918.1 698.0 917.6C698.5 917.2 699.1 916.8 699.6 916.4C700.1 915.9 700.6 915.5 701.1 915.1C701.6 914.6 702.1 914.2 702.7 913.8C703.2 913.4 703.7 912.9 704.2 912.5C704.7 912.1 705.2 911.7 705.8 911.3C706.3 910.8 706.8 910.4 707.3 910.0C707.9 909.6 708.4 909.2 708.9 908.8C709.4 908.3 709.9 907.9 710.5 907.5C711.0 907.1 711.5 906.7 712.0 906.3C712.6 905.9 713.1 905.5 713.6 905.1C714.2 904.7 714.7 904.3 715.2 903.9C715.8 903.4 716.3 903.0 716.8 902.6C717.4 902.2 717.9 901.8 718.4 901.4C719.0 901.0 719.5 900.6 720.0 900.2C720.6 899.8 721.1 899.4 721.6 899.0C722.2 898.6 722.7 898.2 723.3 897.9C723.8 897.5 724.3 897.1 724.9 896.7C725.4 896.3 726.0 895.9 726.5 895.5C727.1 895.1 727.6 894.7 728.1 894.3C728.7 893.9 729.2 893.5 729.8 893.2C730.3 892.8 730.9 892.4 731.4 892.0C732.0 891.6 732.5 891.2 733.1 890.9C733.6 890.5 734.2 890.1 734.7 889.7C735.3 889.3 735.8 888.9 736.4 888.6C736.9 888.2 737.5 887.8 738.0 887.4C738.6 887.1 739.1 886.7 739.7 886.3C740.2 885.9 740.8 885.6 741.3 885.2C741.9 884.8 742.4 884.4 743.0 884.1C743.6 883.7 744.1 883.3 744.7 883.0C745.2 882.6 745.8 882.2 746.4 881.9C746.9 881.5 747.5 881.1 748.0 880.8C748.6 880.4 749.2 880.0 749.7 879.7C750.3 879.3 750.8 878.9 751.4 878.6C752.0 878.2 752.5 877.9 753.1 877.5C753.6 877.1 754.2 876.8 754.8 876.4C755.3 876.1 755.9 875.7 756.5 875.3C757.0 875.0 757.6 874.6 758.2 874.3C758.7 873.9 759.3 873.6 759.9 873.2C760.4 872.9 761.0 872.5 761.5 872.1C762.1 871.8 762.7 871.5 763.3 871.1C763.8 870.8 764.4 870.4 765.0 870.0C765.5 869.7 766.1 869.3 766.7 869.0C767.2 868.7 767.8 868.3 768.4 868.0C769.0 867.6 769.5 867.3 770.1 866.9C770.7 866.6 771.2 866.2 771.8 865.9C772.4 865.5 772.9 865.2 773.5 864.9C774.1 864.5 774.7 864.2 775.2 863.8C775.8 863.5 776.4 863.1 777.0 862.8C777.5 862.5 778.1 862.1 778.7 861.8C779.2 861.4 779.8 861.1 780.4 860.8C781.0 860.4 781.5 860.1 782.1 859.7C782.7 859.4 783.3 859.1 783.8 858.7C784.4 858.4 785.0 858.0 785.5 857.7C786.1 857.4 786.7 857.0 787.3 856.7C787.8 856.4 788.4 856.0 789.0 855.7C789.6 855.3 790.1 855.0 790.7 854.7C791.3 854.3 791.9 854.0 792.5 853.6C793.0 853.3 793.6 853.0 794.2 852.6C794.7 852.3 795.3 852.0 795.9 851.6C796.5 851.3 797.0 851.0 797.6 850.6C798.2 850.3 798.8 850.0 799.4 849.6C799.9 849.3 800.5 848.9 801.1 848.6C801.7 848.3 802.2 847.9 802.8 847.6C803.4 847.3 804.0 846.9 804.5 846.6C805.1 846.3 805.7 845.9 806.2 845.6C806.8 845.3 807.4 844.9 808.0 844.6C808.6 844.2 809.1 843.9 809.7 843.6C810.3 843.2 810.8 842.9 811.4 842.6C812.0 842.2 812.6 841.9 813.1 841.5C813.7 841.2 814.3 840.9 814.9 840.5C815.4 840.2 816.0 839.9 816.6 839.5C817.2 839.2 817.7 838.8 818.3 838.5C818.9 838.2 819.4 837.8 820.0 837.5C820.6 837.2 821.2 836.8 821.7 836.5C822.3 836.1 822.9 835.8 823.5 835.4C824.0 835.1 824.6 834.8 825.2 834.4C825.7 834.1 826.3 833.7 826.9 833.4C827.5 833.0 828.0 832.7 828.6 832.4C829.2 832.0 829.7 831.7 830.3 831.3C830.9 831.0 831.4 830.6 832.0 830.3C832.6 829.9 833.1 829.6 833.7 829.2C834.3 828.9 834.8 828.6 835.4 828.2C836.0 827.9 836.5 827.5 837.1 827.1C837.7 826.8 838.2 826.5 838.8 826.1C839.4 825.7 839.9 825.4 840.5 825.0C841.1 824.7 841.6 824.3 842.2 824.0C842.7 823.6 843.3 823.3 843.9 822.9C844.4 822.6 845.0 822.2 845.5 821.8C846.1 821.5 846.7 821.1 847.2 820.8C847.8 820.4 848.3 820.0 848.9 819.7C849.4 819.3 850.0 818.9 850.5 818.6C851.1 818.2 851.7 817.8 852.2 817.5C852.8 817.1 853.3 816.7 853.9 816.3C854.4 816.0 855.0 815.6 855.5 815.2C856.1 814.8 856.6 814.5 857.1 814.1C857.7 813.7 858.2 813.3 858.8 812.9C859.3 812.6 859.9 812.2 860.4 811.8C861.0 811.4 861.5 811.0 862.0 810.6C862.6 810.2 863.1 809.8 863.6 809.5C864.2 809.1 864.7 808.7 865.2 808.3C865.8 807.9 866.3 807.5 866.9 807.1C867.4 806.7 867.9 806.3 868.4 805.9C869.0 805.5 869.5 805.0 870.0 804.6C870.5 804.2 871.1 803.8 871.6 803.4C872.1 803.0 872.6 802.6 873.1 802.2C873.7 801.7 874.2 801.3 874.7 800.9C875.2 800.5 875.7 800.0 876.2 799.6C876.8 799.2 877.3 798.8 877.8 798.3C878.3 797.9 878.8 797.5 879.3 797.0C879.8 796.6 880.3 796.1 880.8 795.7C881.3 795.3 881.8 794.8 882.3 794.4C882.8 793.9 883.3 793.5 883.8 793.0C884.3 792.6 884.8 792.1 885.2 791.6C885.7 791.2 886.2 790.7 886.7 790.3C887.2 789.8 887.7 789.3 888.2 788.9C888.6 788.4 889.1 787.9 889.6 787.4C890.1 787.0 890.5 786.5 891.0 786.0C891.5 785.5 892.0 785.0 892.4 784.5C892.9 784.1 893.4 783.6 893.8 783.1C894.3 782.6 894.8 782.1 895.2 781.6C895.7 781.1 896.1 780.6 896.6 780.1C897.0 779.6 897.5 779.1 897.9 778.6C898.4 778.1 898.8 777.6 899.3 777.1C899.7 776.6 900.2 776.1 900.6 775.5C901.0 775.0 901.5 774.5 901.9 774.0C902.3 773.5 902.8 773.0 903.2 772.5C903.6 771.9 904.0 771.4 904.5 770.9C904.9 770.4 905.3 769.8 905.7 769.3C906.2 768.8 906.6 768.2 907.0 767.7C907.4 767.2 907.8 766.6 908.2 766.1C908.6 765.6 909.0 765.0 909.4 764.5C909.8 764.0 910.2 763.4 910.6 762.9C911.0 762.3 911.4 761.8 911.8 761.2C912.2 760.7 912.6 760.1 912.9 759.6C913.3 759.0 913.7 758.5 914.1 757.9C914.4 757.4 914.8 756.8 915.2 756.3C915.6 755.7 915.9 755.2 916.3 754.6C916.7 754.1 917.0 753.5 917.4 752.9C917.7 752.4 918.1 751.8 918.4 751.3C918.8 750.7 919.1 750.1 919.5 749.6C919.8 749.0 920.2 748.4 920.5 747.9C920.8 747.3 921.2 746.7 921.5 746.2C921.9 745.6 922.2 745.0 922.5 744.5C922.8 743.9 923.2 743.3 923.5 742.8C923.8 742.2 924.1 741.6 924.5 741.0C924.8 740.5 925.1 739.9 925.4 739.3C925.7 738.7 926.0 738.1 926.3 737.6C926.7 737.0 927.0 736.4 927.3 735.8C927.6 735.2 927.9 734.7 928.2 734.1C928.5 733.5 928.8 732.9 929.1 732.3C929.4 731.7 929.7 731.1 930.0 730.5C930.2 730.0 930.5 729.4 930.8 728.8C931.1 728.2 931.4 727.6 931.7 727.0C932.0 726.4 932.2 725.8 932.5 725.2C932.8 724.6 933.1 724.0 933.4 723.4C933.6 722.8 933.9 722.2 934.2 721.6C934.5 721.1 934.8 720.5 935.0 719.9C935.3 719.2 935.6 718.6 935.9 718.0C936.1 717.4 936.4 716.8 936.7 716.2C936.9 715.6 937.2 715.0 937.5 714.4C937.7 713.8 938.0 713.2 938.2 712.6C938.5 712.0 938.8 711.4 939.0 710.8C939.3 710.2 939.6 709.6 939.8 708.9C940.1 708.3 940.3 707.7 940.6 707.1C940.9 706.5 941.1 705.9 941.4 705.3C941.6 704.6 941.9 704.0 942.1 703.4C942.4 702.8 942.7 702.2 942.9 701.6C943.2 700.9 943.4 700.3 943.7 699.7C943.9 699.1 944.2 698.5 944.4 697.8C944.7 697.2 944.9 696.6 945.2 696.0C945.5 695.3 945.7 694.7 946.0 694.1C946.2 693.5 946.5 692.9 946.7 692.2C947.0 691.6 947.2 691.0 947.5 690.4C947.7 689.7 948.0 689.1 948.2 688.5C948.5 687.8 948.7 687.2 949.0 686.6C949.2 686.0 949.5 685.3 949.8 684.7C950.0 684.1 950.3 683.4 950.5 682.8C950.8 682.2 951.0 681.5 951.3 680.9C951.5 680.3 951.8 679.6 952.0 679.0C952.3 678.4 952.6 677.7 952.8 677.1C953.1 676.4 953.3 675.8 953.6 675.2C953.9 674.5 954.1 673.9 954.4 673.2C954.6 672.6 954.9 672.0 955.2 671.3C955.4 670.7 955.7 670.1 956.0 669.4C956.2 668.8 956.5 668.1 956.8 667.5C957.0 666.9 957.3 666.2 957.6 665.6C957.8 664.9 958.1 664.3 958.4 663.7C958.7 663.1 959.0 662.5 959.3 661.9C959.6 661.3 959.9 660.7 960.3 660.1C960.6 659.5 960.9 659.0 961.3 658.4C961.6 657.9 962.0 657.4 962.4 656.9C962.8 656.4 963.1 655.9 963.6 655.4C964.0 654.9 964.4 654.5 964.9 654.1C965.3 653.7 965.8 653.3 966.3 653.0C966.8 652.6 967.3 652.3 967.8 652.0C968.3 651.8 968.9 651.6 969.4 651.6C969.9 651.5 970.4 651.6 970.8 651.8C971.3 652.0 971.7 652.3 972.1 652.7C972.6 653.1 973.0 653.6 973.4 654.1C973.7 654.6 974.1 655.2 974.4 655.8C974.8 656.4 975.1 657.1 975.4 657.7C975.7 658.4 976.0 659.1 976.3 659.8C976.6 660.5 976.9 661.2 977.1 662.0C977.4 662.7 977.6 663.4 977.8 664.1C978.1 664.8 978.3 665.5 978.5 666.2C978.7 666.9 978.9 667.6 979.1 668.2C979.2 668.9 979.4 669.6 979.6 670.3C979.7 670.9 979.9 671.6 980.0 672.3C980.2 672.9 980.3 673.6 980.5 674.2C980.6 674.9 980.7 675.5 980.9 676.2C981.0 676.8 981.1 677.5 981.2 678.1C981.3 678.8 981.4 679.4 981.5 680.0C981.6 680.7 981.7 681.3 981.9 682.0C982.0 682.6 982.0 683.2 982.1 683.9C982.3 684.5 982.4 685.2 982.5 685.8C982.6 686.4 982.7 687.1 982.8 687.7C982.9 688.4 983.0 689.0 983.1 689.7C983.2 690.3 983.3 691.0 983.4 691.6C983.5 692.2 983.6 692.9 983.7 693.5C983.8 694.2 983.9 694.8 984.0 695.5C984.1 696.1 984.2 696.8 984.3 697.4C984.4 698.1 984.6 698.7 984.7 699.4C984.8 700.0 984.9 700.7 985.0 701.3C985.1 702.0 985.2 702.6 985.3 703.3C985.4 703.9 985.5 704.6 985.6 705.2C985.7 705.9 985.8 706.5 985.9 707.2C986.0 707.9 986.2 708.5 986.3 709.2C986.4 709.8 986.5 710.5 986.6 711.1C986.7 711.8 986.8 712.4 986.9 713.1C987.0 713.8 987.1 714.4 987.2 715.1C987.3 715.7 987.5 716.4 987.6 717.0C987.7 717.7 987.8 718.4 987.9 719.0C988.0 719.7 988.1 720.3 988.2 721.0C988.3 721.6 988.4 722.3 988.5 723.0C988.6 723.6 988.7 724.3 988.9 725.0C989.0 725.6 989.1 726.3 989.2 726.9C989.3 727.6 989.4 728.3 989.5 728.9C989.6 729.6 989.7 730.2 989.8 730.9C989.9 731.6 990.0 732.2 990.1 732.9C990.2 733.6 990.3 734.2 990.4 734.9C990.5 735.6 990.6 736.2 990.8 736.9C990.9 737.5 991.0 738.2 991.1 738.9C991.2 739.5 991.3 740.2 991.4 740.9C991.5 741.5 991.6 742.2 991.7 742.9C991.8 743.5 991.9 744.2 992.0 744.8C992.1 745.5 992.2 746.2 992.3 746.8C992.4 747.5 992.5 748.2 992.6 748.8C992.7 749.5 992.8 750.2 992.9 750.8C993.0 751.5 993.1 752.2 993.2 752.8C993.3 753.5 993.4 754.1 993.5 754.8C993.6 755.5 993.7 756.1 993.8 756.8C993.9 757.5 994.0 758.1 994.0 758.8C994.1 759.5 994.2 760.1 994.3 760.8C994.4 761.5 994.5 762.1 994.6 762.8C994.7 763.5 994.8 764.1 994.9 764.8C995.0 765.4 995.1 766.1 995.1 766.8C995.2 767.4 995.3 768.1 995.4 768.8C995.5 769.4 995.6 770.1 995.7 770.8C995.8 771.4 995.8 772.1 995.9 772.7C996.0 773.4 996.1 774.1 996.2 774.7C996.3 775.4 996.3 776.0 996.4 776.7C996.5 777.4 996.6 778.0 996.7 778.7C996.8 779.4 996.8 780.0 996.9 780.7C997.0 781.3 997.1 782.0 997.1 782.7C997.2 783.3 997.3 784.0 997.4 784.6C997.4 785.3 997.5 786.0 997.6 786.6C997.7 787.3 997.7 787.9 997.8 788.6C997.9 789.2 997.9 789.9 998.0 790.6C998.1 791.2 998.1 791.9 998.2 792.5C998.3 793.2 998.4 794.2 998.4 794.5" fill="none" stroke="#444" stroke-width="1.05"/>
<path d="M589.70 1109.20C589.8 1108.9 590.0 1107.9 590.2 1107.3C590.4 1106.6 590.5 1106.0 590.7 1105.3C590.9 1104.7 591.1 1104.1 591.2 1103.4C591.4 1102.8 591.6 1102.1 591.8 1101.5C592.0 1100.9 592.2 1100.2 592.4 1099.6C592.6 1099.0 592.8 1098.3 593.0 1097.7C593.2 1097.1 593.4 1096.4 593.6 1095.8C593.8 1095.2 594.0 1094.5 594.2 1093.9C594.4 1093.3 594.6 1092.6 594.9 1092.0C595.1 1091.4 595.3 1090.8 595.5 1090.1C595.8 1089.5 596.0 1088.9 596.2 1088.2C596.5 1087.6 596.7 1087.0 596.9 1086.4C597.2 1085.7 597.4 1085.1 597.6 1084.5C597.9 1083.9 598.1 1083.3 598.4 1082.6C598.6 1082.0 598.9 1081.4 599.1 1080.8C599.4 1080.1 599.6 1079.5 599.9 1078.9C600.1 1078.3 600.4 1077.7 600.7 1077.0C600.9 1076.4 601.2 1075.8 601.5 1075.2C601.7 1074.6 602.0 1074.0 602.3 1073.4C602.5 1072.7 602.8 1072.1 603.1 1071.5C603.4 1070.9 603.6 1070.3 603.9 1069.7C604.2 1069.1 604.5 1068.5 604.8 1067.8C605.0 1067.2 605.3 1066.6 605.6 1066.0C605.9 1065.4 606.2 1064.8 606.5 1064.2C606.7 1063.6 607.0 1063.0 607.3 1062.4C607.6 1061.8 607.9 1061.2 608.2 1060.6C608.5 1060.0 608.8 1059.4 609.1 1058.8C609.4 1058.2 609.7 1057.6 610.0 1057.0C610.3 1056.4 610.6 1055.8 610.9 1055.2C611.2 1054.6 611.5 1054.0 611.8 1053.4C612.1 1052.8 612.4 1052.2 612.7 1051.6C613.0 1051.0 613.3 1050.4 613.6 1049.8C613.9 1049.2 614.2 1048.6 614.5 1048.0C614.8 1047.4 615.1 1046.8 615.4 1046.3C615.8 1045.7 616.1 1045.1 616.4 1044.5C616.7 1043.9 617.0 1043.3 617.3 1042.7C617.6 1042.1 617.9 1041.6 618.2 1041.0C618.6 1040.4 618.9 1039.8 619.2 1039.2C619.5 1038.6 619.8 1038.1 620.1 1037.5C620.5 1036.9 620.8 1036.3 621.1 1035.7C621.4 1035.2 621.8 1034.6 622.1 1034.0C622.4 1033.4 622.7 1032.8 623.1 1032.3C623.4 1031.7 623.7 1031.1 624.0 1030.5C624.4 1030.0 624.7 1029.4 625.0 1028.8C625.4 1028.2 625.7 1027.7 626.0 1027.1C626.4 1026.5 626.7 1026.0 627.0 1025.4C627.4 1024.8 627.7 1024.2 628.1 1023.7C628.4 1023.1 628.7 1022.5 629.1 1022.0C629.4 1021.4 629.8 1020.8 630.1 1020.3C630.5 1019.7 630.8 1019.1 631.2 1018.6C631.5 1018.0 631.9 1017.5 632.2 1016.9C632.6 1016.3 632.9 1015.8 633.3 1015.2C633.6 1014.7 634.0 1014.1 634.3 1013.5C634.7 1013.0 635.0 1012.4 635.4 1011.9C635.8 1011.3 636.1 1010.7 636.5 1010.2C636.9 1009.6 637.2 1009.1 637.6 1008.5C638.0 1008.0 638.3 1007.4 638.7 1006.9C639.1 1006.3 639.5 1005.8 639.8 1005.2C640.2 1004.7 640.6 1004.1 641.0 1003.6C641.3 1003.0 641.7 1002.5 642.1 1001.9C642.5 1001.4 642.9 1000.8 643.2 1000.3C643.6 999.8 644.0 999.2 644.4 998.7C644.8 998.1 645.2 997.6 645.6 997.0C646.0 996.5 646.4 996.0 646.8 995.4C647.2 994.9 647.6 994.3 648.0 993.8C648.4 993.3 648.8 992.7 649.2 992.2C649.6 991.7 650.0 991.1 650.4 990.6C650.8 990.1 651.2 989.5 651.6 989.0C652.0 988.5 652.4 987.9 652.8 987.4C653.2 986.9 653.7 986.4 654.1 985.8C654.5 985.3 654.9 984.8 655.3 984.3C655.7 983.7 656.2 983.2 656.6 982.7C657.0 982.2 657.4 981.7 657.9 981.1C658.3 980.6 658.7 980.1 659.1 979.6C659.6 979.1 660.0 978.6 660.4 978.0C660.9 977.5 661.3 977.0 661.7 976.5C662.2 976.0 662.6 975.5 663.0 975.0C663.5 974.5 663.9 974.0 664.4 973.5C664.8 973.0 665.3 972.5 665.7 972.0C666.1 971.4 666.6 970.9 667.0 970.5C667.5 970.0 667.9 969.5 668.4 969.0C668.8 968.5 669.3 968.0 669.7 967.5C670.2 967.0 670.6 966.5 671.1 966.0C671.6 965.5 672.0 965.0 672.5 964.5C672.9 964.0 673.4 963.6 673.9 963.1C674.3 962.6 674.8 962.1 675.2 961.6C675.7 961.1 676.2 960.7 676.6 960.2C677.1 959.7 677.6 959.2 678.0 958.8C678.5 958.3 679.0 957.8 679.5 957.3C679.9 956.9 680.4 956.4 680.9 955.9C681.4 955.5 681.8 955.0 682.3 954.5C682.8 954.1 683.3 953.6 683.8 953.1C684.2 952.7 684.7 952.2 685.2 951.8C685.7 951.3 686.2 950.8 686.7 950.4C687.2 949.9 687.6 949.5 688.1 949.0C688.6 948.6 689.1 948.1 689.6 947.7C690.1 947.2 690.6 946.8 691.1 946.3C691.6 945.9 692.1 945.4 692.6 945.0C693.1 944.6 693.6 944.1 694.1 943.7C694.6 943.2 695.1 942.8 695.6 942.4C696.1 941.9 696.6 941.5 697.1 941.1C697.6 940.6 698.1 940.2 698.6 939.8C699.1 939.3 699.6 938.9 700.1 938.5C700.6 938.1 701.1 937.6 701.6 937.2C702.1 936.8 702.7 936.4 703.2 935.9C703.7 935.5 704.2 935.1 704.7 934.7C705.2 934.3 705.7 933.8 706.3 933.4C706.8 933.0 707.3 932.6 707.8 932.2C708.3 931.8 708.8 931.4 709.4 930.9C709.9 930.5 710.4 930.1 710.9 929.7C711.5 929.3 712.0 928.9 712.5 928.5C713.0 928.1 713.6 927.7 714.1 927.3C714.6 926.9 715.1 926.5 715.7 926.1C716.2 925.7 716.7 925.3 717.3 924.9C717.8 924.5 718.3 924.1 718.9 923.7C719.4 923.3 719.9 922.9 720.5 922.5C721.0 922.1 721.5 921.7 722.1 921.3C722.6 920.9 723.2 920.5 723.7 920.2C724.2 919.8 724.8 919.4 725.3 919.0C725.8 918.6 726.4 918.2 726.9 917.9C727.5 917.5 728.0 917.1 728.6 916.7C729.1 916.3 729.7 915.9 730.2 915.5C730.7 915.2 731.3 914.8 731.8 914.4C732.4 914.0 732.9 913.7 733.5 913.3C734.0 912.9 734.6 912.5 735.1 912.2C735.7 911.8 736.2 911.4 736.8 911.0C737.3 910.7 737.9 910.3 738.4 909.9C739.0 909.6 739.5 909.2 740.1 908.8C740.7 908.5 741.2 908.1 741.8 907.7C742.3 907.4 742.9 907.0 743.4 906.6C744.0 906.3 744.6 905.9 745.1 905.5C745.7 905.2 746.2 904.8 746.8 904.5C747.3 904.1 747.9 903.7 748.5 903.4C749.0 903.0 749.6 902.7 750.2 902.3C750.7 901.9 751.3 901.6 751.9 901.2C752.4 900.9 753.0 900.5 753.5 900.2C754.1 899.8 754.7 899.5 755.2 899.1C755.8 898.7 756.4 898.4 756.9 898.0C757.5 897.7 758.1 897.3 758.6 897.0C759.2 896.6 759.8 896.3 760.4 895.9C760.9 895.6 761.5 895.2 762.1 894.9C762.6 894.5 763.2 894.2 763.8 893.9C764.3 893.5 764.9 893.2 765.5 892.8C766.1 892.5 766.6 892.1 767.2 891.8C767.8 891.4 768.3 891.1 768.9 890.8C769.5 890.4 770.1 890.1 770.6 889.7C771.2 889.4 771.8 889.0 772.4 888.7C772.9 888.4 773.5 888.0 774.1 887.7C774.7 887.3 775.3 887.0 775.8 886.7C776.4 886.3 777.0 886.0 777.6 885.6C778.1 885.3 778.7 885.0 779.3 884.6C779.9 884.3 780.5 884.0 781.0 883.6C781.6 883.3 782.2 883.0 782.8 882.6C783.4 882.3 783.9 882.0 784.5 881.6C785.1 881.3 785.7 881.0 786.2 880.6C786.8 880.3 787.4 880.0 788.0 879.6C788.6 879.3 789.2 879.0 789.7 878.6C790.3 878.3 790.9 878.0 791.5 877.6C792.1 877.3 792.6 877.0 793.2 876.6C793.8 876.3 794.4 876.0 795.0 875.6C795.6 875.3 796.1 875.0 796.7 874.6C797.3 874.3 797.9 874.0 798.5 873.6C799.1 873.3 799.6 873.0 800.2 872.7C800.8 872.3 801.4 872.0 802.0 871.7C802.6 871.3 803.1 871.0 803.7 870.7C804.3 870.4 804.9 870.0 805.5 869.7C806.1 869.4 806.7 869.0 807.2 868.7C807.8 868.4 808.4 868.1 809.0 867.7C809.6 867.4 810.2 867.1 810.7 866.8C811.3 866.4 811.9 866.1 812.5 865.8C813.1 865.4 813.7 865.1 814.2 864.8C814.8 864.5 815.4 864.1 816.0 863.8C816.6 863.5 817.2 863.1 817.8 862.8C818.3 862.5 818.9 862.2 819.5 861.8C820.1 861.5 820.7 861.2 821.3 860.9C821.8 860.5 822.4 860.2 823.0 859.9C823.6 859.5 824.2 859.2 824.8 858.9C825.4 858.6 825.9 858.2 826.5 857.9C827.1 857.6 827.7 857.2 828.3 856.9C828.9 856.6 829.4 856.3 830.0 855.9C830.6 855.6 831.2 855.3 831.8 854.9C832.4 854.6 832.9 854.3 833.5 854.0C834.1 853.6 834.7 853.3 835.3 853.0C835.8 852.6 836.4 852.3 837.0 852.0C837.6 851.6 838.2 851.3 838.7 851.0C839.3 850.6 839.9 850.3 840.5 850.0C841.1 849.6 841.6 849.3 842.2 849.0C842.8 848.6 843.4 848.3 844.0 848.0C844.5 847.6 845.1 847.3 845.7 847.0C846.3 846.6 846.8 846.3 847.4 846.0C848.0 845.6 848.6 845.3 849.1 845.0C849.7 844.6 850.3 844.3 850.9 843.9C851.4 843.6 852.0 843.2 852.6 842.9C853.2 842.6 853.7 842.2 854.3 841.9C854.9 841.5 855.4 841.2 856.0 840.8C856.6 840.5 857.1 840.1 857.7 839.8C858.3 839.5 858.8 839.1 859.4 838.8C860.0 838.4 860.5 838.1 861.1 837.7C861.7 837.3 862.2 837.0 862.8 836.6C863.4 836.3 863.9 835.9 864.5 835.6C865.0 835.2 865.6 834.9 866.1 834.5C866.7 834.1 867.3 833.8 867.8 833.4C868.4 833.0 868.9 832.7 869.5 832.3C870.0 832.0 870.6 831.6 871.1 831.2C871.7 830.9 872.2 830.5 872.8 830.1C873.3 829.7 873.9 829.4 874.4 829.0C875.0 828.6 875.5 828.2 876.1 827.9C876.6 827.5 877.2 827.1 877.7 826.7C878.2 826.3 878.8 826.0 879.3 825.6C879.8 825.2 880.4 824.8 880.9 824.4C881.5 824.0 882.0 823.6 882.5 823.2C883.1 822.8 883.6 822.5 884.1 822.1C884.6 821.7 885.2 821.3 885.7 820.9C886.2 820.5 886.8 820.1 887.3 819.7C887.8 819.3 888.3 818.8 888.8 818.4C889.4 818.0 889.9 817.6 890.4 817.2C890.9 816.8 891.4 816.4 891.9 816.0C892.5 815.5 893.0 815.1 893.5 814.7C894.0 814.3 894.5 813.9 895.0 813.4C895.5 813.0 896.0 812.6 896.5 812.1C897.0 811.7 897.5 811.3 898.0 810.8C898.5 810.4 899.0 810.0 899.5 809.5C900.0 809.1 900.5 808.6 901.0 808.2C901.5 807.8 902.0 807.3 902.5 806.9C902.9 806.4 903.4 805.9 903.9 805.5C904.4 805.0 904.9 804.6 905.4 804.1C905.8 803.6 906.3 803.2 906.8 802.7C907.3 802.2 907.7 801.8 908.2 801.3C908.7 800.8 909.1 800.4 909.6 799.9C910.1 799.4 910.5 798.9 911.0 798.4C911.5 797.9 911.9 797.5 912.4 797.0C912.8 796.5 913.3 796.0 913.7 795.5C914.2 795.0 914.6 794.5 915.1 794.0C915.5 793.5 916.0 793.0 916.4 792.5C916.8 792.0 917.3 791.5 917.7 791.0C918.2 790.5 918.6 789.9 919.0 789.4C919.5 788.9 919.9 788.4 920.3 787.9C920.7 787.4 921.2 786.8 921.6 786.3C922.0 785.8 922.4 785.2 922.8 784.7C923.3 784.2 923.7 783.7 924.1 783.1C924.5 782.6 924.9 782.1 925.3 781.5C925.7 781.0 926.1 780.4 926.5 779.9C926.9 779.4 927.3 778.8 927.7 778.3C928.1 777.7 928.5 777.2 928.9 776.6C929.3 776.1 929.6 775.5 930.0 775.0C930.4 774.4 930.8 773.8 931.2 773.3C931.5 772.7 931.9 772.2 932.3 771.6C932.7 771.0 933.0 770.5 933.4 769.9C933.8 769.4 934.1 768.8 934.5 768.2C934.8 767.6 935.2 767.1 935.5 766.5C935.9 765.9 936.2 765.3 936.6 764.8C936.9 764.2 937.3 763.6 937.6 763.0C937.9 762.4 938.3 761.9 938.6 761.3C938.9 760.7 939.3 760.1 939.6 759.5C939.9 758.9 940.3 758.4 940.6 757.8C940.9 757.2 941.2 756.6 941.5 756.0C941.8 755.4 942.1 754.8 942.4 754.2C942.7 753.6 943.1 753.0 943.4 752.4C943.6 751.8 943.9 751.2 944.2 750.6C944.5 750.0 944.8 749.4 945.1 748.8C945.4 748.2 945.7 747.6 946.0 747.0C946.3 746.4 946.6 745.8 946.9 745.2C947.2 744.6 947.5 744.0 947.8 743.4C948.1 742.8 948.4 742.2 948.7 741.6C949.0 741.0 949.3 740.5 949.6 739.9C949.9 739.3 950.2 738.7 950.5 738.1C950.9 737.5 951.2 737.0 951.5 736.4C951.9 735.8 952.2 735.2 952.5 734.7C952.9 734.1 953.2 733.5 953.6 733.0C954.0 732.4 954.3 731.9 954.7 731.3C955.1 730.8 955.5 730.2 955.9 729.7C956.3 729.2 956.7 728.6 957.1 728.1C957.6 727.6 958.0 727.1 958.5 726.5C958.9 726.0 959.4 725.5 959.8 725.0C960.3 724.5 960.8 724.0 961.3 723.6C961.8 723.1 962.3 722.6 962.9 722.2C963.4 721.8 963.9 721.3 964.4 721.0C964.9 720.6 965.5 720.3 966.0 720.1C966.5 719.8 967.0 719.6 967.5 719.5C968.1 719.4 968.5 719.4 969.0 719.4C969.5 719.5 970.0 719.7 970.4 719.9C970.8 720.2 971.2 720.5 971.6 720.9C972.0 721.3 972.4 721.8 972.7 722.4C973.0 722.9 973.4 723.5 973.7 724.1C974.0 724.7 974.3 725.4 974.6 726.1C974.9 726.8 975.1 727.5 975.4 728.2C975.6 729.0 975.9 729.7 976.1 730.4C976.3 731.1 976.5 731.8 976.8 732.5C977.0 733.2 977.2 733.9 977.4 734.6C977.5 735.2 977.7 735.9 977.9 736.5C978.1 737.2 978.3 737.9 978.4 738.5C978.6 739.2 978.8 739.9 978.9 740.5C979.1 741.2 979.2 741.8 979.4 742.5C979.5 743.2 979.7 743.8 979.8 744.5C979.9 745.1 980.1 745.8 980.2 746.5C980.3 747.1 980.5 747.8 980.6 748.5C980.7 749.1 980.8 749.8 980.9 750.4C981.1 751.1 981.2 751.7 981.3 752.4C981.4 753.1 981.5 753.7 981.6 754.4C981.7 755.0 981.8 755.7 981.9 756.4C982.0 757.0 982.1 757.7 982.2 758.3C982.2 759.0 982.3 759.6 982.4 760.3C982.5 761.0 982.6 761.6 982.7 762.3C982.8 762.9 982.8 763.6 982.9 764.2C983.0 764.9 983.1 765.6 983.1 766.2C983.2 766.9 983.3 767.5 983.4 768.2C983.4 768.8 983.5 769.5 983.6 770.2C983.7 770.8 983.7 771.5 983.8 772.1C983.9 772.8 983.9 773.5 984.0 774.1C984.1 774.8 984.1 775.4 984.2 776.1C984.3 776.7 984.4 777.4 984.4 778.1C984.5 778.7 984.6 779.4 984.6 780.0C984.7 780.7 984.8 781.4 984.9 782.0C984.9 782.7 985.0 783.3 985.1 784.0C985.2 784.6 985.2 785.3 985.3 786.0C985.4 786.6 985.5 787.3 985.5 787.9C985.6 788.6 985.7 789.3 985.8 789.9C985.8 790.6 985.9 791.2 986.0 791.9C986.1 792.6 986.2 793.2 986.2 793.9C986.3 794.5 986.4 795.2 986.5 795.9C986.5 796.5 986.6 797.2 986.7 797.9C986.8 798.5 986.9 799.2 986.9 799.8C987.0 800.5 987.1 801.2 987.2 801.8C987.3 802.5 987.3 803.1 987.4 803.8C987.5 804.5 987.6 805.1 987.7 805.8C987.7 806.5 987.8 807.1 987.9 807.8C988.0 808.4 988.1 809.1 988.1 809.8C988.2 810.4 988.3 811.1 988.4 811.8C988.5 812.4 988.6 813.1 988.6 813.7C988.7 814.4 988.8 815.1 988.9 815.7C989.0 816.4 989.1 817.0 989.1 817.7C989.2 818.4 989.3 819.0 989.4 819.7C989.5 820.4 989.6 821.0 989.6 821.7C989.7 822.4 989.8 823.0 989.9 823.7C990.0 824.3 990.1 825.0 990.1 825.7C990.2 826.3 990.3 827.0 990.4 827.7C990.5 828.3 990.5 829.0 990.6 829.7C990.7 830.3 990.8 831.0 990.9 831.6C991.0 832.3 991.0 833.0 991.1 833.6C991.2 834.3 991.3 835.0 991.4 835.6C991.5 836.3 991.5 837.0 991.6 837.6C991.7 838.3 991.8 839.0 991.9 839.6C991.9 840.3 992.0 840.9 992.1 841.6C992.2 842.3 992.3 842.9 992.3 843.6C992.4 844.3 992.5 844.9 992.6 845.6C992.6 846.3 992.7 846.9 992.8 847.6C992.9 848.3 993.0 848.9 993.0 849.6C993.1 850.3 993.2 850.9 993.3 851.6C993.3 852.2 993.4 852.9 993.5 853.6C993.6 854.2 993.6 854.9 993.7 855.6C993.8 856.2 993.9 856.9 993.9 857.6C994.0 858.2 994.1 858.9 994.2 859.6C994.2 860.2 994.3 860.9 994.4 861.6C994.5 862.2 994.5 862.9 994.6 863.5C994.7 864.2 994.7 864.9 994.8 865.5C994.9 866.2 994.9 866.9 995.0 867.5C995.1 868.2 995.1 868.9 995.2 869.5C995.3 870.2 995.3 870.9 995.4 871.5C995.5 872.2 995.5 872.9 995.6 873.5C995.7 874.2 995.7 874.9 995.8 875.5C995.9 876.2 995.9 876.8 996.0 877.5C996.0 878.2 996.1 878.8 996.1 879.5C996.2 880.2 996.3 880.8 996.3 881.5C996.4 882.2 996.4 882.8 996.5 883.5C996.6 884.2 996.6 884.8 996.7 885.5C996.7 886.2 996.8 886.8 996.8 887.5C996.9 888.1 996.9 888.8 997.0 889.5C997.0 890.1 997.1 890.8 997.1 891.5C997.2 892.1 997.2 892.8 997.3 893.5C997.3 894.1 997.4 894.8 997.4 895.5C997.5 896.1 997.5 896.8 997.5 897.4C997.6 898.1 997.6 898.8 997.7 899.4C997.7 900.1 997.8 900.8 997.8 901.4C997.8 902.1 997.9 902.8 997.9 903.4C997.9 904.1 998.0 904.7 998.0 905.4C998.0 906.1 998.1 907.1 998.1 907.4" fill="none" stroke="#444" stroke-width="1.05" stroke-dasharray="12.5 5"/>
<path d="M588.10 997.30C588.2 997.5 588.3 998.0 588.5 998.5C588.6 999.1 588.9 999.7 589.1 1000.4C589.4 1001.1 589.8 1001.8 590.1 1002.6C590.5 1003.3 590.9 1004.1 591.4 1004.8C591.8 1005.5 592.3 1006.2 592.8 1006.8C593.3 1007.4 593.8 1007.9 594.3 1008.2C594.8 1008.6 595.4 1008.8 595.9 1008.9C596.5 1009.0 597.0 1008.8 597.6 1008.6C598.1 1008.4 598.7 1008.1 599.2 1007.8C599.7 1007.4 600.2 1007.1 600.7 1006.7C601.2 1006.3 601.7 1005.9 602.2 1005.5C602.7 1005.0 603.2 1004.6 603.6 1004.1C604.1 1003.7 604.6 1003.2 605.0 1002.7C605.5 1002.2 605.9 1001.7 606.3 1001.2C606.8 1000.7 607.2 1000.2 607.6 999.7C608.0 999.1 608.4 998.6 608.9 998.0C609.3 997.5 609.7 997.0 610.1 996.4C610.5 995.8 610.9 995.3 611.3 994.7C611.7 994.2 612.1 993.6 612.5 993.0C612.9 992.5 613.3 991.9 613.7 991.4C614.1 990.8 614.5 990.2 614.9 989.7C615.3 989.1 615.7 988.6 616.1 988.0C616.5 987.5 616.9 986.9 617.3 986.4C617.7 985.8 618.1 985.3 618.5 984.7C618.9 984.2 619.3 983.6 619.7 983.1C620.1 982.6 620.5 982.0 620.9 981.5C621.3 981.0 621.7 980.4 622.1 979.9C622.5 979.4 623.0 978.8 623.4 978.3C623.8 977.8 624.2 977.2 624.6 976.7C625.0 976.2 625.4 975.7 625.8 975.1C626.2 974.6 626.7 974.1 627.1 973.6C627.5 973.0 627.9 972.5 628.3 972.0C628.7 971.5 629.1 971.0 629.6 970.5C630.0 969.9 630.4 969.4 630.8 968.9C631.2 968.4 631.7 967.9 632.1 967.4C632.5 966.9 632.9 966.4 633.3 965.9C633.8 965.4 634.2 964.8 634.6 964.3C635.0 963.8 635.5 963.3 635.9 962.8C636.3 962.3 636.7 961.8 637.2 961.3C637.6 960.8 638.0 960.3 638.5 959.8C638.9 959.3 639.3 958.8 639.7 958.3C640.2 957.8 640.6 957.3 641.0 956.8C641.5 956.3 641.9 955.8 642.3 955.3C642.8 954.8 643.2 954.4 643.6 953.9C644.1 953.4 644.5 952.9 645.0 952.4C645.4 951.9 645.8 951.4 646.3 950.9C646.7 950.4 647.1 949.9 647.6 949.4C648.0 948.9 648.5 948.4 648.9 948.0C649.4 947.5 649.8 947.0 650.2 946.5C650.7 946.0 651.1 945.5 651.6 945.0C652.0 944.6 652.5 944.1 652.9 943.6C653.4 943.1 653.8 942.6 654.3 942.1C654.7 941.6 655.2 941.1 655.6 940.7C656.1 940.2 656.5 939.7 657.0 939.2C657.5 938.7 657.9 938.2 658.4 937.8C658.8 937.3 659.3 936.8 659.8 936.3C660.2 935.8 660.7 935.3 661.1 934.9C661.6 934.4 662.1 933.9 662.5 933.4C663.0 932.9 663.4 932.5 663.9 932.0C664.4 931.5 664.8 931.0 665.3 930.5C665.8 930.1 666.2 929.6 666.7 929.1C667.2 928.6 667.7 928.2 668.1 927.7C668.6 927.2 669.1 926.7 669.5 926.3C670.0 925.8 670.5 925.3 671.0 924.8C671.4 924.4 671.9 923.9 672.4 923.4C672.9 923.0 673.4 922.5 673.8 922.0C674.3 921.6 674.8 921.1 675.3 920.6C675.8 920.2 676.3 919.7 676.7 919.2C677.2 918.8 677.7 918.3 678.2 917.8C678.7 917.4 679.2 916.9 679.7 916.5C680.2 916.0 680.6 915.5 681.1 915.1C681.6 914.6 682.1 914.2 682.6 913.7C683.1 913.3 683.6 912.8 684.1 912.4C684.6 911.9 685.1 911.5 685.6 911.0C686.1 910.6 686.6 910.1 687.1 909.7C687.6 909.2 688.1 908.8 688.6 908.3C689.1 907.9 689.6 907.5 690.1 907.0C690.6 906.6 691.2 906.1 691.7 905.7C692.2 905.3 692.7 904.8 693.2 904.4C693.7 904.0 694.2 903.5 694.7 903.1C695.2 902.7 695.8 902.2 696.3 901.8C696.8 901.4 697.3 901.0 697.8 900.5C698.4 900.1 698.9 899.7 699.4 899.3C699.9 898.9 700.4 898.4 701.0 898.0C701.5 897.6 702.0 897.2 702.5 896.8C703.1 896.4 703.6 895.9 704.1 895.5C704.7 895.1 705.2 894.7 705.7 894.3C706.3 893.9 706.8 893.5 707.3 893.1C707.9 892.7 708.4 892.3 708.9 891.9C709.5 891.5 710.0 891.1 710.5 890.7C711.1 890.3 711.6 889.9 712.2 889.5C712.7 889.1 713.3 888.8 713.8 888.4C714.3 888.0 714.9 887.6 715.4 887.2C716.0 886.8 716.5 886.4 717.1 886.1C717.6 885.7 718.2 885.3 718.7 884.9C719.3 884.5 719.8 884.2 720.4 883.8C720.9 883.4 721.5 883.0 722.0 882.7C722.6 882.3 723.2 881.9 723.7 881.6C724.3 881.2 724.8 880.8 725.4 880.5C725.9 880.1 726.5 879.7 727.1 879.4C727.6 879.0 728.2 878.7 728.8 878.3C729.3 877.9 729.9 877.6 730.4 877.2C731.0 876.9 731.6 876.5 732.1 876.2C732.7 875.8 733.3 875.5 733.8 875.1C734.4 874.8 735.0 874.4 735.5 874.1C736.1 873.7 736.7 873.4 737.3 873.0C737.8 872.7 738.4 872.4 739.0 872.0C739.6 871.7 740.1 871.3 740.7 871.0C741.3 870.7 741.9 870.3 742.5 870.0C743.0 869.7 743.6 869.3 744.2 869.0C744.8 868.7 745.3 868.3 745.9 868.0C746.5 867.7 747.1 867.4 747.7 867.0C748.3 866.7 748.8 866.4 749.4 866.1C750.0 865.8 750.6 865.4 751.2 865.1C751.8 864.8 752.4 864.5 753.0 864.2C753.5 863.9 754.1 863.5 754.7 863.2C755.3 862.9 755.9 862.6 756.5 862.3C757.1 862.0 757.7 861.7 758.3 861.4C758.9 861.1 759.4 860.8 760.0 860.5C760.6 860.2 761.2 859.9 761.8 859.6C762.4 859.3 763.0 859.0 763.6 858.7C764.2 858.4 764.8 858.1 765.4 857.8C766.0 857.5 766.6 857.2 767.2 856.9C767.8 856.6 768.4 856.3 769.0 856.0C769.6 855.7 770.2 855.4 770.8 855.2C771.4 854.9 772.0 854.6 772.6 854.3C773.2 854.0 773.8 853.7 774.4 853.5C775.0 853.2 775.6 852.9 776.2 852.6C776.8 852.4 777.5 852.1 778.1 851.8C778.7 851.5 779.3 851.2 779.9 851.0C780.5 850.7 781.1 850.4 781.7 850.2C782.3 849.9 782.9 849.6 783.5 849.4C784.1 849.1 784.7 848.8 785.4 848.6C786.0 848.3 786.6 848.0 787.2 847.8C787.8 847.5 788.4 847.2 789.0 847.0C789.7 846.7 790.3 846.5 790.9 846.2C791.5 846.0 792.1 845.7 792.7 845.5C793.3 845.2 793.9 844.9 794.6 844.7C795.2 844.4 795.8 844.2 796.4 843.9C797.0 843.7 797.6 843.4 798.3 843.2C798.9 842.9 799.5 842.7 800.1 842.4C800.7 842.2 801.4 841.9 802.0 841.7C802.6 841.5 803.2 841.2 803.8 841.0C804.5 840.7 805.1 840.5 805.7 840.2C806.3 840.0 806.9 839.8 807.5 839.5C808.2 839.3 808.8 839.0 809.4 838.8C810.0 838.6 810.6 838.3 811.3 838.1C811.9 837.8 812.5 837.6 813.1 837.4C813.8 837.1 814.4 836.9 815.0 836.7C815.6 836.4 816.3 836.2 816.9 836.0C817.5 835.7 818.1 835.5 818.8 835.2C819.4 835.0 820.0 834.8 820.6 834.5C821.2 834.3 821.9 834.1 822.5 833.9C823.1 833.6 823.7 833.4 824.4 833.1C825.0 832.9 825.6 832.7 826.2 832.5C826.9 832.2 827.5 832.0 828.1 831.8C828.7 831.5 829.4 831.3 830.0 831.1C830.6 830.8 831.2 830.6 831.9 830.4C832.5 830.1 833.1 829.9 833.8 829.7C834.4 829.4 835.0 829.2 835.6 829.0C836.3 828.7 836.9 828.5 837.5 828.3C838.1 828.0 838.8 827.8 839.4 827.6C840.0 827.3 840.6 827.1 841.3 826.9C841.9 826.6 842.5 826.4 843.1 826.2C843.8 825.9 844.4 825.7 845.0 825.5C845.7 825.2 846.3 825.0 846.9 824.8C847.5 824.5 848.2 824.3 848.8 824.0C849.4 823.8 850.0 823.6 850.7 823.3C851.3 823.1 851.9 822.9 852.5 822.6C853.2 822.4 853.8 822.1 854.4 821.9C855.1 821.7 855.7 821.4 856.3 821.2C856.9 820.9 857.6 820.7 858.2 820.5C858.8 820.2 859.4 820.0 860.1 819.7C860.7 819.5 861.3 819.2 861.9 819.0C862.6 818.7 863.2 818.5 863.8 818.2C864.4 818.0 865.1 817.8 865.7 817.5C866.3 817.2 866.9 817.0 867.6 816.7C868.2 816.5 868.8 816.2 869.4 816.0C870.1 815.7 870.7 815.5 871.3 815.2C871.9 815.0 872.5 814.7 873.2 814.4C873.8 814.2 874.4 813.9 875.0 813.7C875.7 813.4 876.3 813.1 876.9 812.9C877.5 812.6 878.1 812.3 878.8 812.1C879.4 811.8 880.0 811.5 880.6 811.2C881.2 811.0 881.8 810.7 882.4 810.4C883.1 810.1 883.7 809.9 884.3 809.6C884.9 809.3 885.5 809.0 886.1 808.7C886.7 808.4 887.3 808.1 887.9 807.8C888.5 807.5 889.1 807.2 889.7 806.9C890.3 806.6 890.9 806.3 891.5 806.0C892.1 805.7 892.7 805.4 893.3 805.1C893.9 804.8 894.4 804.5 895.0 804.1C895.6 803.8 896.2 803.5 896.8 803.2C897.3 802.8 897.9 802.5 898.5 802.2C899.1 801.8 899.6 801.5 900.2 801.2C900.8 800.8 901.3 800.5 901.9 800.1C902.4 799.8 903.0 799.4 903.6 799.0C904.1 798.7 904.7 798.3 905.2 797.9C905.8 797.6 906.3 797.2 906.8 796.8C907.4 796.4 907.9 796.0 908.4 795.7C909.0 795.3 909.5 794.9 910.0 794.5C910.5 794.1 911.1 793.7 911.6 793.2C912.1 792.8 912.6 792.4 913.1 792.0C913.6 791.6 914.1 791.1 914.6 790.7C915.1 790.3 915.6 789.8 916.1 789.4C916.5 789.0 917.0 788.5 917.5 788.0C918.0 787.6 918.4 787.1 918.9 786.6C919.4 786.2 919.8 785.7 920.3 785.2C920.7 784.7 921.2 784.3 921.6 783.8C922.1 783.3 922.5 782.8 923.0 782.3C923.4 781.8 923.8 781.3 924.3 780.7C924.7 780.2 925.1 779.7 925.5 779.2C925.9 778.7 926.4 778.1 926.8 777.6C927.2 777.1 927.6 776.5 928.0 776.0C928.4 775.5 928.8 774.9 929.2 774.4C929.6 773.8 930.0 773.3 930.4 772.7C930.7 772.2 931.1 771.6 931.5 771.1C931.9 770.5 932.2 769.9 932.6 769.4C933.0 768.8 933.3 768.2 933.7 767.7C934.1 767.1 934.4 766.5 934.8 766.0C935.1 765.4 935.5 764.8 935.8 764.2C936.2 763.7 936.5 763.1 936.9 762.5C937.2 761.9 937.6 761.3 937.9 760.7C938.2 760.2 938.6 759.6 938.9 759.0C939.2 758.4 939.6 757.8 939.9 757.2C940.2 756.6 940.5 756.0 940.8 755.5C941.2 754.9 941.5 754.3 941.8 753.7C942.1 753.1 942.4 752.5 942.7 751.9C943.0 751.3 943.3 750.7 943.6 750.1C943.9 749.5 944.2 749.0 944.5 748.4C944.8 747.8 945.1 747.2 945.4 746.6C945.7 746.0 946.0 745.4 946.3 744.8C946.6 744.3 946.9 743.7 947.2 743.1C947.5 742.5 947.7 741.9 948.0 741.3C948.3 740.7 948.6 740.1 948.9 739.5C949.1 739.0 949.4 738.4 949.7 737.8C949.9 737.2 950.2 736.6 950.5 736.0C950.7 735.4 951.0 734.8 951.3 734.2C951.5 733.6 951.8 733.0 952.0 732.4C952.3 731.8 952.5 731.2 952.8 730.6C953.0 730.0 953.3 729.4 953.5 728.8C953.8 728.1 954.0 727.5 954.3 726.9C954.5 726.3 954.7 725.7 955.0 725.0C955.2 724.4 955.5 723.8 955.7 723.2C955.9 722.5 956.2 721.9 956.4 721.2C956.7 720.6 956.9 720.0 957.2 719.3C957.4 718.7 957.7 718.0 958.0 717.4C958.2 716.7 958.5 716.0 958.8 715.4C959.1 714.7 959.3 714.0 959.6 713.4C960.0 712.7 960.3 712.0 960.6 711.4C960.9 710.7 961.2 710.1 961.6 709.4C961.9 708.8 962.2 708.2 962.6 707.6C963.0 707.0 963.3 706.4 963.7 705.8C964.1 705.3 964.5 704.7 964.9 704.2C965.2 703.7 965.6 703.2 966.1 702.8C966.5 702.3 966.9 701.9 967.3 701.5C967.8 701.1 968.2 700.8 968.7 700.5C969.1 700.2 969.6 699.9 970.1 699.8C970.5 699.6 971.0 699.5 971.4 699.5C971.9 699.5 972.3 699.7 972.7 699.9C973.1 700.1 973.4 700.5 973.8 700.9C974.2 701.3 974.5 701.8 974.8 702.4C975.1 702.9 975.4 703.6 975.7 704.2C975.9 704.9 976.2 705.6 976.5 706.4C976.7 707.1 976.9 707.9 977.1 708.6C977.4 709.4 977.5 710.2 977.7 711.0C977.9 711.8 978.1 712.5 978.3 713.3C978.4 714.0 978.6 714.7 978.8 715.4C978.9 716.1 979.0 716.7 979.2 717.4C979.3 718.1 979.5 718.7 979.6 719.3C979.7 720.0 979.8 720.6 979.9 721.2C980.1 721.9 980.2 722.5 980.3 723.1C980.4 723.7 980.5 724.4 980.6 725.0C980.8 725.6 980.9 726.3 981.0 726.9C981.1 727.5 981.2 728.2 981.3 728.8C981.4 729.5 981.5 730.1 981.6 730.7C981.7 731.4 981.8 732.0 981.9 732.7C982.0 733.3 982.1 734.0 982.2 734.6C982.3 735.3 982.4 735.9 982.5 736.6C982.6 737.2 982.7 737.9 982.8 738.5C982.9 739.2 982.9 739.8 983.0 740.5C983.1 741.1 983.2 741.8 983.3 742.4C983.4 743.1 983.5 743.8 983.6 744.4C983.6 745.1 983.7 745.7 983.8 746.4C983.9 747.0 984.0 747.7 984.0 748.4C984.1 749.0 984.2 749.7 984.3 750.4C984.4 751.0 984.4 751.7 984.5 752.4C984.6 753.0 984.7 753.7 984.7 754.4C984.8 755.0 984.9 755.7 985.0 756.4C985.0 757.0 985.1 757.7 985.2 758.4C985.2 759.0 985.3 759.7 985.4 760.4C985.4 761.0 985.5 761.7 985.6 762.4C985.6 763.0 985.7 763.7 985.8 764.4C985.8 765.0 985.9 765.7 986.0 766.4C986.0 767.0 986.1 767.7 986.1 768.4C986.2 769.1 986.2 769.7 986.3 770.4C986.4 771.1 986.4 771.7 986.5 772.4C986.5 773.1 986.6 773.8 986.7 774.4C986.7 775.1 986.8 775.8 986.8 776.4C986.9 777.1 986.9 777.8 987.0 778.4C987.0 779.1 987.1 779.8 987.2 780.5C987.2 781.1 987.3 781.8 987.3 782.5C987.4 783.1 987.4 783.8 987.5 784.5C987.5 785.1 987.6 785.8 987.6 786.5C987.7 787.1 987.7 787.8 987.8 788.5C987.8 789.1 987.9 789.8 987.9 790.5C988.0 791.1 988.0 791.8 988.1 792.5C988.1 793.1 988.2 793.8 988.2 794.5C988.3 795.1 988.3 795.8 988.4 796.5C988.4 797.1 988.5 797.8 988.5 798.5C988.6 799.1 988.6 799.8 988.7 800.5C988.7 801.1 988.8 801.8 988.8 802.5C988.9 803.1 988.9 803.8 989.0 804.5C989.0 805.1 989.0 805.8 989.1 806.5C989.1 807.1 989.2 807.8 989.2 808.5C989.3 809.1 989.3 809.8 989.4 810.5C989.4 811.1 989.5 811.8 989.5 812.5C989.6 813.1 989.6 813.8 989.7 814.5C989.7 815.1 989.8 815.8 989.8 816.5C989.9 817.1 989.9 817.8 990.0 818.5C990.0 819.1 990.1 819.8 990.1 820.5C990.2 821.1 990.2 821.8 990.3 822.4C990.3 823.1 990.4 823.8 990.4 824.4C990.5 825.1 990.5 825.8 990.6 826.4C990.6 827.1 990.7 827.7 990.7 828.4C990.8 829.1 990.8 829.7 990.9 830.4C990.9 831.1 991.0 831.7 991.0 832.4C991.1 833.1 991.2 833.7 991.2 834.4C991.3 835.1 991.3 835.7 991.4 836.4C991.4 837.0 991.5 837.7 991.5 838.4C991.6 839.0 991.7 839.7 991.7 840.4C991.8 841.0 991.8 841.7 991.9 842.3C992.0 843.0 992.0 843.7 992.1 844.3C992.2 845.0 992.2 845.7 992.3 846.3C992.3 847.0 992.4 847.6 992.5 848.3C992.5 849.0 992.6 849.6 992.7 850.3C992.7 851.0 992.8 851.6 992.9 852.3C992.9 852.9 993.0 853.6 993.1 854.3C993.1 854.9 993.2 855.6 993.3 856.3C993.4 856.9 993.4 857.6 993.5 858.2C993.6 858.9 993.7 859.6 993.7 860.2C993.8 860.9 993.9 861.6 994.0 862.2C994.0 862.9 994.1 863.5 994.2 864.2C994.3 864.9 994.4 865.5 994.4 866.2C994.5 866.9 994.6 867.5 994.7 868.2C994.8 868.8 994.9 869.5 994.9 870.2C995.0 870.8 995.1 871.5 995.2 872.1C995.3 872.8 995.4 873.5 995.5 874.1C995.6 874.8 995.7 875.5 995.8 876.1C995.9 876.8 996.0 877.4 996.0 878.1C996.1 878.8 996.2 879.4 996.3 880.1C996.4 880.8 996.5 881.4 996.6 882.1C996.8 882.7 996.9 883.4 997.0 884.1C997.1 884.7 997.2 885.4 997.3 886.0C997.4 886.7 997.5 887.4 997.6 888.0C997.7 888.7 997.8 889.4 998.0 890.0C998.1 890.7 998.2 891.7 998.3 892.0" fill="none" stroke="#444" stroke-width="1.05" stroke-dasharray="2 3.3"/>
</svg></body></html>
